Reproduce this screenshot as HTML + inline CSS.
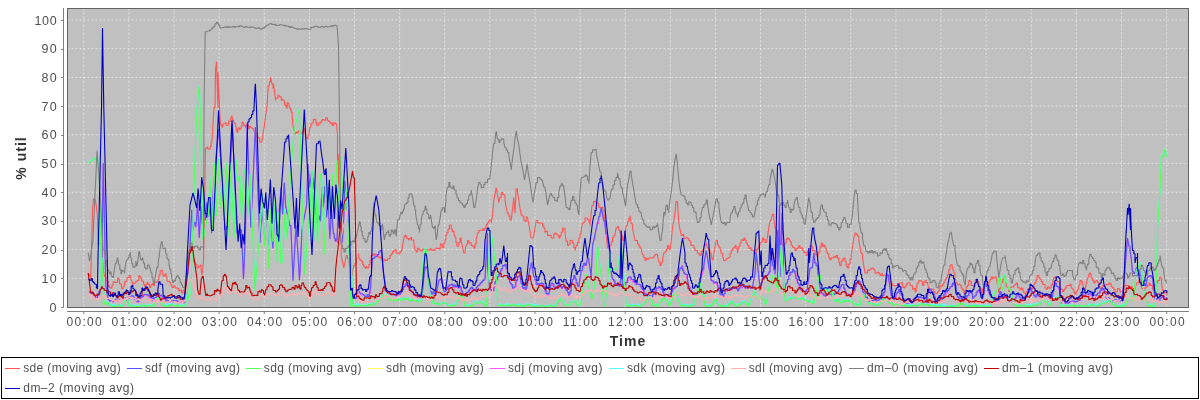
<!DOCTYPE html>
<html><head><meta charset="utf-8"><style>
html,body{margin:0;padding:0;background:#fff;width:1200px;height:400px;overflow:hidden}
svg{display:block;will-change:transform}
text{font-family:"Liberation Sans",sans-serif;fill:#505050}
.tl{font-size:12.5px}
.tx{font-size:12px}
.lab{font-size:14px;font-weight:bold;fill:#333333;letter-spacing:1px}
.lg{font-size:12px}
</style></head><body>
<svg width="1200" height="400" viewBox="0 0 1200 400">
<defs><clipPath id="pc"><rect x="67.5" y="8.5" width="1121.0" height="299.0"/></clipPath></defs>
<rect x="0" y="0" width="1200" height="400" fill="#ffffff"/>
<rect x="67.5" y="8.5" width="1121.0" height="299.0" fill="#c0c0c0"/>
<path d="M83.80 8.5V307.5M128.92 8.5V307.5M174.04 8.5V307.5M219.16 8.5V307.5M264.28 8.5V307.5M309.40 8.5V307.5M354.52 8.5V307.5M399.64 8.5V307.5M444.76 8.5V307.5M489.88 8.5V307.5M535.00 8.5V307.5M580.12 8.5V307.5M625.24 8.5V307.5M670.36 8.5V307.5M715.48 8.5V307.5M760.60 8.5V307.5M805.72 8.5V307.5M850.84 8.5V307.5M895.96 8.5V307.5M941.08 8.5V307.5M986.20 8.5V307.5M1031.32 8.5V307.5M1076.44 8.5V307.5M1121.56 8.5V307.5M1166.68 8.5V307.5M67.5 278.30H1188.5M67.5 249.60H1188.5M67.5 220.90H1188.5M67.5 192.20H1188.5M67.5 163.50H1188.5M67.5 134.80H1188.5M67.5 106.10H1188.5M67.5 77.40H1188.5M67.5 48.70H1188.5M67.5 20.00H1188.5" stroke="#ffffff" stroke-width="0.6" stroke-dasharray="2 2" fill="none" opacity="0.9"/>
<g clip-path="url(#pc)">
<path d="M88.2,274.0L89.5,274.0L89.5,276.0L90.7,276.0L90.7,280.0L91.6,245.6L92.5,210.0L93.5,199.0L94.5,199.0L94.5,199.8L95.5,199.8L95.5,201.0L96.4,206.5L97.3,215.0L98.2,244.0L99.5,244.0L99.5,243.6L100.7,243.6L100.7,245.5L101.4,245.5L101.4,243.8L102.0,252.5L103.2,270.0L104.2,275.6L105.1,275.6L105.1,277.5L106.1,277.5L106.1,280.4L107.0,280.4L107.0,281.2L108.2,281.2L108.2,285.9L109.5,285.9L109.5,287.5L110.8,287.5L110.8,288.2L112.0,288.2L112.0,285.0L113.2,285.0L113.2,281.8L114.5,281.8L114.5,282.5L116.1,282.5L116.1,282.3L117.6,282.3L117.6,278.1L118.6,278.1L118.6,279.1L119.5,279.1L119.5,283.8L120.4,283.8L120.4,284.1L121.4,284.1L121.4,288.1L122.3,288.1L122.3,288.8L123.2,288.8L123.2,286.2L124.5,286.2L124.5,281.9L125.8,281.9L125.8,281.2L127.0,281.2L127.0,277.7L128.2,277.7L128.2,277.5L129.2,277.5L129.2,275.3L130.1,275.3L130.1,275.6L131.4,281.2L132.3,281.2L132.3,284.1L133.2,284.1L133.2,283.8L134.5,283.8L134.5,283.0L135.8,283.0L135.8,281.2L137.3,281.2L137.3,280.4L138.9,280.4L138.9,275.6L139.8,275.6L139.8,276.8L140.8,276.8L140.8,278.8L141.7,278.8L141.7,281.1L142.6,281.1L142.6,281.2L143.6,281.2L143.6,284.4L144.5,284.4L144.5,286.2L145.8,286.2L145.8,284.5L147.0,284.5L147.0,282.5L148.2,282.5L148.2,284.5L149.5,284.5L149.5,287.5L150.8,287.5L150.8,285.0L152.0,285.0L152.0,283.8L153.2,283.8L153.2,285.4L154.5,285.4L154.5,282.1L155.8,282.1L155.8,282.5L157.0,282.5L157.0,281.2L157.9,281.2L157.9,279.8L158.9,279.8L158.9,275.0L160.1,275.0L160.1,270.7L161.4,270.7L161.4,270.0L162.3,270.0L162.3,274.3L163.2,274.3L163.2,276.2L164.2,276.2L164.2,275.5L165.1,275.5L165.1,273.8L166.1,273.8L166.1,276.7L167.0,276.7L167.0,281.2L168.2,281.2L168.2,281.5L169.5,281.5L169.5,282.5L170.8,282.5L170.8,284.9L172.0,284.9L172.0,287.5L173.5,287.5L173.5,285.9L175.0,285.9L175.0,288.0L176.2,288.0L176.2,288.1L177.5,288.1L177.5,288.3L178.8,288.3L178.8,291.0L180.0,291.0L180.0,290.0L181.5,290.0L181.5,292.9L183.0,292.9L183.0,290.4L184.5,290.4L184.5,293.0L185.8,282.6L187.0,270.0L188.0,261.1L189.0,255.0L190.5,247.0L192.0,247.0L192.0,250.0L193.0,255.8L194.0,262.0L195.5,262.0L195.5,264.5L197.0,264.5L197.0,268.0L198.5,268.0L198.5,266.2L200.0,266.2L200.0,265.0L201.0,265.0L201.0,268.9L202.0,275.0L203.5,262.0L204.5,204.6L205.5,148.0L207.0,148.0L207.0,147.0L207.6,147.0L207.6,148.9L208.9,148.9L208.9,149.1L210.2,149.1L210.2,146.4L211.0,146.4L211.0,142.8L211.8,142.8L211.8,140.5L212.0,140.5L212.0,141.0L213.5,115.0L213.5,115.0L213.5,115.4L214.2,107.0L215.0,107.0L215.0,108.0L215.5,70.0L216.5,62.5L216.5,62.5L216.5,61.8L218.0,108.0L218.0,72.0L219.5,107.0L219.5,107.0L219.5,107.0L220.2,120.4L221.0,125.4L221.9,125.4L221.9,127.1L222.7,127.1L222.7,124.2L223.6,124.2L223.6,123.8L224.4,123.8L224.4,123.5L225.2,123.5L225.2,122.9L226.1,122.9L226.1,125.2L226.9,125.2L226.9,125.4L227.7,125.4L227.7,125.2L228.6,125.2L228.6,121.2L229.4,121.2L229.4,121.3L230.3,121.3L230.3,118.7L231.1,118.7L231.1,117.0L231.9,117.0L231.9,115.4L232.8,120.4L233.6,120.4L233.6,122.5L234.4,122.5L234.4,123.8L235.7,123.8L235.7,126.2L237.0,132.1L237.8,132.1L237.8,128.1L238.6,128.1L238.6,127.9L239.5,127.9L239.5,129.6L240.3,129.6L240.3,128.8L241.1,128.8L241.1,126.8L242.0,126.8L242.0,122.1L242.8,122.1L242.8,122.7L243.7,122.7L243.7,125.4L244.5,125.4L244.5,125.4L245.3,125.4L245.3,127.1L246.2,127.1L246.2,124.8L247.0,124.8L247.0,123.8L247.8,123.8L247.8,125.2L248.7,125.2L248.7,128.8L249.5,128.8L249.5,126.2L250.4,126.2L250.4,127.1L251.2,127.1L251.2,127.5L252.0,127.5L252.0,128.8L252.9,128.8L252.9,128.8L253.7,128.8L253.7,131.3L255.4,131.3L255.4,133.3L257.1,133.3L257.1,137.2L258.3,137.2L258.3,137.9L259.6,137.9L259.6,142.2L260.4,142.2L260.4,142.2L261.2,142.2L261.2,141.3L262.1,141.3L262.1,138.6L262.9,138.6L262.9,133.8L264.2,127.1L265.4,117.1L266.8,107.0L267.0,107.0L267.0,108.0L267.9,90.3L268.2,90.3L268.2,85.5L269.4,85.5L269.4,81.8L270.5,81.8L270.5,77.7L270.8,77.7L270.8,78.0L271.9,84.0L273.0,84.0L273.0,88.6L273.2,83.0L274.4,90.0L275.5,100.3L275.8,100.3L275.8,98.0L276.9,98.0L276.9,98.3L278.0,98.3L278.0,95.3L279.0,95.3L279.0,96.0L279.7,96.0L279.7,97.0L280.5,97.0L280.5,96.9L281.3,96.9L281.3,100.3L281.5,100.3L281.5,99.2L283.0,99.2L283.0,100.8L284.5,100.8L284.5,104.2L284.7,104.2L284.7,105.3L285.9,105.3L285.9,107.0L287.0,107.0L287.0,102.5L287.2,108.7L287.2,102.8L288.0,102.8L288.0,103.3L288.9,103.3L288.9,106.2L289.5,106.2L289.5,108.0L290.6,108.0L290.6,110.4L291.4,110.4L291.4,112.4L292.2,112.4L292.2,117.1L293.1,127.1L293.9,127.1L293.9,130.9L294.7,130.9L294.7,133.8L296.0,133.8L296.0,132.0L297.3,132.0L297.3,133.0L298.1,133.0L298.1,131.6L298.9,131.6L298.9,130.5L299.8,130.5L299.8,131.5L300.6,131.5L300.6,133.8L301.4,133.8L301.4,133.7L302.3,133.7L302.3,132.1L303.1,132.1L303.1,129.2L304.0,129.2L304.0,128.8L304.8,128.8L304.8,131.0L305.6,137.2L306.5,137.2L306.5,138.1L307.3,138.1L307.3,138.8L308.1,138.8L308.1,134.8L309.0,134.8L309.0,133.8L309.8,127.5L310.7,127.5L310.7,123.8L311.9,123.8L311.9,123.3L313.2,123.3L313.2,119.6L314.4,119.6L314.4,119.4L315.7,119.4L315.7,122.1L316.5,122.1L316.5,124.9L317.4,124.9L317.4,125.4L318.6,125.4L318.6,122.8L319.9,122.8L319.9,122.9L321.1,122.9L321.1,121.0L322.4,121.0L322.4,119.6L324.1,119.6L324.1,120.2L325.7,120.2L325.7,117.9L326.6,117.9L326.6,117.9L327.4,117.9L327.4,120.4L328.2,120.4L328.2,121.1L329.1,121.1L329.1,121.2L329.9,121.2L329.9,123.0L330.8,123.0L330.8,123.8L331.6,123.8L331.6,122.7L332.4,122.7L332.4,125.4L333.3,125.4L333.3,124.8L334.1,124.8L334.1,122.9L335.4,122.9L335.4,123.8L336.6,123.8L336.6,123.8L337.5,135.5L337.5,243.0L338.8,153.9L340.0,203.4L341.2,255.5L342.5,262.1L343.8,268.0L345.0,262.3L346.2,255.5L347.5,255.5L347.5,258.8L348.8,258.8L348.8,261.8L350.0,268.8L351.2,275.5L352.5,275.5L352.5,271.1L353.8,265.5L355.0,265.5L355.0,262.9L356.2,262.9L356.2,257.9L357.5,257.9L357.5,254.0L358.8,254.0L358.8,258.4L360.0,258.4L360.0,260.5L361.2,260.5L361.2,261.0L362.5,261.0L362.5,264.6L363.8,264.6L363.8,266.8L365.0,266.8L365.0,268.1L366.2,268.1L366.2,266.9L367.5,266.9L367.5,268.0L368.8,268.0L368.8,264.6L370.0,264.6L370.0,260.3L371.2,260.3L371.2,255.5L372.5,255.5L372.5,253.9L373.8,253.9L373.8,255.2L375.0,255.2L375.0,254.0L376.2,254.0L376.2,255.4L377.5,255.4L377.5,256.1L378.8,256.1L378.8,258.0L380.0,258.0L380.0,257.3L381.2,257.3L381.2,259.2L382.5,259.2L382.5,261.8L383.8,261.8L383.8,259.4L385.0,259.4L385.0,260.4L386.2,260.4L386.2,260.5L387.5,260.5L387.5,258.7L388.8,258.7L388.8,258.8L390.0,258.8L390.0,255.5L391.2,255.5L391.2,253.8L392.5,253.8L392.5,251.6L393.8,251.6L393.8,250.5L395.0,250.5L395.0,249.8L396.2,249.8L396.2,253.2L397.5,253.2L397.5,253.0L398.8,253.0L398.8,253.8L400.0,253.8L400.0,251.9L401.2,251.9L401.2,250.0L402.2,250.0L402.2,247.9L403.1,242.5L404.1,236.9L405.0,236.9L405.0,235.0L405.9,235.0L405.9,236.3L406.9,236.3L406.9,238.8L407.8,238.8L407.8,238.6L408.8,238.6L408.8,240.0L409.7,240.0L409.7,238.6L410.6,238.6L410.6,237.5L411.6,237.5L411.6,240.0L412.5,240.0L412.5,240.0L413.8,240.0L413.8,242.5L415.0,250.0L416.2,250.0L416.2,251.9L417.5,251.9L417.5,248.2L418.8,248.2L418.8,249.5L420.0,249.5L420.0,250.9L421.2,250.9L421.2,251.0L422.5,251.0L422.5,249.3L423.8,249.3L423.8,249.4L425.0,249.4L425.0,252.0L426.2,252.0L426.2,249.5L427.5,249.5L427.5,249.9L428.8,249.9L428.8,250.0L430.0,250.0L430.0,248.9L431.2,248.9L431.2,250.2L432.5,250.2L432.5,249.9L433.8,249.9L433.8,250.4L435.0,250.4L435.0,249.0L436.2,249.0L436.2,248.1L437.5,248.1L437.5,248.5L438.8,248.5L438.8,248.3L440.0,248.3L440.0,250.0L440.6,243.8L441.6,243.8L441.6,244.7L442.5,244.7L442.5,247.5L443.8,247.5L443.8,243.1L445.0,243.1L445.0,240.0L445.9,240.0L445.9,235.0L446.9,235.0L446.9,232.5L448.1,232.5L448.1,229.3L449.4,229.3L449.4,225.0L450.3,225.0L450.3,225.0L451.2,225.0L451.2,228.8L452.2,228.8L452.2,231.8L453.1,231.8L453.1,231.2L454.1,231.2L454.1,235.2L455.0,235.2L455.0,237.5L455.9,237.5L455.9,242.5L456.9,242.5L456.9,246.2L457.8,246.2L457.8,246.2L458.8,246.2L458.8,242.5L460.0,242.5L460.0,238.0L461.2,238.0L461.2,241.5L462.5,246.7L463.8,253.0L465.0,253.0L465.0,250.4L466.2,244.5L467.5,244.5L467.5,240.5L468.8,240.5L468.8,243.3L470.0,243.3L470.0,242.7L471.2,242.7L471.2,245.5L472.5,245.5L472.5,245.9L473.8,245.9L473.8,248.0L475.0,248.0L475.0,244.0L476.2,244.0L476.2,239.8L477.5,233.0L478.8,233.0L478.8,230.6L480.0,230.6L480.0,230.2L481.2,230.2L481.2,230.5L482.5,230.5L482.5,228.7L483.8,228.7L483.8,230.2L485.0,230.2L485.0,228.0L486.2,228.0L486.2,224.4L487.5,224.4L487.5,222.8L488.8,222.8L488.8,220.5L490.0,220.5L490.0,220.0L491.2,220.0L491.2,223.0L492.2,217.2L493.2,208.0L493.8,200.0L495.0,194.3L496.2,187.5L497.5,195.4L498.8,202.5L500.0,197.4L501.2,197.4L501.2,192.5L502.5,192.5L502.5,194.4L503.8,194.4L503.8,195.0L505.0,195.0L505.0,199.9L506.2,207.5L507.5,213.2L508.8,213.2L508.8,216.1L510.0,216.1L510.0,220.0L511.2,220.0L511.2,220.5L512.5,208.7L513.8,197.5L515.0,213.0L516.2,188.8L517.5,188.8L517.5,192.4L518.8,200.0L520.0,208.0L521.2,215.0L522.5,215.0L522.5,216.2L523.8,216.2L523.8,220.5L525.0,220.5L525.0,221.5L526.2,221.5L526.2,217.0L527.5,217.0L527.5,218.0L528.8,224.0L530.0,231.3L531.2,238.0L532.5,238.0L532.5,237.7L533.8,237.7L533.8,235.5L535.0,228.2L536.2,220.5L537.5,220.5L537.5,222.6L538.8,222.6L538.8,223.1L540.0,223.1L540.0,223.0L541.2,223.0L541.2,223.2L542.5,223.2L542.5,225.9L543.8,225.9L543.8,228.0L545.0,228.0L545.0,232.2L546.2,232.2L546.2,231.2L547.5,231.2L547.5,235.5L548.8,235.5L548.8,235.4L550.0,235.4L550.0,235.2L551.2,235.2L551.2,238.0L552.5,238.0L552.5,238.1L553.8,238.1L553.8,233.9L555.0,233.9L555.0,233.0L556.2,233.0L556.2,234.8L557.5,234.8L557.5,235.3L558.8,235.3L558.8,238.0L560.0,238.0L560.0,236.0L561.2,236.0L561.2,232.3L562.5,232.3L562.5,228.0L563.8,228.0L563.8,228.6L565.0,228.6L565.0,233.0L566.2,241.1L567.5,241.1L567.5,245.5L568.8,245.5L568.8,244.3L570.0,244.3L570.0,240.4L571.2,240.4L571.2,240.5L572.5,240.5L572.5,243.3L573.8,243.3L573.8,247.5L575.0,247.5L575.0,250.5L576.2,245.4L577.5,245.4L577.5,242.4L578.8,242.4L578.8,238.0L580.0,238.0L580.0,233.6L581.2,233.6L581.2,229.6L582.5,223.0L583.8,223.0L583.8,222.2L585.0,222.2L585.0,218.1L586.2,218.1L586.2,218.0L587.5,218.0L587.5,219.6L588.8,219.6L588.8,222.3L590.0,222.3L590.0,225.5L591.0,215.3L592.0,205.5L593.5,205.5L593.5,201.6L595.0,201.6L595.0,201.0L596.0,201.0L596.0,203.2L597.0,203.2L597.0,203.0L598.5,203.0L598.5,207.0L600.0,207.0L600.0,208.0L601.5,208.0L601.5,207.3L603.0,207.3L603.0,210.5L604.0,210.5L604.0,214.2L605.0,220.5L606.2,234.8L607.5,248.0L608.8,248.0L608.8,246.7L610.0,246.7L610.0,245.5L611.2,245.5L611.2,242.1L612.5,242.1L612.5,237.6L613.8,237.6L613.8,235.5L615.0,235.5L615.0,233.9L616.2,227.7L617.5,227.7L617.5,226.8L618.8,226.8L618.8,230.4L620.0,230.4L620.0,233.0L621.2,233.0L621.2,235.5L622.5,235.5L622.5,240.5L623.8,240.5L623.8,237.0L625.0,237.0L625.0,232.3L626.2,225.5L627.5,225.5L627.5,221.4L628.8,221.4L628.8,218.1L630.0,218.1L630.0,215.5L631.2,223.7L632.5,223.7L632.5,228.0L633.8,234.5L635.0,240.5L636.2,240.5L636.2,240.5L637.5,240.5L637.5,243.9L638.8,243.9L638.8,246.1L640.0,246.1L640.0,248.0L641.2,248.0L641.2,249.6L642.5,254.7L643.8,254.7L643.8,257.4L645.0,257.4L645.0,260.5L646.2,260.5L646.2,258.4L647.5,258.4L647.5,259.1L648.8,259.1L648.8,258.0L650.0,258.0L650.0,258.0L651.2,258.0L651.2,257.7L652.5,257.7L652.5,257.9L653.8,257.9L653.8,256.0L655.0,256.0L655.0,254.6L656.2,254.6L656.2,254.2L657.5,254.2L657.5,255.5L658.8,262.0L660.0,262.0L660.0,265.5L661.2,265.5L661.2,262.7L662.5,262.7L662.5,259.1L663.8,253.0L665.0,253.0L665.0,251.7L666.2,251.7L666.2,249.2L667.5,249.2L667.5,245.5L668.8,245.5L668.8,248.9L670.0,248.9L670.0,250.5L671.2,240.6L672.5,228.0L673.8,220.6L675.0,213.0L676.0,201.5L677.5,201.5L677.5,203.0L678.8,223.0L680.0,229.1L681.2,235.5L682.5,235.5L682.5,234.6L683.8,234.6L683.8,238.7L685.0,238.7L685.0,238.0L686.2,238.0L686.2,237.8L687.5,237.8L687.5,238.4L688.8,238.4L688.8,240.5L690.0,240.5L690.0,240.3L691.2,245.4L692.5,245.4L692.5,245.5L693.8,245.5L693.8,248.0L695.0,248.0L695.0,250.8L696.2,250.8L696.2,250.5L697.5,250.5L697.5,253.3L698.8,253.3L698.8,253.9L700.0,253.9L700.0,255.5L701.2,255.5L701.2,251.4L702.5,251.4L702.5,250.3L703.8,250.3L703.8,245.5L705.0,245.5L705.0,244.3L706.2,244.3L706.2,243.0L707.5,248.1L708.8,248.1L708.8,250.7L710.0,250.7L710.0,253.0L711.2,253.0L711.2,255.3L712.5,260.5L713.8,254.5L715.0,247.0L716.2,240.5L717.5,240.5L717.5,245.0L718.8,245.0L718.8,247.3L720.0,247.3L720.0,248.0L721.2,253.3L722.5,253.3L722.5,255.4L723.8,260.5L725.0,260.5L725.0,260.3L726.2,260.3L726.2,258.7L727.5,258.7L727.5,258.0L728.8,258.0L728.8,257.3L730.0,257.3L730.0,253.5L731.2,253.5L731.2,250.5L732.5,250.5L732.5,248.5L733.8,248.5L733.8,247.6L735.0,247.6L735.0,245.5L736.2,245.5L736.2,249.0L737.5,249.0L737.5,253.0L738.8,246.2L740.0,246.2L740.0,243.0L741.2,243.0L741.2,239.7L742.5,239.7L742.5,240.4L743.8,240.4L743.8,238.0L745.0,238.0L745.0,240.2L746.2,240.2L746.2,243.5L747.5,243.5L747.5,245.5L748.8,245.5L748.8,248.4L750.0,248.4L750.0,247.8L751.2,247.8L751.2,250.5L752.5,250.5L752.5,250.0L753.8,250.0L753.8,253.9L755.0,253.9L755.0,253.0L756.2,253.0L756.2,249.6L757.5,249.6L757.5,248.1L758.8,248.1L758.8,245.5L760.0,245.5L760.0,242.7L761.2,242.7L761.2,241.7L762.5,241.7L762.5,238.0L763.8,238.0L763.8,239.5L765.0,239.5L765.0,242.5L766.2,242.5L766.2,243.0L767.5,237.2L768.8,227.9L770.0,220.5L771.2,220.5L771.2,219.3L772.5,214.2L773.8,214.2L773.8,219.2L775.0,228.0L776.2,228.0L776.2,231.0L777.5,238.0L778.8,238.0L778.8,239.8L780.0,239.8L780.0,244.3L781.2,244.3L781.2,245.5L782.5,245.5L782.5,244.4L783.8,244.4L783.8,244.6L785.0,244.6L785.0,243.0L786.2,243.0L786.2,239.1L787.5,239.1L787.5,238.0L788.8,238.0L788.8,239.8L790.0,239.8L790.0,241.8L791.2,241.8L791.2,245.5L792.5,245.5L792.5,247.1L793.8,247.1L793.8,247.7L795.0,247.7L795.0,250.5L796.2,250.5L796.2,248.7L797.5,248.7L797.5,248.0L798.8,248.0L798.8,245.5L800.0,245.5L800.0,248.1L801.2,248.1L801.2,247.7L802.5,247.7L802.5,250.5L803.8,250.5L803.8,252.8L805.0,252.8L805.0,252.0L806.2,252.0L806.2,255.5L807.5,255.5L807.5,250.9L808.8,250.9L808.8,248.7L810.0,248.7L810.0,245.5L811.2,245.5L811.2,246.3L812.5,246.3L812.5,250.7L813.8,250.7L813.8,250.5L815.0,250.5L815.0,254.7L816.2,254.7L816.2,254.5L817.5,254.5L817.5,258.0L818.8,251.9L820.0,251.9L820.0,247.1L821.2,247.1L821.2,243.0L822.5,243.0L822.5,246.5L823.8,246.5L823.8,245.3L825.0,245.3L825.0,248.0L826.2,248.0L826.2,252.2L827.5,252.2L827.5,253.7L828.8,253.7L828.8,258.0L830.0,258.0L830.0,259.7L831.2,259.7L831.2,257.7L832.5,257.7L832.5,258.0L833.8,258.0L833.8,256.4L835.0,256.4L835.0,257.5L836.2,257.5L836.2,255.5L837.5,255.5L837.5,258.1L838.8,258.1L838.8,260.4L840.0,265.5L841.2,265.5L841.2,261.1L842.5,261.1L842.5,259.1L843.8,259.1L843.8,258.0L845.0,258.0L845.0,261.7L846.2,261.7L846.2,266.1L847.5,266.1L847.5,268.0L848.8,268.0L848.8,264.1L850.0,264.1L850.0,259.4L851.2,259.4L851.2,255.5L852.5,246.5L853.8,238.6L855.0,233.0L856.2,233.0L856.2,234.3L857.5,234.3L857.5,236.1L858.8,236.1L858.8,240.5L860.0,246.4L861.2,253.4L862.5,253.4L862.5,258.0L863.8,265.8L865.0,273.0L866.2,273.0L866.2,273.0L867.5,273.0L867.5,270.1L868.8,270.1L868.8,270.5L870.0,270.5L870.0,269.3L871.2,269.3L871.2,268.4L872.5,268.4L872.5,268.0L873.8,268.0L873.8,269.8L875.0,269.8L875.0,273.1L876.2,273.1L876.2,273.0L877.5,273.0L877.5,272.2L878.8,272.2L878.8,274.0L880.0,274.0L880.0,275.5L881.2,275.5L881.2,273.6L882.5,273.6L882.5,275.4L883.8,275.4L883.8,275.2L885.0,275.2L885.0,275.5L886.2,275.5L886.2,277.0L887.5,277.0L887.5,275.2L888.8,275.2L888.8,278.0L890.0,278.0L890.0,281.8L891.2,281.8L891.2,283.8L892.5,283.8L892.5,285.5L893.8,285.5L893.8,285.8L895.0,285.8L895.0,285.6L896.2,285.6L896.2,285.5L897.5,285.5L897.5,283.2L898.8,283.2L898.8,283.5L900.0,283.5L900.0,283.0L901.2,283.0L901.2,282.8L902.5,282.8L902.5,287.4L903.8,287.4L903.8,288.0L905.0,288.0L905.0,286.4L906.2,286.4L906.2,284.1L907.5,284.1L907.5,283.0L908.8,283.0L908.8,282.8L910.0,282.8L910.0,285.5L911.2,285.5L911.2,285.8L912.5,285.8L912.5,289.2L913.8,289.2L913.8,288.6L915.0,288.6L915.0,291.8L916.2,291.8L916.2,288.5L917.5,283.0L918.8,283.0L918.8,280.6L920.0,280.6L920.0,280.5L921.2,280.5L921.2,281.5L922.5,281.5L922.5,285.5L923.8,285.5L923.8,282.8L925.0,282.8L925.0,280.5L926.2,280.5L926.2,282.2L927.5,282.2L927.5,283.0L928.8,288.7L930.0,288.7L930.0,290.5L931.2,290.5L931.2,289.4L932.5,289.4L932.5,289.2L933.8,289.2L933.8,291.9L935.0,291.9L935.0,293.0L936.2,293.0L936.2,293.5L937.5,293.5L937.5,291.8L938.8,291.8L938.8,290.2L940.0,290.2L940.0,285.5L941.2,285.5L941.2,286.3L942.5,286.3L942.5,284.2L943.8,284.2L943.8,282.3L945.0,282.3L945.0,279.2L946.2,279.2L946.2,277.5L947.5,277.5L947.5,274.2L948.8,274.2L948.8,269.9L950.0,269.9L950.0,265.5L950.9,265.5L950.9,264.7L951.9,264.7L951.9,264.2L952.8,270.0L953.8,270.0L953.8,273.0L955.0,273.0L955.0,276.9L956.2,283.0L957.5,283.0L957.5,284.7L958.8,284.7L958.8,284.2L960.0,284.2L960.0,285.2L961.2,285.2L961.2,288.0L962.5,288.0L962.5,289.7L963.8,289.7L963.8,293.0L965.0,293.0L965.0,290.9L966.2,290.9L966.2,286.8L967.5,286.8L967.5,285.4L968.8,285.4L968.8,280.5L970.0,280.5L970.0,281.3L971.2,281.3L971.2,285.5L972.5,285.5L972.5,285.4L973.8,285.4L973.8,286.8L975.0,286.8L975.0,283.0L976.2,283.0L976.2,279.2L977.5,279.2L977.5,281.7L978.8,281.7L978.8,283.0L980.0,288.9L981.2,288.9L981.2,293.0L982.5,293.0L982.5,288.9L983.8,288.9L983.8,284.2L985.0,284.2L985.0,283.6L986.2,283.6L986.2,285.5L987.5,285.5L987.5,285.1L988.8,285.1L988.8,281.8L990.0,281.8L990.0,279.6L991.2,279.6L991.2,276.8L992.5,276.8L992.5,278.7L993.8,278.7L993.8,278.0L995.0,278.0L995.0,276.9L996.2,276.9L996.2,276.8L997.5,285.2L998.8,293.0L1000.0,287.9L1001.2,287.9L1001.2,283.0L1002.5,283.0L1002.5,279.6L1003.8,279.6L1003.8,278.0L1005.0,278.0L1005.0,282.7L1006.2,282.7L1006.2,286.8L1007.5,286.8L1007.5,287.3L1008.8,287.3L1008.8,291.8L1010.0,291.8L1010.0,288.0L1011.2,288.0L1011.2,286.8L1012.5,286.8L1012.5,287.0L1013.8,287.0L1013.8,285.5L1015.0,285.5L1015.0,284.4L1016.2,284.4L1016.2,283.0L1017.5,283.0L1017.5,287.4L1018.8,287.4L1018.8,288.0L1020.0,288.0L1020.0,289.8L1021.2,289.8L1021.2,288.0L1022.5,288.0L1022.5,290.3L1023.8,290.3L1023.8,293.0L1025.0,293.0L1025.0,294.1L1026.2,294.1L1026.2,291.8L1027.5,291.8L1027.5,289.4L1028.8,289.4L1028.8,288.0L1030.0,288.0L1030.0,288.0L1031.2,288.0L1031.2,289.2L1032.5,289.2L1032.5,287.3L1033.8,287.3L1033.8,284.2L1035.0,284.2L1035.0,282.3L1036.2,282.3L1036.2,280.5L1037.5,275.5L1038.8,275.5L1038.8,277.5L1040.0,277.5L1040.0,279.2L1041.2,279.2L1041.2,281.5L1042.5,281.5L1042.5,284.2L1043.8,284.2L1043.8,284.5L1045.0,284.5L1045.0,288.0L1046.2,288.0L1046.2,289.1L1047.5,289.1L1047.5,286.8L1048.8,286.8L1048.8,288.3L1050.0,288.3L1050.0,288.0L1051.2,288.0L1051.2,285.1L1052.5,285.1L1052.5,283.0L1053.8,277.9L1055.0,277.9L1055.0,276.8L1056.2,276.8L1056.2,280.8L1057.5,280.8L1057.5,281.8L1058.8,281.8L1058.8,282.0L1060.0,282.0L1060.0,283.0L1060.0,288.0L1061.2,288.0L1061.2,289.5L1062.5,289.5L1062.5,291.8L1063.8,291.8L1063.8,289.6L1065.0,289.6L1065.0,288.0L1066.2,288.0L1066.2,285.7L1067.5,285.7L1067.5,285.5L1068.8,285.5L1068.8,285.6L1070.0,285.6L1070.0,284.2L1071.2,284.2L1071.2,288.2L1072.5,288.2L1072.5,289.2L1073.8,289.2L1073.8,292.4L1075.0,292.4L1075.0,294.2L1076.2,294.2L1076.2,291.1L1077.5,291.1L1077.5,289.2L1078.8,289.2L1078.8,285.0L1080.0,285.0L1080.0,280.5L1081.2,280.5L1081.2,281.5L1082.5,281.5L1082.5,283.0L1083.8,288.3L1085.0,288.3L1085.0,290.5L1086.2,283.8L1087.5,278.0L1088.4,278.0L1088.4,274.8L1089.4,274.8L1089.4,273.0L1090.3,273.0L1090.3,274.1L1091.2,274.1L1091.2,278.0L1092.5,278.0L1092.5,280.2L1093.8,280.2L1093.8,283.0L1095.0,283.0L1095.0,281.2L1096.2,281.2L1096.2,280.5L1097.5,280.5L1097.5,282.4L1098.8,282.4L1098.8,286.8L1100.0,286.8L1100.0,288.8L1101.2,288.8L1101.2,288.0L1102.5,288.0L1102.5,285.7L1103.8,285.7L1103.8,285.5L1105.0,285.5L1105.0,285.1L1106.2,285.1L1106.2,284.2L1107.5,284.2L1107.5,284.8L1108.8,284.8L1108.8,283.0L1110.0,283.0L1110.0,283.9L1111.2,283.9L1111.2,286.8L1112.5,286.8L1112.5,288.0L1113.8,288.0L1113.8,289.2L1115.0,289.2L1115.0,292.2L1116.2,292.2L1116.2,291.8L1117.5,291.8L1117.5,288.6L1118.8,288.6L1118.8,289.2L1120.0,289.2L1120.0,291.9L1121.2,291.9L1121.2,291.8L1122.5,291.8L1122.5,289.4L1123.8,289.4L1123.8,286.8L1125.0,286.8L1125.0,285.1L1126.2,285.1L1126.2,285.5L1127.5,285.5L1127.5,285.6L1128.8,285.6L1128.8,288.0L1130.0,288.0L1130.0,287.9L1131.2,287.9L1131.2,286.8L1132.5,286.8L1132.5,288.5L1133.8,288.5L1133.8,289.2L1135.0,289.2L1135.0,285.5L1136.2,285.5L1136.2,283.0L1137.5,283.0L1137.5,282.8L1138.8,282.8L1138.8,280.5L1140.0,280.5L1140.0,283.1L1141.2,283.1L1141.2,288.0L1142.5,288.0L1142.5,288.8L1143.8,288.8L1143.8,290.5L1145.0,290.5L1145.0,287.9L1146.2,287.9L1146.2,286.8L1147.5,286.8L1147.5,285.1L1148.8,285.1L1148.8,283.0L1150.0,283.0L1150.0,285.4L1151.2,285.4L1151.2,285.5L1152.5,285.5L1152.5,289.5L1153.8,289.5L1153.8,290.5L1155.0,284.8L1156.2,284.8L1156.2,283.0L1157.5,283.0L1157.5,280.6L1158.8,280.6L1158.8,280.5L1159.7,280.5L1159.7,277.3L1160.6,277.3L1160.6,278.0L1161.6,278.0L1161.6,282.8L1162.5,290.5L1163.8,290.5L1163.8,292.9L1165.0,292.9L1165.0,291.8L1165.9,291.8L1165.9,292.3L1166.9,292.3L1166.9,295.5" stroke="#ff5555" stroke-width="1.1" fill="none" stroke-linejoin="bevel"/>
<path d="M88.9,292.2L89.8,292.2L89.8,293.1L90.8,293.1L90.8,293.5L91.7,293.5L91.7,293.2L92.6,293.2L92.6,293.5L93.6,293.5L93.6,293.8L94.5,293.8L94.5,296.0L95.4,296.0L95.4,296.9L96.4,296.9L96.4,298.5L97.4,298.5L97.4,296.0L98.8,296.0L98.8,293.1L100.1,293.1L100.1,288.8L101.5,288.8L101.5,285.5L102.4,224.7L103.2,163.5L104.5,223.8L105.8,285.5L107.0,292.5L108.2,299.8L109.2,299.8L109.2,300.1L110.1,300.1L110.1,301.0L111.4,301.0L111.4,300.9L112.6,300.9L112.6,302.2L113.9,302.2L113.9,300.5L115.1,300.5L115.1,299.8L116.1,299.8L116.1,299.6L117.0,299.6L117.0,301.0L118.2,301.0L118.2,301.1L119.5,301.1L119.5,299.8L120.8,299.8L120.8,299.8L122.0,299.8L122.0,299.8L123.2,299.8L123.2,299.2L124.5,299.2L124.5,298.5L125.8,298.5L125.8,299.7L127.0,299.7L127.0,299.8L128.2,299.8L128.2,298.9L129.5,298.9L129.5,297.2L130.8,297.2L130.8,296.2L132.0,296.2L132.0,296.0L133.2,296.0L133.2,298.6L134.5,298.6L134.5,299.8L135.8,299.8L135.8,301.1L137.0,301.1L137.0,302.2L138.2,302.2L138.2,301.9L139.5,301.9L139.5,299.8L140.8,299.8L140.8,298.0L142.0,298.0L142.0,297.2L143.2,297.2L143.2,295.7L144.5,295.7L144.5,294.8L145.8,294.8L145.8,294.5L147.0,294.5L147.0,296.0L148.2,296.0L148.2,297.2L149.5,297.2L149.5,297.2L150.8,297.2L150.8,299.4L152.0,299.4L152.0,301.0L153.2,301.0L153.2,300.4L154.5,300.4L154.5,298.5L155.8,298.5L155.8,296.4L157.0,296.4L157.0,294.8L158.2,294.8L158.2,296.2L159.5,296.2L159.5,296.0L160.8,296.0L160.8,297.1L162.0,297.1L162.0,297.2L163.2,297.2L163.2,299.1L164.5,299.1L164.5,299.8L165.8,299.8L165.8,299.4L167.0,299.4L167.0,301.0L168.2,301.0L168.2,301.6L169.5,301.6L169.5,301.9L170.8,301.9L170.8,301.0L172.0,301.0L172.0,301.5L173.2,301.5L173.2,300.9L174.5,300.9L174.5,301.0L175.8,301.0L175.8,301.7L177.0,301.7L177.0,301.4L178.2,301.4L178.2,302.2L179.5,302.2L179.5,301.2L180.8,301.2L180.8,302.2L182.0,302.2L182.0,301.0L183.2,301.0L183.2,301.9L184.5,301.9L184.5,302.2L185.8,296.0L187.2,280.4L188.6,262.7L190.0,246.8L190.8,228.3L191.7,210.2L193.0,230.4L194.3,223.1L195.9,223.1L195.9,227.6L196.8,216.1L197.6,203.5L198.5,220.3L199.3,238.5L200.1,222.5L201.0,206.3L202.3,224.5L203.2,215.2L204.0,206.0L205.5,220.5L206.8,202.7L207.7,209.5L208.6,217.2L209.5,209.8L210.4,201.4L211.7,233.5L212.5,211.2L213.4,188.3L214.6,173.3L215.9,159.3L217.2,145.0L218.5,129.3L219.8,146.7L221.0,166.7L222.3,183.4L223.6,202.1L224.9,230.0L226.4,230.0L226.4,227.2L227.9,227.2L227.9,226.5L229.4,192.3L230.8,157.7L232.3,124.2L233.8,159.7L235.3,197.2L236.9,233.4L238.4,233.4L238.4,231.7L240.0,231.7L240.0,231.7L241.5,231.7L241.5,230.5L242.5,255.9L243.5,279.5L244.5,255.6L245.5,230.5L247.0,124.2L248.3,158.2L249.6,192.7L250.9,227.9L252.4,195.2L253.9,161.0L255.4,127.5L256.9,167.0L258.4,204.3L259.9,243.1L260.9,225.2L261.8,207.0L262.7,216.4L263.6,226.2L265.0,241.0L265.8,222.3L266.7,205.2L268.1,245.2L269.5,239.3L271.1,217.5L271.9,233.0L272.8,248.6L274.2,221.0L275.6,207.1L276.5,220.5L277.4,233.9L278.3,223.2L279.1,213.0L280.1,201.5L281.0,188.1L282.6,214.7L283.4,199.4L284.3,183.1L285.7,207.7L287.0,212.8L288.4,218.1L289.7,224.0L291.0,230.5L292.0,255.1L293.0,281.0L294.5,252.5L296.0,225.5L297.8,252.1L299.5,280.5L300.8,256.1L302.0,230.5L303.5,221.9L305.0,213.9L306.5,206.0L308.0,164.2L308.9,175.9L309.9,188.0L310.7,180.7L311.5,173.6L312.4,173.6L312.4,177.8L313.2,177.8L313.2,182.7L314.2,188.3L315.1,193.8L316.0,208.5L316.9,222.9L317.7,222.9L317.7,219.2L318.6,219.2L318.6,216.4L319.4,216.4L319.4,219.0L320.3,219.0L320.3,221.7L321.2,203.7L322.0,187.1L323.5,207.7L324.8,186.8L325.6,201.6L326.5,217.7L327.3,209.7L328.2,202.5L329.0,220.5L329.8,239.1L330.7,224.2L331.6,210.2L332.5,222.2L333.4,234.2L334.3,234.2L334.3,238.2L335.2,238.2L335.2,241.5L336.0,241.5L336.0,241.2L336.9,241.2L336.9,240.7L337.8,223.5L338.7,207.9L339.6,207.9L339.6,204.3L340.5,204.3L340.5,202.6L341.3,222.2L342.1,243.1L343.5,226.9L344.9,181.3L346.3,208.7L347.9,208.7L347.9,212.0L349.7,254.1L351.5,297.5L351.6,297.5L351.6,295.3L353.2,295.3L353.2,297.5L354.9,297.5L354.9,298.6L356.5,298.6L356.5,296.0L358.2,296.0L358.2,292.0L359.4,292.0L359.4,292.2L360.6,292.2L360.6,294.3L361.9,294.3L361.9,295.2L363.1,295.2L363.1,295.3L364.3,295.3L364.3,296.0L365.6,296.0L365.6,296.3L366.8,296.3L366.8,296.2L368.1,296.2L368.1,297.0L369.3,297.0L369.3,293.1L370.5,293.1L370.5,288.7L371.4,273.4L372.2,259.0L373.5,259.0L373.5,257.5L374.8,257.5L374.8,257.0L376.1,257.0L376.1,255.0L377.4,255.0L377.4,255.1L378.7,255.1L378.7,252.7L380.0,252.7L380.0,251.1L381.3,251.1L381.3,250.8L382.5,263.3L383.7,275.5L385.0,283.3L386.2,292.0L387.9,292.0L387.9,292.7L389.5,292.7L389.5,293.7L390.7,293.7L390.7,294.2L392.0,294.2L392.0,293.9L393.2,293.9L393.2,294.3L394.5,294.3L394.5,295.3L395.7,295.3L395.7,295.7L396.9,295.7L396.9,296.1L398.2,296.1L398.2,294.5L399.4,294.5L399.4,295.3L400.8,295.3L400.8,291.8L402.2,291.8L402.2,289.0L403.5,289.0L403.5,287.1L404.8,287.1L404.8,284.6L406.0,284.6L406.0,283.8L407.2,283.8L407.2,284.9L408.5,284.9L408.5,288.1L409.7,288.1L409.7,290.0L411.0,290.0L411.0,292.0L412.3,292.0L412.3,292.9L413.6,292.9L413.6,294.4L414.9,294.4L414.9,295.8L416.2,295.8L416.2,297.0L417.6,297.0L417.6,298.6L418.8,298.6L418.8,297.5L420.0,297.5L420.0,294.5L421.3,294.5L421.3,293.4L422.5,293.4L422.5,292.0L423.7,279.5L425.0,267.3L426.2,267.3L426.2,269.0L427.5,269.0L427.5,272.2L428.7,282.0L429.9,292.0L431.4,292.0L431.4,292.2L432.8,292.2L432.8,294.0L434.3,294.0L434.3,293.7L435.7,293.7L435.7,295.3L437.4,287.3L439.0,280.5L440.2,280.5L440.2,278.9L441.5,278.9L441.5,278.8L442.7,284.6L444.0,292.0L445.2,292.0L445.2,290.5L446.4,290.5L446.4,288.1L447.7,288.1L447.7,287.7L448.9,287.7L448.9,285.4L450.2,285.4L450.2,285.7L451.6,285.7L451.6,285.1L452.9,285.1L452.9,286.1L454.2,286.1L454.2,287.7L455.5,287.7L455.5,287.1L457.0,287.1L457.0,287.7L458.5,287.7L458.5,288.0L460.0,288.0L460.0,287.2L461.2,287.2L461.2,290.3L462.5,290.3L462.5,294.8L463.8,294.8L463.8,294.6L465.0,294.6L465.0,296.0L466.2,296.0L466.2,293.4L467.5,293.4L467.5,292.2L468.8,292.2L468.8,290.8L470.0,290.8L470.0,288.5L471.2,288.5L471.2,289.9L472.5,289.9L472.5,289.8L473.8,289.8L473.8,289.6L475.0,289.6L475.0,291.0L476.2,291.0L476.2,287.7L477.5,287.7L477.5,286.0L478.8,286.0L478.8,284.8L480.0,284.8L480.0,283.5L481.2,283.5L481.2,281.8L482.5,281.8L482.5,281.0L483.8,281.0L483.8,280.2L485.0,280.2L485.0,279.8L486.2,256.5L487.5,233.5L487.5,273.5L488.8,282.6L490.0,289.8L491.2,289.8L491.2,289.9L492.5,289.9L492.5,291.0L493.8,291.0L493.8,287.1L495.0,287.1L495.0,282.2L496.2,282.2L496.2,279.1L497.5,279.1L497.5,277.2L498.8,277.2L498.8,276.1L500.0,276.1L500.0,274.8L501.2,274.8L501.2,270.3L502.5,270.3L502.5,266.0L503.8,266.0L503.8,264.5L505.0,264.5L505.0,264.8L506.2,270.0L507.5,270.0L507.5,273.5L508.8,278.9L510.0,278.9L510.0,283.5L511.2,283.5L511.2,286.2L512.5,286.2L512.5,288.5L513.8,288.5L513.8,288.8L515.0,288.8L515.0,287.2L516.2,287.2L516.2,282.5L517.5,277.2L518.8,277.2L518.8,275.8L520.0,275.8L520.0,276.0L521.2,281.9L522.5,288.5L523.8,288.5L523.8,288.6L525.0,288.6L525.0,289.8L526.2,289.8L526.2,287.6L527.5,287.6L527.5,283.5L528.8,276.8L530.0,268.5L530.9,268.5L530.9,265.8L531.9,265.8L531.9,262.2L532.8,270.4L533.8,277.2L535.0,277.2L535.0,281.0L536.2,281.0L536.2,284.8L537.5,284.8L537.5,283.9L538.8,283.9L538.8,284.8L540.0,284.8L540.0,285.1L541.2,285.1L541.2,283.5L542.5,283.5L542.5,286.0L543.8,286.0L543.8,287.2L545.0,287.2L545.0,291.8L546.2,291.8L546.2,294.8L547.5,294.8L547.5,295.3L548.8,295.3L548.8,294.8L550.0,288.9L551.2,283.5L552.5,283.5L552.5,285.6L553.8,285.6L553.8,287.2L555.0,287.2L555.0,287.1L556.2,287.1L556.2,288.5L557.5,288.5L557.5,286.9L558.8,286.9L558.8,283.5L560.0,283.5L560.0,286.7L561.2,286.7L561.2,288.5L562.5,288.5L562.5,287.3L563.8,287.3L563.8,287.2L565.0,287.2L565.0,289.3L566.2,289.3L566.2,291.0L567.5,291.0L567.5,293.0L568.8,293.0L568.8,296.0L570.0,296.0L570.0,291.4L571.2,291.4L571.2,287.2L572.5,281.9L573.8,276.0L575.0,276.0L575.0,279.4L576.2,279.4L576.2,283.5L577.5,283.5L577.5,285.3L578.8,285.3L578.8,287.2L580.0,280.0L581.2,271.0L582.5,271.0L582.5,268.0L583.8,268.0L583.8,263.5L585.0,263.5L585.0,265.3L586.2,265.3L586.2,266.0L587.5,258.5L588.8,258.5L588.8,261.0L590.0,269.8L591.2,277.2L592.5,246.0L593.8,239.9L595.0,239.9L595.0,234.9L596.2,229.3L597.5,223.5L598.8,223.5L598.8,219.4L600.0,212.6L601.2,212.6L601.2,208.5L602.5,214.8L603.8,220.5L605.0,226.0L606.2,233.0L607.5,239.7L608.8,246.8L610.0,253.5L610.0,262.2L611.2,271.6L612.5,279.8L613.8,279.8L613.8,282.1L615.0,282.1L615.0,284.8L616.2,284.8L616.2,285.1L617.5,285.1L617.5,284.8L618.8,284.8L618.8,285.1L620.0,285.1L620.0,286.0L621.2,273.1L622.5,258.5L622.5,288.5L623.8,288.5L623.8,286.5L625.0,286.5L625.0,284.7L626.2,284.7L626.2,281.4L627.5,281.4L627.5,280.3L628.8,280.3L628.8,277.2L630.0,277.2L630.0,278.4L631.2,278.4L631.2,279.8L632.5,279.8L632.5,281.9L633.8,281.9L633.8,282.2L635.0,282.2L635.0,284.1L636.2,284.1L636.2,284.8L637.5,284.8L637.5,284.0L638.8,284.0L638.8,284.8L640.0,284.8L640.0,286.6L641.2,286.6L641.2,288.5L642.5,288.5L642.5,290.8L643.8,290.8L643.8,293.5L645.0,293.5L645.0,293.6L646.2,293.6L646.2,294.8L647.5,294.8L647.5,295.0L648.8,295.0L648.8,296.0L650.0,296.0L650.0,295.7L651.2,295.7L651.2,297.2L652.5,297.2L652.5,296.3L653.8,296.3L653.8,293.5L655.0,293.5L655.0,290.3L656.2,290.3L656.2,288.5L657.5,288.5L657.5,288.6L658.8,288.6L658.8,287.2L660.0,287.2L660.0,289.0L661.2,289.0L661.2,289.8L662.5,289.8L662.5,293.1L663.8,293.1L663.8,297.2L665.0,297.2L665.0,296.8L666.2,296.8L666.2,297.2L667.5,297.2L667.5,296.7L668.8,296.7L668.8,294.8L670.0,294.8L670.0,293.3L671.2,293.3L671.2,292.2L672.5,292.2L672.5,289.7L673.8,289.7L673.8,288.5L675.0,288.5L675.0,287.2L676.2,287.2L676.2,286.2L677.5,286.2L677.5,284.8L678.8,275.6L680.0,268.5L680.9,268.5L680.9,267.5L681.9,267.5L681.9,266.0L682.8,266.0L682.8,269.1L683.8,269.1L683.8,273.5L685.0,273.5L685.0,274.2L686.2,274.2L686.2,274.8L687.5,281.6L688.8,287.2L690.0,287.2L690.0,290.3L691.2,290.3L691.2,292.2L692.5,292.2L692.5,293.0L693.8,293.0L693.8,294.8L695.0,294.8L695.0,294.7L696.2,294.7L696.2,293.5L697.5,293.5L697.5,292.7L698.8,292.7L698.8,292.2L700.0,283.3L701.2,274.8L702.5,274.8L702.5,270.5L703.8,270.5L703.8,266.0L705.0,258.2L706.2,251.0L707.5,258.5L708.8,266.9L710.0,274.1L711.2,281.0L712.5,281.0L712.5,281.9L713.8,281.9L713.8,283.5L714.7,283.5L714.7,282.0L715.6,282.0L715.6,282.2L716.6,282.2L716.6,284.6L717.5,284.6L717.5,286.0L718.8,286.0L718.8,289.4L720.0,294.8L721.2,294.8L721.2,296.1L722.5,296.1L722.5,297.2L723.8,297.2L723.8,294.3L725.0,294.3L725.0,291.0L726.2,291.0L726.2,291.3L727.5,291.3L727.5,289.8L728.8,289.8L728.8,290.2L730.0,290.2L730.0,289.8L731.2,289.8L731.2,289.7L732.5,289.7L732.5,288.5L733.8,288.5L733.8,288.0L735.0,288.0L735.0,287.2L736.2,287.2L736.2,289.0L737.5,289.0L737.5,291.0L738.8,291.0L738.8,289.0L740.0,289.0L740.0,287.2L741.2,287.2L741.2,287.6L742.5,287.6L742.5,286.0L743.8,286.0L743.8,286.3L745.0,286.3L745.0,288.5L746.2,288.5L746.2,288.3L747.5,288.3L747.5,287.2L748.8,287.2L748.8,287.3L750.0,287.3L750.0,288.5L751.2,288.5L751.2,287.7L752.5,287.7L752.5,287.2L753.8,281.0L755.0,274.8L756.2,253.5L757.5,264.4L758.8,276.1L760.0,288.5L761.2,288.5L761.2,283.8L762.5,278.5L763.8,278.5L763.8,278.8L765.0,278.8L765.0,277.2L766.2,277.2L766.2,275.2L767.5,275.2L767.5,274.8L768.8,274.8L768.8,272.4L770.0,272.4L770.0,271.0L771.2,248.5L772.5,266.0L773.8,266.0L773.8,270.5L775.0,270.5L775.0,274.8L776.2,252.5L777.5,230.5L777.5,283.5L778.5,243.9L779.5,205.5L780.0,277.2L781.0,245.5L782.0,213.0L783.0,230.5L783.8,293.5L785.0,293.5L785.0,288.7L786.2,283.5L787.5,283.5L787.5,279.5L788.8,279.5L788.8,276.0L790.0,276.0L790.0,274.0L791.2,274.0L791.2,271.6L792.5,271.6L792.5,269.8L793.8,269.8L793.8,271.3L795.0,271.3L795.0,273.5L796.2,273.5L796.2,278.1L797.5,283.5L798.8,283.5L798.8,285.9L800.0,285.9L800.0,289.8L801.2,289.8L801.2,291.0L802.5,291.0L802.5,291.0L803.8,291.0L803.8,290.7L805.0,290.7L805.0,292.2L806.2,292.2L806.2,289.2L807.5,289.2L807.5,286.0L808.8,277.7L810.0,268.5L811.2,268.5L811.2,267.4L812.5,267.4L812.5,266.0L813.8,253.5L815.0,263.5L816.2,263.5L816.2,265.4L817.5,265.4L817.5,268.5L818.4,276.1L819.4,283.5L820.3,289.0L821.2,289.0L821.2,293.5L822.5,293.5L822.5,294.7L823.8,294.7L823.8,296.0L825.0,296.0L825.0,295.6L826.2,295.6L826.2,294.8L827.5,294.8L827.5,294.3L828.8,294.3L828.8,294.4L830.0,294.4L830.0,294.8L831.2,294.8L831.2,295.7L832.5,295.7L832.5,294.8L833.8,294.8L833.8,293.9L835.0,293.9L835.0,293.5L836.2,293.5L836.2,293.3L837.5,293.3L837.5,292.2L838.8,292.2L838.8,290.3L840.0,290.3L840.0,287.2L841.2,287.2L841.2,285.0L842.5,285.0L842.5,284.8L843.8,284.8L843.8,289.5L845.0,289.5L845.0,292.2L846.2,292.2L846.2,293.8L847.5,293.8L847.5,294.8L848.8,294.8L848.8,294.1L850.0,294.1L850.0,294.8L851.2,294.8L851.2,294.2L852.5,294.2L852.5,293.5L853.8,293.5L853.8,290.9L855.0,290.9L855.0,287.2L856.2,287.2L856.2,283.5L857.5,283.5L857.5,281.0L858.8,281.0L858.8,281.9L860.0,281.9L860.0,284.8L861.2,284.8L861.2,287.8L862.5,287.8L862.5,292.2L863.8,292.2L863.8,294.4L865.0,294.4L865.0,298.5L866.2,298.5L866.2,299.2L867.5,299.2L867.5,299.8L868.8,299.8L868.8,301.4L870.0,301.4L870.0,301.0L871.2,301.0L871.2,300.3L872.5,300.3L872.5,301.0L873.8,301.0L873.8,301.6L875.0,301.6L875.0,301.0L876.2,301.0L876.2,301.5L877.5,301.5L877.5,301.0L878.8,301.0L878.8,300.0L880.0,300.0L880.0,301.0L881.2,301.0L881.2,299.4L882.5,299.4L882.5,296.0L883.8,296.0L883.8,293.1L885.0,293.1L885.0,289.8L885.9,281.7L886.9,274.8L887.8,274.8L887.8,278.2L888.8,278.2L888.8,279.8L890.0,288.5L891.2,296.0L892.5,296.0L892.5,297.7L893.8,297.7L893.8,299.8L895.0,299.8L895.0,297.2L896.2,297.2L896.2,293.5L897.5,293.5L897.5,291.9L898.8,291.9L898.8,289.8L900.0,289.8L900.0,292.7L901.2,292.7L901.2,296.0L902.5,296.0L902.5,298.7L903.8,298.7L903.8,302.2L905.0,302.2L905.0,302.0L906.2,302.0L906.2,303.0L907.5,303.0L907.5,303.0L908.8,303.0L908.8,302.8L910.0,302.8L910.0,302.2L910.0,302.2L910.0,302.2L911.2,302.2L911.2,301.5L912.5,301.5L912.5,301.2L913.8,301.2L913.8,301.0L915.0,301.0L915.0,297.8L916.2,297.8L916.2,296.0L917.5,296.0L917.5,296.7L918.8,296.7L918.8,297.8L920.0,297.8L920.0,297.2L921.2,297.2L921.2,298.2L922.5,298.2L922.5,298.5L923.8,298.5L923.8,300.5L925.0,300.5L925.0,301.4L926.2,301.4L926.2,303.5L927.5,296.4L928.8,289.8L930.0,289.8L930.0,291.2L931.2,291.2L931.2,292.2L932.5,292.2L932.5,293.9L933.8,293.9L933.8,297.2L935.0,297.2L935.0,299.7L936.2,299.7L936.2,301.0L937.5,301.0L937.5,298.5L938.8,298.5L938.8,296.0L940.0,296.0L940.0,298.3L941.2,298.3L941.2,301.0L942.5,301.0L942.5,298.0L943.8,298.0L943.8,294.8L945.0,294.8L945.0,294.1L946.2,294.1L946.2,292.7L947.5,292.7L947.5,291.0L948.8,291.0L948.8,289.5L950.0,289.5L950.0,287.2L951.2,287.2L951.2,284.6L952.5,284.6L952.5,283.5L953.8,283.5L953.8,285.5L955.0,285.5L955.0,286.0L956.2,291.6L957.5,297.2L958.8,297.2L958.8,297.7L960.0,297.7L960.0,297.5L961.2,297.5L961.2,298.5L962.5,298.5L962.5,298.6L963.8,298.6L963.8,299.8L965.0,299.8L965.0,299.8L966.2,299.8L966.2,298.1L967.5,298.1L967.5,296.0L968.8,296.0L968.8,292.9L970.0,292.9L970.0,291.0L971.2,291.0L971.2,294.0L972.5,294.0L972.5,298.5L973.8,298.5L973.8,296.3L975.0,296.3L975.0,296.0L976.2,296.0L976.2,292.6L977.5,292.6L977.5,291.0L978.8,291.0L978.8,292.6L980.0,292.6L980.0,292.2L981.2,292.2L981.2,296.5L982.5,296.5L982.5,299.8L983.8,292.2L985.0,283.5L986.2,283.5L986.2,286.3L987.5,286.3L987.5,291.0L988.8,291.0L988.8,293.9L990.0,293.9L990.0,296.0L991.2,296.0L991.2,296.8L992.5,296.8L992.5,298.5L993.8,298.5L993.8,300.2L995.0,300.2L995.0,301.0L996.2,301.0L996.2,301.6L997.5,301.6L997.5,301.0L998.8,301.0L998.8,297.0L1000.0,297.0L1000.0,292.2L1001.2,292.2L1001.2,295.6L1002.5,295.6L1002.5,298.5L1003.8,298.5L1003.8,297.1L1005.0,297.1L1005.0,296.0L1006.2,296.0L1006.2,298.2L1007.5,298.2L1007.5,299.8L1008.8,299.8L1008.8,299.9L1010.0,299.9L1010.0,301.0L1011.2,301.0L1011.2,300.2L1012.5,300.2L1012.5,299.8L1013.8,299.8L1013.8,298.5L1015.0,298.5L1015.0,298.5L1016.2,298.5L1016.2,296.1L1017.5,296.1L1017.5,294.8L1018.8,294.8L1018.8,295.7L1020.0,295.7L1020.0,298.5L1021.2,298.5L1021.2,300.0L1022.5,300.0L1022.5,299.8L1023.8,299.8L1023.8,297.7L1025.0,297.7L1025.0,297.2L1026.2,297.2L1026.2,295.2L1027.5,295.2L1027.5,292.2L1028.8,292.2L1028.8,290.4L1030.0,290.4L1030.0,288.5L1031.2,288.5L1031.2,291.5L1032.5,291.5L1032.5,293.5L1033.8,293.5L1033.8,295.3L1035.0,295.3L1035.0,297.2L1036.2,297.2L1036.2,297.2L1037.5,297.2L1037.5,296.0L1038.8,296.0L1038.8,295.7L1040.0,295.7L1040.0,297.2L1041.2,297.2L1041.2,298.2L1042.5,298.2L1042.5,298.5L1043.8,298.5L1043.8,297.7L1045.0,297.7L1045.0,297.2L1046.2,297.2L1046.2,298.0L1047.5,298.0L1047.5,298.5L1048.8,298.5L1048.8,298.8L1050.0,298.8L1050.0,299.8L1051.2,299.8L1051.2,298.4L1052.5,298.4L1052.5,296.0L1053.8,289.6L1055.0,283.5L1056.2,283.5L1056.2,286.0L1057.5,286.0L1057.5,287.2L1058.8,287.2L1058.8,290.3L1060.0,290.3L1060.0,292.2L1060.0,303.5L1061.2,303.5L1061.2,302.8L1062.5,302.8L1062.5,301.9L1063.8,301.9L1063.8,302.2L1065.0,302.2L1065.0,303.0L1066.2,303.0L1066.2,302.7L1067.5,302.7L1067.5,303.5L1068.8,303.5L1068.8,302.2L1070.0,302.2L1070.0,300.4L1071.2,300.4L1071.2,299.8L1072.5,299.8L1072.5,301.3L1073.8,301.3L1073.8,302.2L1075.0,302.2L1075.0,302.2L1076.2,302.2L1076.2,301.8L1077.5,301.8L1077.5,300.6L1078.8,300.6L1078.8,301.0L1080.0,301.0L1080.0,297.9L1081.2,297.9L1081.2,295.9L1082.5,295.9L1082.5,292.2L1083.8,292.2L1083.8,294.3L1085.0,294.3L1085.0,295.5L1086.2,295.5L1086.2,296.0L1087.5,296.0L1087.5,295.0L1088.8,295.0L1088.8,295.1L1090.0,295.1L1090.0,293.5L1091.2,293.5L1091.2,295.6L1092.5,295.6L1092.5,297.0L1093.8,297.0L1093.8,299.8L1095.0,299.8L1095.0,297.1L1096.2,297.1L1096.2,294.8L1097.5,294.8L1097.5,293.5L1098.8,293.5L1098.8,292.3L1100.0,292.3L1100.0,291.0L1101.2,291.0L1101.2,290.6L1102.5,290.6L1102.5,288.5L1103.8,288.5L1103.8,288.5L1105.0,293.6L1106.2,293.6L1106.2,298.5L1107.5,298.5L1107.5,299.8L1108.8,299.8L1108.8,300.7L1110.0,300.7L1110.0,301.0L1111.2,301.0L1111.2,300.8L1112.5,300.8L1112.5,299.8L1113.8,299.8L1113.8,299.8L1115.0,299.8L1115.0,300.8L1116.2,300.8L1116.2,300.7L1117.5,300.7L1117.5,301.0L1118.8,301.0L1118.8,301.2L1120.0,301.2L1120.0,300.0L1121.2,300.0L1121.2,299.8L1122.2,294.6L1123.1,294.6L1123.1,289.8L1124.4,277.2L1125.9,258.0L1127.5,238.5L1128.8,245.4L1130.0,251.1L1131.2,258.5L1132.5,272.2L1133.8,272.2L1133.8,273.6L1135.0,273.6L1135.0,273.5L1136.2,273.5L1136.2,269.2L1137.5,269.2L1137.5,266.0L1138.8,266.0L1138.8,270.3L1140.0,276.0L1141.2,276.0L1141.2,280.9L1142.5,286.0L1143.8,286.0L1143.8,285.7L1145.0,285.7L1145.0,286.0L1146.2,286.0L1146.2,281.1L1147.5,281.1L1147.5,277.2L1148.8,277.2L1148.8,276.7L1150.0,276.7L1150.0,276.0L1151.2,276.0L1151.2,278.2L1152.5,278.2L1152.5,278.5L1153.8,288.8L1155.0,299.8L1156.2,299.8L1156.2,300.5L1157.5,300.5L1157.5,301.0L1158.8,301.0L1158.8,299.2L1160.0,299.2L1160.0,298.5L1161.2,298.5L1161.2,297.6L1162.5,297.6L1162.5,296.0L1163.8,296.0L1163.8,298.3L1165.0,298.3L1165.0,299.8L1165.9,299.8L1165.9,299.3L1166.9,299.3L1166.9,299.8" stroke="#ff55ff" stroke-width="1.1" fill="none" stroke-linejoin="bevel"/>
<path d="M88.9,291.8L89.8,291.8L89.8,292.5L90.8,292.5L90.8,293.0L91.7,293.0L91.7,293.8L92.6,293.8L92.6,293.0L93.6,293.0L93.6,295.0L94.5,295.0L94.5,295.5L95.4,295.5L95.4,297.9L96.4,297.9L96.4,298.0L97.4,298.0L97.4,295.5L98.8,295.5L98.8,291.3L100.1,291.3L100.1,290.0L101.5,290.0L101.5,285.0L102.4,224.2L103.2,163.0L104.5,224.8L105.8,285.0L107.0,292.9L108.2,299.2L109.2,299.2L109.2,301.2L110.1,301.2L110.1,300.5L111.4,300.5L111.4,300.4L112.6,300.4L112.6,301.8L113.9,301.8L113.9,300.1L115.1,300.1L115.1,299.2L116.1,299.2L116.1,300.6L117.0,300.6L117.0,300.5L118.2,300.5L118.2,300.1L119.5,300.1L119.5,299.2L120.8,299.2L120.8,300.1L122.0,300.1L122.0,299.2L123.2,299.2L123.2,298.2L124.5,298.2L124.5,298.0L125.8,298.0L125.8,300.1L127.0,300.1L127.0,299.2L128.2,299.2L128.2,296.4L129.5,296.4L129.5,296.8L130.8,296.8L130.8,296.8L132.0,296.8L132.0,295.5L133.2,295.5L133.2,297.0L134.5,297.0L134.5,299.2L135.8,299.2L135.8,299.0L137.0,299.0L137.0,301.8L138.2,301.8L138.2,301.1L139.5,301.1L139.5,299.2L140.8,299.2L140.8,296.6L142.0,296.6L142.0,296.8L143.2,296.8L143.2,294.7L144.5,294.7L144.5,294.2L145.8,294.2L145.8,294.3L147.0,294.3L147.0,295.5L148.2,295.5L148.2,295.0L149.5,295.0L149.5,296.8L150.8,296.8L150.8,297.6L152.0,297.6L152.0,300.5L153.2,300.5L153.2,297.9L154.5,297.9L154.5,298.0L155.8,298.0L155.8,297.2L157.0,297.2L157.0,294.2L158.2,294.2L158.2,293.5L159.5,293.5L159.5,295.5L160.8,295.5L160.8,295.0L162.0,295.0L162.0,296.8L163.2,296.8L163.2,296.6L164.5,296.6L164.5,299.2L165.8,299.2L165.8,301.2L167.0,301.2L167.0,300.5L168.2,300.5L168.2,300.6L169.5,300.6L169.5,301.5L170.8,301.5L170.8,300.5L172.0,300.5L172.0,302.0L173.2,302.0L173.2,300.5L174.5,300.5L174.5,300.5L175.8,300.5L175.8,300.6L177.0,300.6L177.0,301.0L178.2,301.0L178.2,301.8L179.5,301.8L179.5,300.6L180.8,300.6L180.8,301.2L182.0,301.2L182.0,300.5L183.2,300.5L183.2,302.6L184.5,302.6L184.5,301.8L185.8,295.5L187.2,279.1L188.6,263.5L190.0,246.3L190.8,229.2L191.7,209.7L193.0,229.9L194.3,222.6L195.9,222.6L195.9,227.1L196.8,216.1L197.6,203.0L198.5,221.0L199.3,238.0L200.1,222.1L201.0,205.8L202.3,224.0L203.2,213.5L204.0,205.5L205.5,220.0L206.8,202.2L207.7,209.1L208.6,216.7L209.5,209.9L210.4,200.9L211.7,233.0L212.5,210.2L213.4,187.8L214.6,173.6L215.9,157.5L217.2,143.8L218.5,128.8L219.8,146.1L221.0,166.1L222.3,184.4L223.6,201.6L224.9,229.5L226.4,229.5L226.4,226.7L227.9,226.7L227.9,226.0L229.4,190.4L230.8,158.4L232.3,123.8L233.8,158.8L235.3,198.0L236.9,232.9L238.4,232.9L238.4,230.9L240.0,230.9L240.0,229.8L241.5,229.8L241.5,230.0L242.5,255.8L243.5,279.0L244.5,254.9L245.5,230.0L247.0,123.8L248.3,156.7L249.6,192.7L250.9,227.4L252.4,195.0L253.9,159.4L255.4,127.0L256.9,166.3L258.4,203.4L259.9,242.6L260.9,224.4L261.8,206.5L262.7,215.8L263.6,225.7L265.0,240.5L265.8,221.2L266.7,204.7L268.1,244.7L269.5,238.8L271.1,217.0L271.9,232.2L272.8,248.1L274.2,220.5L275.6,206.6L276.5,220.1L277.4,233.4L278.3,223.3L279.1,212.5L280.1,200.2L281.0,187.6L282.6,214.2L283.4,197.4L284.3,182.6L285.7,207.2L287.0,213.3L288.4,213.3L288.4,217.9L289.7,225.6L291.0,225.6L291.0,230.0L292.0,254.0L293.0,280.5L294.5,253.6L296.0,225.0L297.8,251.2L299.5,280.0L300.8,255.2L302.0,230.0L303.5,221.4L305.0,213.5L306.5,205.5L308.0,163.7L308.9,176.2L309.9,187.5L310.7,181.2L311.5,173.1L312.4,173.1L312.4,176.1L313.2,182.2L314.2,189.0L315.1,189.0L315.1,193.3L316.0,208.3L316.9,222.4L317.7,222.4L317.7,217.9L318.6,217.9L318.6,215.9L319.4,215.9L319.4,219.2L320.3,219.2L320.3,221.2L321.2,204.9L322.0,186.6L323.5,207.2L324.8,186.3L325.6,201.3L326.5,217.2L327.3,210.8L328.2,202.0L329.0,219.2L329.8,238.6L330.7,224.0L331.6,209.7L332.5,220.9L333.4,233.7L334.3,233.7L334.3,238.4L335.2,238.4L335.2,241.0L336.0,241.0L336.0,239.9L336.9,239.9L336.9,240.2L337.8,223.0L338.7,207.4L339.6,207.4L339.6,206.4L340.5,206.4L340.5,202.1L341.3,222.1L342.1,242.6L343.5,226.4L344.9,180.8L346.3,208.2L347.9,208.2L347.9,211.5L349.7,254.1L351.5,297.0L351.6,297.0L351.6,294.8L353.2,294.8L353.2,297.1L354.9,297.1L354.9,298.1L356.5,298.1L356.5,293.8L358.2,293.8L358.2,291.5L359.4,291.5L359.4,293.3L360.6,293.3L360.6,293.8L361.9,293.8L361.9,294.0L363.1,294.0L363.1,294.8L364.3,294.8L364.3,296.2L365.6,296.2L365.6,296.8L366.8,296.8L366.8,294.8L368.1,294.8L368.1,296.5L369.3,296.5L369.3,293.8L370.5,288.2L371.4,273.4L372.2,258.5L373.5,258.5L373.5,258.2L374.8,258.2L374.8,256.7L376.1,256.7L376.1,256.4L377.4,256.4L377.4,254.6L378.7,254.6L378.7,251.8L380.0,251.8L380.0,250.3L381.3,250.3L381.3,250.3L382.5,262.3L383.7,275.0L385.0,282.5L386.2,291.5L387.9,291.5L387.9,291.5L389.5,291.5L389.5,293.2L390.7,293.2L390.7,293.7L392.0,293.7L392.0,294.0L393.2,294.0L393.2,294.1L394.5,294.1L394.5,294.8L395.7,294.8L395.7,295.6L396.9,295.6L396.9,293.7L398.2,293.7L398.2,294.6L399.4,294.6L399.4,294.8L400.8,294.8L400.8,291.9L402.2,291.9L402.2,289.7L403.5,289.7L403.5,286.6L404.8,286.6L404.8,286.1L406.0,286.1L406.0,283.3L407.2,283.3L407.2,285.6L408.5,285.6L408.5,285.8L409.7,285.8L409.7,289.7L411.0,289.7L411.0,291.5L412.3,291.5L412.3,292.4L413.6,292.4L413.6,293.9L414.9,293.9L414.9,295.7L416.2,295.7L416.2,295.9L417.6,295.9L417.6,298.1L418.8,298.1L418.8,297.4L420.0,297.4L420.0,294.4L421.3,294.4L421.3,292.7L422.5,292.7L422.5,291.5L423.7,279.3L425.0,266.8L426.2,266.8L426.2,267.8L427.5,267.8L427.5,271.7L428.7,281.0L429.9,291.5L431.4,291.5L431.4,293.9L432.8,293.9L432.8,291.9L434.3,291.9L434.3,293.6L435.7,293.6L435.7,294.8L437.4,288.2L439.0,280.0L440.2,280.0L440.2,279.0L441.5,279.0L441.5,278.3L442.7,285.3L444.0,291.5L445.2,291.5L445.2,291.0L446.4,291.0L446.4,289.3L447.7,289.3L447.7,286.3L448.9,286.3L448.9,284.9L450.2,284.9L450.2,284.7L451.6,284.7L451.6,284.0L452.9,284.0L452.9,286.7L454.2,286.7L454.2,285.1L455.5,285.1L455.5,286.6L457.0,286.6L457.0,286.5L458.5,286.5L458.5,285.5L460.0,285.5L460.0,286.8L461.2,286.8L461.2,291.3L462.5,291.3L462.5,294.2L463.8,294.2L463.8,294.7L465.0,294.7L465.0,295.5L466.2,295.5L466.2,292.4L467.5,292.4L467.5,291.8L468.8,291.8L468.8,290.1L470.0,290.1L470.0,288.0L471.2,288.0L471.2,287.3L472.5,287.3L472.5,289.2L473.8,289.2L473.8,289.4L475.0,289.4L475.0,290.5L476.2,290.5L476.2,287.3L477.5,287.3L477.5,285.5L478.8,285.5L478.8,285.1L480.0,285.1L480.0,283.0L481.2,283.0L481.2,282.1L482.5,282.1L482.5,280.5L483.8,280.5L483.8,279.0L485.0,279.0L485.0,279.2L486.2,255.6L487.5,233.0L487.5,273.0L488.8,281.0L490.0,289.2L491.2,289.2L491.2,290.9L492.5,290.9L492.5,290.5L493.8,290.5L493.8,285.6L495.0,285.6L495.0,281.8L496.2,281.8L496.2,280.1L497.5,280.1L497.5,276.8L498.8,276.8L498.8,274.1L500.0,274.1L500.0,274.2L501.2,268.7L502.5,268.7L502.5,265.5L503.8,265.5L503.8,265.8L505.0,265.8L505.0,264.2L506.2,264.2L506.2,268.2L507.5,268.2L507.5,273.0L508.8,273.0L508.8,276.5L510.0,283.0L511.2,283.0L511.2,284.5L512.5,284.5L512.5,288.0L513.8,288.0L513.8,287.1L515.0,287.1L515.0,286.8L516.2,280.4L517.5,280.4L517.5,276.8L518.8,276.8L518.8,275.7L520.0,275.7L520.0,275.5L521.2,283.3L522.5,283.3L522.5,288.0L523.8,288.0L523.8,287.3L525.0,287.3L525.0,289.2L526.2,289.2L526.2,285.7L527.5,285.7L527.5,283.0L528.8,274.9L530.0,268.0L530.9,268.0L530.9,263.8L531.9,263.8L531.9,261.8L532.8,270.7L533.8,276.8L535.0,276.8L535.0,279.8L536.2,279.8L536.2,284.2L537.5,284.2L537.5,283.3L538.8,283.3L538.8,284.2L540.0,284.2L540.0,283.4L541.2,283.4L541.2,283.0L542.5,283.0L542.5,283.5L543.8,283.5L543.8,286.8L545.0,286.8L545.0,290.4L546.2,290.4L546.2,294.2L547.5,294.2L547.5,293.2L548.8,293.2L548.8,294.2L550.0,288.6L551.2,283.0L552.5,283.0L552.5,283.7L553.8,283.7L553.8,286.8L555.0,286.8L555.0,288.6L556.2,288.6L556.2,288.0L557.5,288.0L557.5,285.5L558.8,285.5L558.8,283.0L560.0,283.0L560.0,286.0L561.2,286.0L561.2,288.0L562.5,288.0L562.5,286.5L563.8,286.5L563.8,286.8L565.0,286.8L565.0,287.2L566.2,287.2L566.2,290.5L567.5,290.5L567.5,292.2L568.8,292.2L568.8,295.5L570.0,295.5L570.0,291.1L571.2,291.1L571.2,286.8L572.5,279.5L573.8,279.5L573.8,275.5L575.0,275.5L575.0,278.2L576.2,278.2L576.2,283.0L577.5,283.0L577.5,286.2L578.8,286.2L578.8,286.8L580.0,278.0L581.2,270.5L582.5,270.5L582.5,265.7L583.8,265.7L583.8,263.0L585.0,263.0L585.0,265.2L586.2,265.2L586.2,265.5L587.5,258.0L588.8,258.0L588.8,260.5L590.0,267.9L591.2,276.8L592.5,245.5L593.8,240.0L595.0,234.3L596.2,228.6L597.5,223.0L598.8,216.5L600.0,216.5L600.0,213.6L601.2,208.0L602.5,213.3L603.8,220.8L605.0,220.8L605.0,225.5L606.2,233.9L607.5,233.9L607.5,238.8L608.8,247.3L610.0,253.0L610.0,261.8L611.2,271.9L612.5,279.2L613.8,279.2L613.8,280.7L615.0,280.7L615.0,284.2L616.2,284.2L616.2,283.6L617.5,283.6L617.5,284.2L618.8,284.2L618.8,286.2L620.0,286.2L620.0,285.5L621.2,272.9L622.5,258.0L622.5,288.0L623.8,288.0L623.8,284.8L625.0,284.8L625.0,282.6L626.2,282.6L626.2,282.4L627.5,282.4L627.5,277.7L628.8,277.7L628.8,276.8L630.0,276.8L630.0,277.0L631.2,277.0L631.2,279.2L632.5,279.2L632.5,279.4L633.8,279.4L633.8,281.8L635.0,281.8L635.0,282.3L636.2,282.3L636.2,284.2L637.5,284.2L637.5,284.1L638.8,284.1L638.8,284.2L640.0,284.2L640.0,285.0L641.2,285.0L641.2,288.0L642.5,288.0L642.5,289.5L643.8,289.5L643.8,293.0L645.0,293.0L645.0,295.2L646.2,295.2L646.2,294.2L647.5,294.2L647.5,294.8L648.8,294.8L648.8,295.5L650.0,295.5L650.0,296.0L651.2,296.0L651.2,296.8L652.5,296.8L652.5,294.2L653.8,294.2L653.8,293.0L655.0,293.0L655.0,292.1L656.2,292.1L656.2,288.0L657.5,288.0L657.5,287.7L658.8,287.7L658.8,286.8L660.0,286.8L660.0,287.9L661.2,287.9L661.2,289.2L662.5,289.2L662.5,291.8L663.8,291.8L663.8,296.8L665.0,296.8L665.0,297.5L666.2,297.5L666.2,296.8L667.5,296.8L667.5,295.0L668.8,295.0L668.8,294.2L670.0,294.2L670.0,294.3L671.2,294.3L671.2,291.8L672.5,291.8L672.5,288.7L673.8,288.7L673.8,288.0L675.0,288.0L675.0,287.0L676.2,287.0L676.2,286.4L677.5,286.4L677.5,284.2L678.8,276.5L680.0,268.0L680.9,268.0L680.9,268.2L681.9,268.2L681.9,265.5L682.8,270.8L683.8,270.8L683.8,273.0L685.0,273.0L685.0,274.3L686.2,274.3L686.2,274.2L687.5,274.2L687.5,279.1L688.8,286.8L690.0,286.8L690.0,290.6L691.2,290.6L691.2,291.8L692.5,291.8L692.5,293.0L693.8,293.0L693.8,294.2L695.0,294.2L695.0,293.2L696.2,293.2L696.2,293.0L697.5,293.0L697.5,291.8L698.8,291.8L698.8,291.8L700.0,281.5L701.2,274.2L702.5,268.9L703.8,268.9L703.8,265.5L705.0,257.0L706.2,250.5L707.5,257.2L708.8,266.4L710.0,271.8L711.2,280.5L712.5,280.5L712.5,281.0L713.8,281.0L713.8,283.0L714.7,283.0L714.7,282.7L715.6,282.7L715.6,281.8L716.6,281.8L716.6,282.4L717.5,282.4L717.5,285.5L718.8,290.8L720.0,290.8L720.0,294.2L721.2,294.2L721.2,293.9L722.5,293.9L722.5,296.8L723.8,296.8L723.8,293.5L725.0,293.5L725.0,290.5L726.2,290.5L726.2,288.8L727.5,288.8L727.5,289.2L728.8,289.2L728.8,287.8L730.0,287.8L730.0,289.2L731.2,289.2L731.2,289.1L732.5,289.1L732.5,288.0L733.8,288.0L733.8,287.5L735.0,287.5L735.0,286.8L736.2,286.8L736.2,288.6L737.5,288.6L737.5,290.5L738.8,290.5L738.8,288.1L740.0,288.1L740.0,286.8L741.2,286.8L741.2,285.7L742.5,285.7L742.5,285.5L743.8,285.5L743.8,285.4L745.0,285.4L745.0,288.0L746.2,288.0L746.2,285.9L747.5,285.9L747.5,286.8L748.8,286.8L748.8,287.3L750.0,287.3L750.0,288.0L751.2,288.0L751.2,288.0L752.5,288.0L752.5,286.8L753.8,279.7L755.0,274.2L756.2,253.0L757.5,264.7L758.8,276.4L760.0,288.0L761.2,282.7L762.5,282.7L762.5,278.0L763.8,278.0L763.8,276.5L765.0,276.5L765.0,276.8L766.2,276.8L766.2,275.7L767.5,275.7L767.5,274.2L768.8,274.2L768.8,271.9L770.0,271.9L770.0,270.5L771.2,248.0L772.5,265.5L773.8,265.5L773.8,269.7L775.0,269.7L775.0,274.2L776.2,253.0L777.5,230.0L777.5,283.0L778.5,244.3L779.5,205.0L780.0,276.8L781.0,245.6L782.0,212.5L783.0,230.0L783.8,293.0L785.0,293.0L785.0,288.9L786.2,283.0L787.5,283.0L787.5,279.6L788.8,279.6L788.8,275.5L790.0,275.5L790.0,272.4L791.2,272.4L791.2,272.5L792.5,272.5L792.5,269.2L793.8,269.2L793.8,271.1L795.0,271.1L795.0,273.0L796.2,279.0L797.5,279.0L797.5,283.0L798.8,283.0L798.8,284.8L800.0,284.8L800.0,289.2L801.2,289.2L801.2,290.3L802.5,290.3L802.5,290.5L803.8,290.5L803.8,291.4L805.0,291.4L805.0,291.8L806.2,291.8L806.2,289.7L807.5,289.7L807.5,285.5L808.8,277.5L810.0,268.0L811.2,268.0L811.2,267.7L812.5,267.7L812.5,265.5L813.8,253.0L815.0,263.0L816.2,263.0L816.2,265.7L817.5,265.7L817.5,268.0L818.4,276.9L819.4,283.0L820.3,288.6L821.2,288.6L821.2,293.0L822.5,293.0L822.5,293.2L823.8,293.2L823.8,295.5L825.0,295.5L825.0,296.4L826.2,296.4L826.2,294.2L827.5,294.2L827.5,293.5L828.8,293.5L828.8,293.3L830.0,293.3L830.0,294.2L831.2,294.2L831.2,293.6L832.5,293.6L832.5,294.2L833.8,294.2L833.8,294.6L835.0,294.6L835.0,293.0L836.2,293.0L836.2,292.7L837.5,292.7L837.5,291.8L838.8,291.8L838.8,289.4L840.0,289.4L840.0,286.8L841.2,286.8L841.2,284.7L842.5,284.7L842.5,284.2L843.8,284.2L843.8,288.1L845.0,288.1L845.0,291.8L846.2,291.8L846.2,294.1L847.5,294.1L847.5,294.2L848.8,294.2L848.8,294.8L850.0,294.8L850.0,294.2L851.2,294.2L851.2,293.5L852.5,293.5L852.5,293.0L853.8,293.0L853.8,290.7L855.0,290.7L855.0,286.8L856.2,286.8L856.2,282.9L857.5,282.9L857.5,280.5L858.8,280.5L858.8,281.1L860.0,281.1L860.0,284.2L861.2,284.2L861.2,288.8L862.5,288.8L862.5,291.8L863.8,291.8L863.8,293.5L865.0,293.5L865.0,298.0L866.2,298.0L866.2,297.1L867.5,297.1L867.5,299.2L868.8,299.2L868.8,300.9L870.0,300.9L870.0,300.5L871.2,300.5L871.2,300.5L872.5,300.5L872.5,300.5L873.8,300.5L873.8,299.0L875.0,299.0L875.0,300.5L876.2,300.5L876.2,299.9L877.5,299.9L877.5,300.5L878.8,300.5L878.8,299.4L880.0,299.4L880.0,300.5L881.2,300.5L881.2,298.1L882.5,298.1L882.5,295.5L883.8,295.5L883.8,292.1L885.0,292.1L885.0,289.2L885.9,282.9L886.9,274.2L887.8,274.2L887.8,275.2L888.8,275.2L888.8,279.2L890.0,287.6L891.2,295.5L892.5,295.5L892.5,298.0L893.8,298.0L893.8,299.2L895.0,299.2L895.0,295.0L896.2,295.0L896.2,293.0L897.5,293.0L897.5,292.1L898.8,292.1L898.8,289.2L900.0,289.2L900.0,293.8L901.2,293.8L901.2,295.5L902.5,295.5L902.5,299.0L903.8,299.0L903.8,301.8L905.0,301.8L905.0,302.5L906.2,302.5L906.2,302.9L907.5,302.9L907.5,303.3L908.8,303.3L908.8,301.4L910.0,301.4L910.0,301.8L910.0,301.8L910.0,301.8L911.2,301.8L911.2,300.6L912.5,300.6L912.5,299.8L913.8,299.8L913.8,300.5L915.0,300.5L915.0,297.6L916.2,297.6L916.2,295.5L917.5,295.5L917.5,296.6L918.8,296.6L918.8,297.8L920.0,297.8L920.0,296.8L921.2,296.8L921.2,297.6L922.5,297.6L922.5,298.0L923.8,298.0L923.8,300.0L925.0,300.0L925.0,301.8L926.2,301.8L926.2,303.0L927.5,294.7L928.8,289.2L930.0,289.2L930.0,289.1L931.2,289.1L931.2,291.8L932.5,291.8L932.5,292.7L933.8,292.7L933.8,296.8L935.0,296.8L935.0,299.6L936.2,299.6L936.2,300.5L937.5,300.5L937.5,299.1L938.8,299.1L938.8,295.5L940.0,295.5L940.0,297.0L941.2,297.0L941.2,300.5L942.5,300.5L942.5,298.5L943.8,298.5L943.8,294.2L945.0,294.2L945.0,291.9L946.2,291.9L946.2,291.5L947.5,291.5L947.5,290.5L948.8,290.5L948.8,288.5L950.0,288.5L950.0,286.8L951.2,286.8L951.2,286.4L952.5,286.4L952.5,283.0L953.8,283.0L953.8,284.3L955.0,284.3L955.0,285.5L956.2,285.5L956.2,289.6L957.5,296.8L958.8,296.8L958.8,298.7L960.0,298.7L960.0,298.8L961.2,298.8L961.2,298.0L962.5,298.0L962.5,299.8L963.8,299.8L963.8,300.4L965.0,300.4L965.0,299.2L966.2,299.2L966.2,295.9L967.5,295.9L967.5,295.5L968.8,295.5L968.8,291.8L970.0,291.8L970.0,290.5L971.2,290.5L971.2,293.2L972.5,293.2L972.5,298.0L973.8,298.0L973.8,296.8L975.0,296.8L975.0,295.5L976.2,295.5L976.2,292.1L977.5,292.1L977.5,290.5L978.8,290.5L978.8,289.9L980.0,289.9L980.0,291.8L981.2,291.8L981.2,295.8L982.5,295.8L982.5,299.2L983.8,292.5L985.0,283.0L986.2,283.0L986.2,286.5L987.5,286.5L987.5,290.5L988.8,290.5L988.8,292.2L990.0,292.2L990.0,295.5L991.2,295.5L991.2,297.9L992.5,297.9L992.5,298.0L993.8,298.0L993.8,299.9L995.0,299.9L995.0,300.5L996.2,300.5L996.2,300.7L997.5,300.7L997.5,300.5L998.8,294.8L1000.0,294.8L1000.0,291.8L1001.2,291.8L1001.2,295.5L1002.5,295.5L1002.5,298.0L1003.8,298.0L1003.8,295.2L1005.0,295.2L1005.0,295.5L1006.2,295.5L1006.2,297.8L1007.5,297.8L1007.5,299.2L1008.8,299.2L1008.8,300.9L1010.0,300.9L1010.0,300.5L1011.2,300.5L1011.2,300.9L1012.5,300.9L1012.5,299.2L1013.8,299.2L1013.8,299.3L1015.0,299.3L1015.0,298.0L1016.2,298.0L1016.2,294.6L1017.5,294.6L1017.5,294.2L1018.8,294.2L1018.8,296.9L1020.0,296.9L1020.0,298.0L1021.2,298.0L1021.2,298.0L1022.5,298.0L1022.5,299.2L1023.8,299.2L1023.8,296.7L1025.0,296.7L1025.0,296.8L1026.2,296.8L1026.2,294.7L1027.5,294.7L1027.5,291.8L1028.8,291.8L1028.8,290.0L1030.0,290.0L1030.0,288.0L1031.2,288.0L1031.2,291.3L1032.5,291.3L1032.5,293.0L1033.8,293.0L1033.8,295.7L1035.0,295.7L1035.0,296.8L1036.2,296.8L1036.2,294.6L1037.5,294.6L1037.5,295.5L1038.8,295.5L1038.8,296.3L1040.0,296.3L1040.0,296.8L1041.2,296.8L1041.2,296.3L1042.5,296.3L1042.5,298.0L1043.8,298.0L1043.8,296.9L1045.0,296.9L1045.0,296.8L1046.2,296.8L1046.2,296.0L1047.5,296.0L1047.5,298.0L1048.8,298.0L1048.8,297.8L1050.0,297.8L1050.0,299.2L1051.2,299.2L1051.2,297.2L1052.5,297.2L1052.5,295.5L1053.8,289.4L1055.0,283.0L1056.2,283.0L1056.2,286.4L1057.5,286.4L1057.5,286.8L1058.8,286.8L1058.8,288.1L1060.0,288.1L1060.0,291.8L1060.0,303.0L1061.2,303.0L1061.2,302.5L1062.5,302.5L1062.5,301.1L1063.8,301.1L1063.8,301.8L1065.0,301.8L1065.0,302.9L1066.2,302.9L1066.2,302.9L1067.5,302.9L1067.5,303.0L1068.8,303.0L1068.8,302.3L1070.0,302.3L1070.0,301.1L1071.2,301.1L1071.2,299.2L1072.5,299.2L1072.5,300.3L1073.8,300.3L1073.8,301.4L1075.0,301.4L1075.0,301.8L1076.2,301.8L1076.2,301.4L1077.5,301.4L1077.5,300.3L1078.8,300.3L1078.8,300.5L1080.0,300.5L1080.0,297.3L1081.2,297.3L1081.2,294.7L1082.5,294.7L1082.5,291.8L1083.8,291.8L1083.8,292.8L1085.0,292.8L1085.0,293.3L1086.2,293.3L1086.2,295.5L1087.5,295.5L1087.5,294.5L1088.8,294.5L1088.8,292.8L1090.0,292.8L1090.0,293.0L1091.2,293.0L1091.2,294.7L1092.5,294.7L1092.5,298.0L1093.8,298.0L1093.8,299.2L1095.0,299.2L1095.0,295.9L1096.2,295.9L1096.2,294.9L1097.5,294.9L1097.5,293.0L1098.8,293.0L1098.8,293.1L1100.0,293.1L1100.0,290.5L1101.2,290.5L1101.2,288.1L1102.5,288.1L1102.5,289.5L1103.8,289.5L1103.8,288.0L1105.0,293.8L1106.2,293.8L1106.2,298.0L1107.5,298.0L1107.5,297.5L1108.8,297.5L1108.8,298.5L1110.0,298.5L1110.0,300.5L1111.2,300.5L1111.2,301.7L1112.5,301.7L1112.5,300.5L1113.8,300.5L1113.8,299.2L1115.0,299.2L1115.0,299.6L1116.2,299.6L1116.2,300.4L1117.5,300.4L1117.5,300.5L1118.8,300.5L1118.8,298.8L1120.0,298.8L1120.0,300.9L1121.2,300.9L1121.2,299.2L1122.2,299.2L1122.2,294.4L1123.1,289.2L1124.4,276.8L1125.9,257.5L1127.5,238.0L1128.8,246.0L1130.0,246.0L1130.0,250.9L1131.2,258.0L1132.5,271.8L1133.8,271.8L1133.8,273.5L1135.0,273.5L1135.0,273.0L1136.2,267.8L1137.5,267.8L1137.5,265.5L1138.8,271.8L1140.0,271.8L1140.0,275.5L1141.2,275.5L1141.2,280.1L1142.5,285.5L1143.8,285.5L1143.8,283.9L1145.0,283.9L1145.0,285.5L1146.2,285.5L1146.2,282.1L1147.5,276.8L1148.8,276.8L1148.8,275.9L1150.0,275.9L1150.0,275.5L1151.2,275.5L1151.2,276.9L1152.5,276.9L1152.5,278.0L1153.8,288.6L1155.0,299.2L1156.2,299.2L1156.2,298.7L1157.5,298.7L1157.5,300.5L1158.8,300.5L1158.8,300.7L1160.0,300.7L1160.0,298.0L1161.2,298.0L1161.2,297.0L1162.5,297.0L1162.5,295.5L1163.8,295.5L1163.8,298.8L1165.0,298.8L1165.0,299.2L1165.9,299.2L1165.9,297.7L1166.9,297.7L1166.9,299.2" stroke="#5555ff" stroke-width="1.1" fill="none" stroke-linejoin="bevel"/>
<path d="M88.0,162.3L89.5,162.3L89.5,160.8L91.0,160.8L91.0,159.8L92.3,159.8L92.3,159.8L93.7,159.8L93.7,158.4L95.0,158.4L95.0,157.3L96.3,157.3L96.3,159.1L97.7,159.1L97.7,159.9L99.0,159.9L99.0,162.3L99.9,210.5L100.8,257.3L101.0,199.3L101.4,304.8L102.0,257.3L103.2,280.3L104.5,303.6L105.8,303.6L105.8,301.9L107.0,301.9L107.0,301.7L108.2,301.7L108.2,303.6L109.5,303.6L109.5,304.8L110.8,304.8L110.8,304.3L112.0,304.3L112.0,305.2L113.2,305.2L113.2,304.4L114.5,304.4L114.5,305.4L115.8,305.4L115.8,306.0L117.0,306.0L117.0,305.5L118.2,305.5L118.2,305.3L119.5,305.3L119.5,305.4L120.8,305.4L120.8,304.8L122.0,304.8L122.0,304.8L123.2,304.8L123.2,304.8L124.5,299.8L125.8,299.8L125.8,299.4L127.0,299.4L127.0,298.6L127.9,298.6L127.9,301.6L128.9,301.6L128.9,305.4L130.1,305.4L130.1,305.3L131.3,305.3L131.3,305.8L132.5,305.8L132.5,304.6L133.8,304.6L133.8,305.9L135.0,305.9L135.0,306.1L136.2,306.1L136.2,306.0L137.4,306.0L137.4,305.0L138.6,305.0L138.6,305.7L139.9,305.7L139.9,305.4L141.1,305.4L141.1,305.2L142.3,305.2L142.3,305.9L143.5,305.9L143.5,305.0L144.7,305.0L144.7,306.0L146.0,306.0L146.0,305.9L147.2,305.9L147.2,304.7L148.4,304.7L148.4,304.5L149.6,304.5L149.6,304.6L150.8,304.6L150.8,305.0L152.1,305.0L152.1,305.9L153.3,305.9L153.3,305.4L154.5,305.4L154.5,305.4L155.8,298.6L157.0,298.6L157.0,298.7L158.2,298.7L158.2,298.2L159.5,298.2L159.5,297.3L160.4,297.3L160.4,298.3L161.4,298.3L161.4,301.1L162.3,301.1L162.3,303.7L163.2,303.7L163.2,304.8L164.5,304.8L164.5,305.7L165.8,305.7L165.8,304.0L167.0,304.0L167.0,305.5L168.2,305.5L168.2,303.9L169.5,303.9L169.5,304.1L170.8,304.1L170.8,304.8L172.0,304.8L172.0,303.9L173.2,303.9L173.2,305.4L174.5,305.4L174.5,305.6L175.8,305.6L175.8,305.8L177.0,305.8L177.0,305.3L178.2,305.3L178.2,305.6L179.5,305.6L179.5,304.3L180.8,304.3L180.8,306.1L182.0,306.1L182.0,305.5L183.2,305.5L183.2,304.9L184.5,304.9L184.5,306.0L185.8,306.0L185.8,305.4L186.4,257.3L187.2,279.2L188.0,299.3L189.5,299.3L189.5,294.8L191.0,289.3L192.4,242.9L193.8,196.7L195.2,149.5L196.1,127.8L197.0,107.3L198.0,97.1L199.0,86.0L199.3,86.0L199.3,85.3L200.2,107.3L201.6,173.0L203.0,239.3L204.3,233.5L205.7,226.0L207.0,220.2L208.4,213.8L209.3,196.5L210.1,177.6L211.2,204.8L212.3,230.5L213.5,197.4L214.6,162.6L215.5,189.9L216.4,215.3L217.4,186.0L218.4,158.2L219.4,181.7L220.5,205.8L221.7,187.1L222.9,168.2L223.9,193.1L224.9,217.7L225.9,190.6L226.9,162.0L227.9,199.3L229.0,236.0L229.9,199.3L230.8,162.8L231.7,185.8L232.6,207.5L233.4,222.6L234.3,236.5L235.2,197.5L236.1,159.3L237.0,169.2L237.8,179.7L238.7,179.7L238.7,176.6L239.6,176.6L239.6,173.5L240.6,194.6L241.6,217.5L242.7,194.3L243.8,169.4L245.0,169.4L245.0,172.6L246.1,172.6L246.1,176.3L247.0,195.9L247.8,214.4L249.0,193.5L250.2,173.7L251.4,202.2L252.6,231.3L253.8,260.0L255.0,289.8L256.4,272.4L257.7,255.3L259.1,238.7L260.4,221.4L261.4,208.1L262.4,194.6L263.5,219.5L264.6,245.9L265.7,222.6L266.8,197.5L267.7,232.0L268.6,267.9L269.8,237.2L270.9,208.0L271.9,224.8L272.8,241.2L274.0,219.4L275.2,198.5L276.1,230.3L277.0,261.3L278.0,236.8L279.1,211.9L280.0,236.6L280.8,262.7L281.8,262.7L281.8,260.0L282.9,260.0L282.9,256.1L283.9,232.1L284.9,208.6L286.1,223.6L287.2,238.7L288.4,213.6L289.5,190.3L290.9,171.0L292.4,151.0L293.9,131.3L295.2,131.3L295.2,126.4L296.6,118.7L297.9,113.1L299.3,108.0L300.6,149.0L301.9,190.5L303.2,231.2L304.5,273.3L305.8,256.8L307.2,241.5L308.5,225.1L309.8,208.7L311.0,189.8L312.1,170.0L312.9,205.4L313.8,240.2L314.7,210.6L315.5,180.4L316.6,212.0L317.7,242.3L318.8,207.6L320.0,173.4L321.0,179.1L321.9,179.1L321.9,183.4L323.1,218.0L324.2,253.5L325.3,212.3L326.3,172.4L327.4,186.2L328.5,199.2L329.3,207.9L330.1,217.8L331.2,194.8L332.3,173.1L333.5,195.0L334.7,218.8L335.7,190.0L336.8,160.4L337.6,187.7L338.5,213.0L339.4,184.9L340.4,156.8L341.2,169.1L342.1,179.8L343.2,195.6L344.3,210.5L345.4,199.6L346.5,188.3L348.0,227.9L349.5,266.5L351.0,306.3L351.4,257.3L352.4,304.8L352.6,304.8L352.6,304.8L354.1,304.8L354.1,305.4L355.5,305.4L355.5,304.1L356.9,304.1L356.9,303.9L358.4,303.9L358.4,305.5L359.8,305.5L359.8,304.8L361.2,304.8L361.2,305.4L362.7,305.4L362.7,305.1L364.1,305.1L364.1,305.5L365.6,305.5L365.6,304.8L367.0,304.8L367.0,305.4L368.4,305.4L368.4,303.8L369.7,303.8L369.7,304.0L370.9,304.0L370.9,303.0L372.2,303.0L372.2,304.2L373.4,304.2L373.4,303.5L374.7,303.5L374.7,303.2L376.0,303.2L376.0,300.8L377.4,300.8L377.4,299.6L378.8,299.6L378.8,298.7L380.2,298.7L380.2,297.1L381.5,297.1L381.5,295.8L382.9,295.8L382.9,294.1L384.1,294.1L384.1,293.5L385.4,293.5L385.4,294.1L386.6,294.1L386.6,295.4L387.9,295.4L387.9,298.2L389.1,298.2L389.1,298.3L390.3,298.3L390.3,298.7L391.6,298.7L391.6,299.2L392.8,299.2L392.8,299.9L394.1,299.9L394.1,299.6L395.4,299.6L395.4,300.5L396.8,300.5L396.8,298.7L398.1,298.7L398.1,298.7L399.4,298.7L399.4,299.1L400.7,299.1L400.7,298.8L402.0,298.8L402.0,299.3L403.4,299.3L403.4,298.4L404.7,298.4L404.7,297.8L406.0,297.8L406.0,298.2L407.3,298.2L407.3,297.9L408.6,297.9L408.6,298.7L410.0,298.7L410.0,299.9L411.3,299.9L411.3,299.0L412.6,299.0L412.6,299.9L413.9,299.9L413.9,299.2L415.2,299.2L415.2,299.8L416.6,299.8L416.6,301.1L417.9,301.1L417.9,299.8L419.2,299.8L419.2,300.7L420.4,300.7L420.4,299.4L421.7,299.4L421.7,297.4L422.5,277.7L423.3,257.8L424.2,257.8L424.2,253.7L425.0,247.9L425.8,247.9L425.8,250.2L426.6,250.2L426.6,251.2L427.5,262.7L428.3,274.3L429.1,285.2L429.9,295.8L431.2,295.8L431.2,299.5L432.4,299.5L432.4,302.4L433.7,302.4L433.7,302.5L435.0,302.5L435.0,303.9L436.4,303.9L436.4,303.1L437.7,303.1L437.7,304.0L439.0,304.0L439.0,304.0L440.2,304.0L440.2,303.7L441.5,303.7L441.5,302.6L442.7,302.6L442.7,302.7L444.0,302.7L444.0,302.4L445.6,302.4L445.6,304.4L447.3,304.4L447.3,304.8L448.6,304.8L448.6,304.7L450.0,304.7L450.0,305.3L451.4,305.3L451.4,305.2L452.8,305.2L452.8,304.2L454.1,304.2L454.1,303.2L455.5,303.2L455.5,304.0L457.2,304.0L457.2,300.0L458.8,300.0L458.8,295.8L460.0,295.8L460.0,294.8L461.2,294.8L461.2,295.1L462.5,295.1L462.5,294.8L463.4,294.8L463.4,299.0L464.4,304.8L465.9,304.8L465.9,305.4L467.5,305.4L467.5,304.8L468.8,304.8L468.8,305.3L470.0,305.3L470.0,305.2L471.2,305.2L471.2,305.4L472.5,305.4L472.5,304.8L473.8,304.8L473.8,302.3L475.0,302.3L475.0,301.7L476.2,301.7L476.2,301.4L477.5,301.4L477.5,302.3L478.8,302.3L478.8,302.4L480.0,302.4L480.0,301.1L481.2,301.1L481.2,301.2L482.5,301.2L482.5,302.3L483.8,302.3L483.8,304.1L485.0,304.1L485.0,305.4L486.2,305.4L486.2,305.4L487.2,290.3L488.1,276.1L489.1,254.2L490.0,232.3L490.0,263.6L491.2,250.6L492.5,237.3L494.0,252.9L495.4,267.8L496.9,282.3L497.5,304.8L498.8,304.8L498.8,304.6L500.0,304.6L500.0,303.8L501.2,303.8L501.2,305.1L502.5,305.1L502.5,305.8L503.8,305.8L503.8,304.8L505.0,304.8L505.0,305.5L506.2,305.5L506.2,303.6L507.5,303.6L507.5,304.8L508.8,304.8L508.8,304.3L510.0,304.3L510.0,304.2L511.2,304.2L511.2,305.0L512.5,305.0L512.5,304.3L513.8,304.3L513.8,304.6L515.0,304.6L515.0,304.5L516.2,304.5L516.2,304.8L517.5,304.8L517.5,304.1L518.8,304.1L518.8,305.2L520.0,305.2L520.0,304.4L521.2,304.4L521.2,305.9L522.5,305.9L522.5,305.4L523.8,305.4L523.8,305.1L525.0,305.1L525.0,305.5L526.2,305.5L526.2,303.9L527.5,303.9L527.5,304.3L528.8,304.3L528.8,304.2L530.0,304.2L530.0,304.6L531.2,304.6L531.2,303.8L532.5,303.8L532.5,305.2L533.8,305.2L533.8,304.9L535.0,304.9L535.0,305.4L536.2,305.4L536.2,304.8L537.5,304.8L537.5,305.1L538.8,305.1L538.8,305.1L540.0,305.1L540.0,306.3L541.2,306.3L541.2,306.1L542.5,306.1L542.5,305.7L543.8,305.7L543.8,306.4L545.0,306.4L545.0,305.6L546.2,305.6L546.2,306.0L547.5,306.0L547.5,305.4L548.8,305.4L548.8,306.4L550.0,306.4L550.0,305.0L551.2,305.0L551.2,305.8L552.5,305.8L552.5,306.1L553.8,306.1L553.8,305.4L555.0,305.4L555.0,304.1L556.2,304.1L556.2,302.8L557.5,302.8L557.5,301.1L558.8,301.1L558.8,299.4L560.0,299.4L560.0,297.9L561.2,297.9L561.2,300.5L562.5,300.5L562.5,301.1L563.8,301.1L563.8,302.2L565.0,302.2L565.0,304.8L566.2,304.8L566.2,304.8L567.5,304.8L567.5,305.2L568.8,305.2L568.8,304.8L570.0,304.8L570.0,303.7L571.2,303.7L571.2,301.1L572.5,301.1L572.5,301.6L573.8,301.6L573.8,301.6L575.0,301.6L575.0,301.1L576.2,301.1L576.2,302.3L577.5,302.3L577.5,304.8L578.8,304.8L578.8,305.1L580.0,305.1L580.0,304.8L581.2,298.2L582.5,292.3L583.8,285.1L585.0,279.8L586.2,273.6L587.5,279.3L588.8,286.1L590.0,292.6L591.2,292.6L591.2,297.3L592.5,297.3L592.5,293.5L593.8,293.5L593.8,288.6L595.0,280.5L596.2,273.6L597.5,244.8L598.8,254.6L600.0,265.1L601.2,276.1L602.5,290.8L603.8,304.8L605.0,304.8L605.0,305.4L606.2,294.7L607.5,282.3L608.8,266.7L610.0,252.3L610.0,269.8L611.2,269.8L611.2,270.0L612.5,270.0L612.5,269.7L613.8,269.7L613.8,269.0L615.0,269.0L615.0,268.4L616.2,268.4L616.2,268.6L617.5,268.6L617.5,267.3L618.8,260.0L620.0,252.5L621.2,244.8L622.5,260.7L623.8,274.9L625.0,289.6L626.2,304.8L627.5,304.8L627.5,304.2L628.8,304.2L628.8,304.6L630.0,304.6L630.0,305.4L631.2,305.4L631.2,306.2L632.5,306.2L632.5,304.2L633.8,304.2L633.8,305.6L635.0,305.6L635.0,304.8L636.2,304.8L636.2,305.0L637.5,305.0L637.5,304.1L638.8,304.1L638.8,305.1L640.0,305.1L640.0,305.4L641.2,305.4L641.2,304.5L642.5,304.5L642.5,304.1L643.8,304.1L643.8,302.3L645.0,302.3L645.0,300.4L646.2,300.4L646.2,297.3L647.5,297.3L647.5,296.1L648.8,296.1L648.8,296.5L650.0,296.5L650.0,297.3L651.2,297.3L651.2,301.7L652.5,301.7L652.5,304.8L653.8,304.8L653.8,304.7L655.0,304.7L655.0,304.7L656.2,304.7L656.2,305.3L657.5,305.3L657.5,305.4L658.8,305.4L658.8,304.0L660.0,304.0L660.0,301.0L661.2,301.0L661.2,300.0L662.5,300.0L662.5,297.3L663.8,297.3L663.8,298.7L665.0,298.7L665.0,298.6L666.2,298.6L666.2,300.7L667.5,300.7L667.5,302.3L668.8,302.3L668.8,303.6L670.0,303.6L670.0,305.4L671.2,299.6L672.5,299.6L672.5,294.8L673.8,294.8L673.8,293.6L675.0,293.6L675.0,292.3L676.2,292.3L676.2,295.9L677.5,295.9L677.5,298.6L678.8,298.6L678.8,301.8L680.0,301.8L680.0,304.8L681.2,304.8L681.2,305.4L682.5,305.4L682.5,305.7L683.8,305.7L683.8,304.5L685.0,304.5L685.0,306.2L686.2,306.2L686.2,304.6L687.5,304.6L687.5,305.4L688.8,305.4L688.8,306.0L690.0,306.0L690.0,304.3L691.2,304.3L691.2,304.4L692.5,304.4L692.5,304.8L693.8,304.8L693.8,302.6L695.0,302.6L695.0,297.8L696.2,297.8L696.2,296.0L697.5,296.0L697.5,292.3L698.4,292.3L698.4,287.8L699.4,282.3L700.3,282.3L700.3,285.4L701.2,285.4L701.2,288.6L702.2,288.6L702.2,291.9L703.1,291.9L703.1,294.8L704.1,294.8L704.1,299.7L705.0,304.8L706.2,304.8L706.2,305.1L707.5,305.1L707.5,305.0L708.8,305.0L708.8,306.1L710.0,306.1L710.0,305.4L711.2,305.4L711.2,303.7L712.5,303.7L712.5,303.6L713.8,303.6L713.8,302.3L714.7,302.3L714.7,300.2L715.6,300.2L715.6,298.6L716.6,298.6L716.6,301.5L717.5,301.5L717.5,303.6L718.8,303.6L718.8,304.7L720.0,304.7L720.0,305.4L721.2,305.4L721.2,305.7L722.5,305.7L722.5,306.0L723.8,306.0L723.8,305.8L725.0,305.8L725.0,306.0L726.2,306.0L726.2,305.1L727.5,305.1L727.5,305.4L728.8,305.4L728.8,303.1L730.0,303.1L730.0,301.7L731.2,301.7L731.2,301.1L732.5,301.1L732.5,303.2L733.8,303.2L733.8,304.1L735.0,304.1L735.0,305.4L736.2,305.4L736.2,305.4L737.5,305.4L737.5,303.6L738.8,303.6L738.8,303.7L740.0,303.7L740.0,303.6L741.2,303.6L741.2,303.2L742.5,303.2L742.5,301.4L743.8,301.4L743.8,301.1L745.0,301.1L745.0,302.9L746.2,302.9L746.2,303.2L747.5,303.2L747.5,305.4L748.8,305.4L748.8,303.4L750.0,303.4L750.0,299.5L751.2,299.5L751.2,298.1L752.5,298.1L752.5,294.8L753.4,294.8L753.4,293.9L754.4,293.9L754.4,291.1L755.3,291.1L755.3,293.9L756.2,293.9L756.2,297.3L757.5,297.3L757.5,298.1L758.8,298.1L758.8,297.1L760.0,297.1L760.0,297.3L760.0,297.3L760.0,296.1L760.9,296.1L760.9,296.7L761.9,296.7L761.9,297.3L763.4,297.3L763.4,300.5L765.0,300.5L765.0,303.6L766.2,303.6L766.2,299.0L767.5,299.0L767.5,294.8L768.8,287.7L770.0,282.3L770.9,282.3L770.9,277.8L771.9,277.8L771.9,274.8L772.8,274.8L772.8,276.2L773.8,276.2L773.8,277.3L774.7,277.3L774.7,277.3L775.6,277.3L775.6,277.3L776.6,285.9L777.5,293.6L778.8,278.0L780.0,260.5L781.2,244.8L782.5,263.6L783.8,281.9L785.0,299.8L786.2,299.8L786.2,299.8L787.5,299.8L787.5,298.6L788.8,298.6L788.8,296.9L790.0,296.9L790.0,297.3L791.2,297.3L791.2,298.2L792.5,298.2L792.5,297.3L793.8,297.3L793.8,297.0L795.0,297.0L795.0,296.1L796.2,296.1L796.2,297.6L797.5,297.6L797.5,298.6L798.8,298.6L798.8,298.6L800.0,298.6L800.0,297.2L801.2,297.2L801.2,297.3L802.5,297.3L802.5,299.1L803.8,299.1L803.8,298.4L805.0,298.4L805.0,299.8L806.2,299.8L806.2,300.3L807.5,300.3L807.5,300.9L808.8,300.9L808.8,300.9L810.0,300.9L810.0,301.1L811.2,301.1L811.2,301.3L812.5,301.3L812.5,302.6L813.8,302.6L813.8,302.3L815.0,302.3L815.0,297.9L816.2,292.3L817.5,283.9L818.8,274.8L819.7,274.8L819.7,275.7L820.6,275.7L820.6,276.1L821.9,288.6L822.8,288.6L822.8,287.9L823.8,287.9L823.8,288.6L825.0,288.6L825.0,288.9L826.2,288.9L826.2,289.8L827.5,289.8L827.5,289.5L828.8,289.5L828.8,291.1L830.0,291.1L830.0,291.0L831.2,291.0L831.2,292.3L832.5,292.3L832.5,294.8L833.8,294.8L833.8,298.6L835.0,298.6L835.0,301.1L836.2,301.1L836.2,299.6L837.5,299.6L837.5,298.6L838.8,298.6L838.8,300.6L840.0,300.6L840.0,302.3L841.2,302.3L841.2,301.9L842.5,301.9L842.5,299.8L843.8,299.8L843.8,299.5L845.0,299.5L845.0,301.1L846.2,301.1L846.2,300.1L847.5,300.1L847.5,299.8L848.8,299.8L848.8,300.0L850.0,300.0L850.0,301.1L851.2,301.1L851.2,301.8L852.5,301.8L852.5,302.3L853.8,302.3L853.8,303.2L855.0,303.2L855.0,304.9L856.2,304.9L856.2,304.8L857.5,304.8L857.5,303.9L858.8,303.9L858.8,305.5L860.0,305.5L860.0,304.8L861.2,296.1L862.5,296.1L862.5,295.7L863.8,295.7L863.8,293.6L865.0,298.6L866.2,298.6L866.2,300.3L867.5,300.3L867.5,302.3L868.8,302.3L868.8,303.5L870.0,303.5L870.0,302.9L871.2,302.9L871.2,302.6L872.5,302.6L872.5,303.6L873.8,303.6L873.8,303.9L875.0,303.9L875.0,303.5L876.2,303.5L876.2,303.9L877.5,303.9L877.5,304.8L878.8,304.8L878.8,303.6L880.0,303.6L880.0,302.3L881.2,302.3L881.2,300.4L882.5,300.4L882.5,298.6L883.8,298.6L883.8,298.3L885.0,298.3L885.0,299.8L886.2,299.8L886.2,301.4L887.5,301.4L887.5,301.1L888.8,301.1L888.8,301.0L890.0,301.0L890.0,302.3L891.2,302.3L891.2,302.3L892.5,302.3L892.5,303.6L893.8,303.6L893.8,304.3L895.0,304.3L895.0,302.8L896.2,302.8L896.2,302.7L897.5,302.7L897.5,303.6L898.8,303.6L898.8,304.5L900.0,304.5L900.0,304.0L901.2,304.0L901.2,304.8L902.5,304.8L902.5,304.8L903.8,304.8L903.8,303.9L905.0,303.9L905.0,304.8L906.2,304.8L906.2,304.7L907.5,304.7L907.5,304.8L908.8,304.8L908.8,304.3L910.0,304.3L910.0,304.8L910.0,304.8L910.0,305.4L911.2,305.4L911.2,304.4L912.5,304.4L912.5,304.6L913.8,304.6L913.8,305.5L915.0,305.5L915.0,305.3L916.2,305.3L916.2,305.5L917.5,305.5L917.5,304.8L918.8,304.8L918.8,303.6L920.0,303.6L920.0,303.3L921.2,303.3L921.2,304.3L922.5,304.3L922.5,303.6L923.8,303.6L923.8,304.3L925.0,304.3L925.0,303.4L926.2,303.4L926.2,305.2L927.5,305.2L927.5,304.8L928.8,304.8L928.8,304.8L930.0,304.8L930.0,304.3L931.2,304.3L931.2,304.2L932.5,304.2L932.5,306.0L933.8,306.0L933.8,304.4L935.0,304.4L935.0,305.4L936.2,305.4L936.2,304.6L937.5,304.6L937.5,304.5L938.8,304.5L938.8,305.5L940.0,305.5L940.0,306.1L941.2,306.1L941.2,304.4L942.5,304.4L942.5,306.4L943.8,306.4L943.8,304.8L945.0,304.8L945.0,306.1L946.2,306.1L946.2,306.3L947.5,306.3L947.5,305.4L948.8,305.4L948.8,305.1L950.0,305.1L950.0,305.6L951.2,305.6L951.2,305.7L952.5,305.7L952.5,305.0L953.8,305.0L953.8,305.8L955.0,305.8L955.0,305.4L956.2,305.4L956.2,306.2L957.5,306.2L957.5,305.4L958.8,305.4L958.8,302.3L960.0,302.3L960.0,302.7L961.2,302.7L961.2,302.8L962.5,302.8L962.5,303.6L963.8,303.6L963.8,303.7L965.0,303.7L965.0,304.0L966.2,304.0L966.2,305.4L967.5,305.4L967.5,305.6L968.8,305.6L968.8,305.4L970.0,305.4L970.0,305.4L971.2,305.4L971.2,305.3L972.5,305.3L972.5,306.0L973.8,306.0L973.8,304.6L975.0,304.6L975.0,305.7L976.2,305.7L976.2,305.1L977.5,305.1L977.5,305.4L978.8,305.4L978.8,304.8L980.0,304.8L980.0,306.2L981.2,306.2L981.2,304.7L982.5,304.7L982.5,305.2L983.8,305.2L983.8,305.3L985.0,305.3L985.0,305.4L986.2,305.4L986.2,305.1L987.5,305.1L987.5,306.3L988.8,306.3L988.8,305.4L990.0,305.4L990.0,305.1L991.2,305.1L991.2,305.4L992.5,294.8L993.8,294.8L993.8,292.8L995.0,292.8L995.0,291.1L996.2,291.1L996.2,290.4L997.5,290.4L997.5,289.8L998.8,277.3L1000.0,277.3L1000.0,276.1L1001.2,282.3L1002.5,289.8L1003.8,282.3L1005.0,273.6L1006.2,282.3L1007.5,282.3L1007.5,286.4L1008.8,286.4L1008.8,288.6L1010.0,288.6L1010.0,290.3L1011.2,290.3L1011.2,292.3L1012.5,298.0L1013.8,303.6L1015.0,303.6L1015.0,304.2L1016.2,304.2L1016.2,305.4L1017.5,305.4L1017.5,304.7L1018.8,304.7L1018.8,305.8L1020.0,305.8L1020.0,305.1L1021.2,305.1L1021.2,305.9L1022.5,305.9L1022.5,305.6L1023.8,305.6L1023.8,306.0L1025.0,306.0L1025.0,304.7L1026.2,304.7L1026.2,304.9L1027.5,304.9L1027.5,304.5L1028.8,304.5L1028.8,305.4L1030.0,305.4L1030.0,304.5L1031.2,304.5L1031.2,304.0L1032.5,304.0L1032.5,304.5L1033.8,304.5L1033.8,304.9L1035.0,304.9L1035.0,303.4L1036.2,303.4L1036.2,303.4L1037.5,303.4L1037.5,304.7L1038.8,304.7L1038.8,303.1L1040.0,303.1L1040.0,303.6L1041.2,303.6L1041.2,299.8L1042.5,299.8L1042.5,299.6L1043.8,299.6L1043.8,299.8L1045.0,299.8L1045.0,301.1L1046.2,301.1L1046.2,302.4L1047.5,302.4L1047.5,303.5L1048.8,303.5L1048.8,304.8L1050.0,304.8L1050.0,302.8L1051.2,302.8L1051.2,300.5L1052.5,300.5L1052.5,298.6L1053.8,298.6L1053.8,298.1L1055.0,298.1L1055.0,297.1L1056.2,297.1L1056.2,297.3L1057.5,297.3L1057.5,297.4L1058.8,297.4L1058.8,295.9L1060.0,295.9L1060.0,296.1L1060.0,305.4L1061.2,305.4L1061.2,304.6L1062.5,304.6L1062.5,304.8L1063.8,304.8L1063.8,305.8L1065.0,305.8L1065.0,305.1L1066.2,305.1L1066.2,304.8L1067.5,304.8L1067.5,306.2L1068.8,306.2L1068.8,304.8L1070.0,304.8L1070.0,304.9L1071.2,304.9L1071.2,304.9L1072.5,304.9L1072.5,305.4L1073.8,305.4L1073.8,306.3L1075.0,306.3L1075.0,305.9L1076.2,305.9L1076.2,306.3L1077.5,306.3L1077.5,304.7L1078.8,304.7L1078.8,305.9L1080.0,305.9L1080.0,305.9L1081.2,305.9L1081.2,305.5L1082.5,305.5L1082.5,306.1L1083.8,306.1L1083.8,306.3L1085.0,306.3L1085.0,305.4L1086.2,305.4L1086.2,305.6L1087.5,305.6L1087.5,305.3L1088.8,305.3L1088.8,304.0L1090.0,304.0L1090.0,304.8L1091.2,304.8L1091.2,305.2L1092.5,305.2L1092.5,304.3L1093.8,304.3L1093.8,304.9L1095.0,304.9L1095.0,303.9L1096.2,303.9L1096.2,305.0L1097.5,305.0L1097.5,304.8L1098.8,304.8L1098.8,303.8L1100.0,303.8L1100.0,303.6L1101.2,303.6L1101.2,302.9L1102.5,302.9L1102.5,302.3L1103.8,302.3L1103.8,301.5L1105.0,301.5L1105.0,302.3L1106.2,302.3L1106.2,302.0L1107.5,302.0L1107.5,301.1L1108.8,301.1L1108.8,299.8L1110.0,299.8L1110.0,299.8L1111.2,299.8L1111.2,301.8L1112.5,301.8L1112.5,303.6L1113.8,303.6L1113.8,304.9L1115.0,304.9L1115.0,305.4L1116.2,305.4L1116.2,306.4L1117.5,306.4L1117.5,306.1L1118.8,306.1L1118.8,305.1L1120.0,305.1L1120.0,306.4L1121.2,306.4L1121.2,304.5L1122.5,304.5L1122.5,305.4L1123.8,305.4L1123.8,304.7L1125.0,304.7L1125.0,303.6L1126.2,303.6L1126.2,301.8L1127.5,301.8L1127.5,298.6L1128.8,298.6L1128.8,297.0L1130.0,297.0L1130.0,296.1L1131.2,296.1L1131.2,298.5L1132.5,298.5L1132.5,299.8L1133.8,299.8L1133.8,297.3L1135.0,284.3L1136.2,269.8L1137.5,269.8L1137.5,267.4L1138.8,267.4L1138.8,264.8L1140.0,264.8L1140.0,262.9L1141.2,262.9L1141.2,262.3L1142.5,282.3L1143.8,289.4L1145.0,298.6L1146.2,298.6L1146.2,301.0L1147.5,301.0L1147.5,304.8L1148.8,304.8L1148.8,305.6L1150.0,305.6L1150.0,304.3L1151.2,304.3L1151.2,305.9L1152.5,305.9L1152.5,305.4L1153.8,305.4L1153.8,305.2L1155.0,305.2L1155.0,304.8L1156.2,287.3L1157.5,229.3L1158.8,207.3L1160.0,191.8L1161.2,156.8L1162.5,156.8L1162.5,154.3L1163.8,154.3L1163.8,153.1L1165.0,148.1L1166.2,154.3L1167.0,154.3L1167.0,156.8" stroke="#55ffff" stroke-width="1.1" fill="none" stroke-linejoin="bevel"/>
<path d="M88.0,163.0L89.5,163.0L89.5,161.6L91.0,161.6L91.0,160.5L92.3,160.5L92.3,159.8L93.7,159.8L93.7,158.9L95.0,158.9L95.0,158.0L96.3,158.0L96.3,159.8L97.7,159.8L97.7,161.9L99.0,161.9L99.0,163.0L99.9,211.4L100.8,258.0L101.0,200.0L101.4,305.5L102.0,258.0L103.2,281.5L104.5,304.2L105.8,304.2L105.8,303.9L107.0,303.9L107.0,302.4L108.2,302.4L108.2,304.1L109.5,304.1L109.5,305.5L110.8,305.5L110.8,305.6L112.0,305.6L112.0,306.5L113.2,306.5L113.2,307.0L114.5,307.0L114.5,306.1L115.8,306.1L115.8,306.2L117.0,306.2L117.0,306.2L118.2,306.2L118.2,305.0L119.5,305.0L119.5,306.5L120.8,306.5L120.8,306.0L122.0,306.0L122.0,305.9L123.2,305.9L123.2,305.5L124.5,300.5L125.8,300.5L125.8,299.2L127.0,299.2L127.0,299.2L127.9,299.2L127.9,302.9L128.9,302.9L128.9,306.1L130.1,306.1L130.1,306.3L131.3,306.3L131.3,305.4L132.5,305.4L132.5,305.9L133.8,305.9L133.8,306.6L135.0,306.6L135.0,306.7L136.2,306.7L136.2,306.6L137.4,306.6L137.4,306.5L138.6,306.5L138.6,307.0L139.9,307.0L139.9,306.7L141.1,306.7L141.1,305.3L142.3,305.3L142.3,305.8L143.5,305.8L143.5,305.2L144.7,305.2L144.7,306.9L146.0,306.9L146.0,306.5L147.2,306.5L147.2,305.6L148.4,305.6L148.4,305.5L149.6,305.5L149.6,305.6L150.8,305.6L150.8,306.3L152.1,306.3L152.1,306.1L153.3,306.1L153.3,305.1L154.5,305.1L154.5,306.1L155.8,299.2L157.0,299.2L157.0,299.1L158.2,299.1L158.2,298.0L159.5,298.0L159.5,298.0L160.4,298.0L160.4,299.4L161.4,299.4L161.4,301.8L162.3,301.8L162.3,304.6L163.2,304.6L163.2,305.5L164.5,305.5L164.5,306.3L165.8,306.3L165.8,306.3L167.0,306.3L167.0,306.3L168.2,306.3L168.2,305.6L169.5,305.6L169.5,304.6L170.8,304.6L170.8,305.5L172.0,305.5L172.0,305.3L173.2,305.3L173.2,305.8L174.5,305.8L174.5,306.5L175.8,306.5L175.8,305.4L177.0,305.4L177.0,304.9L178.2,304.9L178.2,306.7L179.5,306.7L179.5,306.3L180.8,306.3L180.8,306.6L182.0,306.6L182.0,305.9L183.2,305.9L183.2,305.6L184.5,305.6L184.5,305.7L185.8,305.7L185.8,306.1L186.4,258.0L187.2,278.3L188.0,300.0L189.5,294.7L191.0,294.7L191.0,290.0L192.4,243.5L193.8,197.7L195.2,150.2L196.1,130.0L197.0,108.0L198.0,97.3L199.0,86.8L199.3,86.8L199.3,86.0L200.2,108.0L201.6,173.4L203.0,240.0L204.3,234.5L205.7,226.2L207.0,220.0L208.4,214.5L209.3,196.7L210.1,178.3L211.2,204.9L212.3,231.2L213.5,198.2L214.6,163.3L215.5,190.0L216.4,216.0L217.4,188.1L218.4,158.9L219.4,183.5L220.5,206.5L221.7,188.6L222.9,168.9L223.9,194.4L224.9,218.4L225.9,190.5L226.9,162.7L227.9,200.0L229.0,236.7L229.9,200.6L230.8,163.5L231.7,184.9L232.6,208.2L233.4,222.7L234.3,237.2L235.2,198.4L236.1,160.0L237.0,170.8L237.8,180.4L238.7,180.4L238.7,176.7L239.6,176.7L239.6,174.2L240.6,196.9L241.6,218.2L242.7,193.6L243.8,170.1L245.0,170.1L245.0,173.5L246.1,173.5L246.1,177.0L247.0,196.1L247.8,215.1L249.0,194.3L250.2,174.4L251.4,203.9L252.6,233.0L253.8,262.5L255.0,290.5L256.4,273.2L257.7,257.1L259.1,239.4L260.4,222.1L261.4,209.3L262.4,195.3L263.5,220.3L264.6,246.6L265.7,222.3L266.8,198.2L267.7,233.9L268.6,268.6L269.8,238.9L270.9,208.7L271.9,224.7L272.8,241.9L274.0,220.7L275.2,199.2L276.1,231.1L277.0,262.0L278.0,238.0L279.1,212.6L280.0,237.1L280.8,263.4L281.8,263.4L281.8,259.3L282.9,259.3L282.9,256.8L283.9,232.7L284.9,209.3L286.1,223.4L287.2,239.4L288.4,215.9L289.5,191.0L290.9,171.9L292.4,152.2L293.9,132.0L295.2,126.3L296.6,120.0L297.9,114.4L299.3,108.7L300.6,149.2L301.9,192.0L303.2,232.1L304.5,274.0L305.8,258.3L307.2,241.4L308.5,224.9L309.8,209.4L311.0,189.8L312.1,170.7L312.9,205.4L313.8,240.9L314.7,211.9L315.5,181.1L316.6,211.2L317.7,243.0L318.8,208.3L320.0,174.1L321.0,174.1L321.0,178.9L321.9,184.1L323.1,219.2L324.2,254.2L325.3,212.7L326.3,173.1L327.4,187.1L328.5,199.9L329.3,208.9L330.1,218.5L331.2,196.4L332.3,173.8L333.5,196.1L334.7,219.5L335.7,189.8L336.8,161.1L337.6,187.0L338.5,213.7L339.4,185.2L340.4,157.5L341.2,169.7L342.1,180.5L343.2,195.2L344.3,211.2L345.4,199.1L346.5,189.0L348.0,229.3L349.5,267.1L351.0,307.0L351.4,258.0L352.4,305.5L352.6,305.5L352.6,305.5L354.1,305.5L354.1,306.4L355.5,306.4L355.5,305.9L356.9,305.9L356.9,306.3L358.4,306.3L358.4,305.4L359.8,305.4L359.8,305.5L361.2,305.5L361.2,305.6L362.7,305.6L362.7,306.3L364.1,306.3L364.1,305.8L365.6,305.8L365.6,305.9L367.0,305.9L367.0,306.1L368.4,306.1L368.4,304.6L369.7,304.6L369.7,304.7L370.9,304.7L370.9,304.8L372.2,304.8L372.2,303.8L373.4,303.8L373.4,304.8L374.7,304.8L374.7,303.9L376.0,303.9L376.0,301.8L377.4,301.8L377.4,301.6L378.8,301.6L378.8,299.7L380.2,299.7L380.2,298.3L381.5,298.3L381.5,297.1L382.9,297.1L382.9,294.8L384.1,294.8L384.1,295.4L385.4,295.4L385.4,294.8L386.6,294.8L386.6,296.3L387.9,296.3L387.9,298.9L389.1,298.9L389.1,299.3L390.3,299.3L390.3,300.4L391.6,300.4L391.6,300.0L392.8,300.0L392.8,300.6L394.1,300.6L394.1,299.6L395.4,299.6L395.4,299.9L396.8,299.9L396.8,300.7L398.1,300.7L398.1,299.0L399.4,299.0L399.4,299.8L400.7,299.8L400.7,300.5L402.0,300.5L402.0,298.5L403.4,298.5L403.4,299.5L404.7,299.5L404.7,298.6L406.0,298.6L406.0,298.9L407.3,298.9L407.3,298.4L408.6,298.4L408.6,300.2L410.0,300.2L410.0,300.6L411.3,300.6L411.3,299.6L412.6,299.6L412.6,300.6L413.9,300.6L413.9,300.5L415.2,300.5L415.2,300.3L416.6,300.3L416.6,301.5L417.9,301.5L417.9,302.1L419.2,302.1L419.2,301.4L420.4,301.4L420.4,300.5L421.7,300.5L421.7,298.1L422.5,277.7L423.3,258.5L424.2,253.1L425.0,253.1L425.0,248.6L425.8,248.6L425.8,250.4L426.6,250.4L426.6,251.9L427.5,264.3L428.3,275.0L429.1,285.2L429.9,296.5L431.2,296.5L431.2,300.3L432.4,300.3L432.4,303.1L433.7,303.1L433.7,303.0L435.0,303.0L435.0,303.3L436.4,303.3L436.4,304.2L437.7,304.2L437.7,303.5L439.0,303.5L439.0,304.7L440.2,304.7L440.2,304.2L441.5,304.2L441.5,303.1L442.7,303.1L442.7,302.8L444.0,302.8L444.0,303.1L445.6,303.1L445.6,303.7L447.3,303.7L447.3,305.5L448.6,305.5L448.6,305.9L450.0,305.9L450.0,305.6L451.4,305.6L451.4,305.9L452.8,305.9L452.8,305.1L454.1,305.1L454.1,305.5L455.5,305.5L455.5,304.7L457.2,304.7L457.2,300.3L458.8,300.3L458.8,296.5L460.0,296.5L460.0,295.5L461.2,295.5L461.2,296.0L462.5,296.0L462.5,295.5L463.4,300.8L464.4,300.8L464.4,305.5L465.9,305.5L465.9,306.0L467.5,306.0L467.5,305.5L468.8,305.5L468.8,305.7L470.0,305.7L470.0,306.1L471.2,306.1L471.2,306.1L472.5,306.1L472.5,304.9L473.8,304.9L473.8,303.0L475.0,303.0L475.0,302.9L476.2,302.9L476.2,303.2L477.5,303.2L477.5,303.0L478.8,303.0L478.8,302.4L480.0,302.4L480.0,301.8L481.2,301.8L481.2,303.2L482.5,303.2L482.5,303.0L483.8,303.0L483.8,304.9L485.0,304.9L485.0,306.1L486.2,306.1L486.2,306.1L487.2,292.2L488.1,276.8L489.1,255.2L490.0,233.0L490.0,264.2L491.2,251.8L492.5,238.0L494.0,253.7L495.4,267.0L496.9,283.0L497.5,305.5L498.8,305.5L498.8,305.8L500.0,305.8L500.0,305.0L501.2,305.0L501.2,304.8L502.5,304.8L502.5,305.9L503.8,305.9L503.8,305.5L505.0,305.5L505.0,305.4L506.2,305.4L506.2,305.6L507.5,305.6L507.5,305.4L508.8,305.4L508.8,306.0L510.0,306.0L510.0,304.9L511.2,304.9L511.2,305.8L512.5,305.8L512.5,304.8L513.8,304.8L513.8,304.3L515.0,304.3L515.0,305.2L516.2,305.2L516.2,305.5L517.5,305.5L517.5,305.2L518.8,305.2L518.8,306.5L520.0,306.5L520.0,305.2L521.2,305.2L521.2,305.8L522.5,305.8L522.5,306.1L523.8,306.1L523.8,306.6L525.0,306.6L525.0,305.4L526.2,305.4L526.2,304.7L527.5,304.7L527.5,304.6L528.8,304.6L528.8,304.9L530.0,304.9L530.0,304.7L531.2,304.7L531.2,305.4L532.5,305.4L532.5,306.6L533.8,306.6L533.8,306.6L535.0,306.6L535.0,306.1L536.2,306.1L536.2,307.1L537.5,307.1L537.5,305.9L538.8,305.9L538.8,306.2L540.0,306.2L540.0,306.9L541.2,306.9L541.2,305.4L542.5,305.4L542.5,306.0L543.8,306.0L543.8,306.8L545.0,306.8L545.0,306.3L546.2,306.3L546.2,307.1L547.5,307.1L547.5,306.1L548.8,306.1L548.8,305.4L550.0,305.4L550.0,305.6L551.2,305.6L551.2,306.2L552.5,306.2L552.5,306.9L553.8,306.9L553.8,306.1L555.0,306.1L555.0,305.5L556.2,305.5L556.2,303.3L557.5,303.3L557.5,301.8L558.8,301.8L558.8,300.2L560.0,300.2L560.0,298.6L561.2,298.6L561.2,300.8L562.5,300.8L562.5,301.8L563.8,301.8L563.8,304.4L565.0,304.4L565.0,305.5L566.2,305.5L566.2,305.2L567.5,305.2L567.5,305.2L568.8,305.2L568.8,305.5L570.0,305.5L570.0,303.0L571.2,303.0L571.2,301.8L572.5,301.8L572.5,301.7L573.8,301.7L573.8,301.8L575.0,301.8L575.0,301.8L576.2,301.8L576.2,304.5L577.5,304.5L577.5,305.5L578.8,305.5L578.8,305.4L580.0,305.4L580.0,305.5L581.2,299.9L582.5,293.0L583.8,286.0L585.0,280.5L586.2,274.2L587.5,280.0L588.8,286.8L590.0,293.1L591.2,293.1L591.2,298.0L592.5,298.0L592.5,294.3L593.8,289.2L595.0,281.7L596.2,274.2L597.5,245.5L598.8,255.6L600.0,266.5L601.2,276.8L602.5,291.5L603.8,305.5L605.0,305.5L605.0,306.1L606.2,294.4L607.5,283.0L608.8,267.2L610.0,253.0L610.0,270.5L611.2,270.5L611.2,269.9L612.5,269.9L612.5,269.5L613.8,269.5L613.8,269.6L615.0,269.6L615.0,268.3L616.2,268.3L616.2,269.1L617.5,269.1L617.5,268.0L618.8,261.0L620.0,252.3L621.2,245.5L622.5,260.1L623.8,275.8L625.0,290.0L626.2,305.5L627.5,305.5L627.5,305.5L628.8,305.5L628.8,306.6L630.0,306.6L630.0,306.1L631.2,306.1L631.2,305.5L632.5,305.5L632.5,305.7L633.8,305.7L633.8,305.6L635.0,305.6L635.0,305.5L636.2,305.5L636.2,305.7L637.5,305.7L637.5,306.6L638.8,306.6L638.8,306.5L640.0,306.5L640.0,306.1L641.2,306.1L641.2,304.7L642.5,304.7L642.5,304.5L643.8,304.5L643.8,303.0L645.0,303.0L645.0,301.9L646.2,301.9L646.2,299.2L647.5,299.2L647.5,296.8L648.8,296.8L648.8,297.9L650.0,297.9L650.0,298.0L651.2,298.0L651.2,300.8L652.5,300.8L652.5,305.5L653.8,305.5L653.8,305.4L655.0,305.4L655.0,305.5L656.2,305.5L656.2,306.1L657.5,306.1L657.5,306.1L658.8,306.1L658.8,304.0L660.0,304.0L660.0,301.6L661.2,301.6L661.2,300.6L662.5,300.6L662.5,298.0L663.8,298.0L663.8,298.4L665.0,298.4L665.0,299.2L666.2,299.2L666.2,301.2L667.5,301.2L667.5,303.0L668.8,303.0L668.8,305.3L670.0,305.3L670.0,306.1L671.2,300.5L672.5,300.5L672.5,295.5L673.8,295.5L673.8,293.9L675.0,293.9L675.0,293.0L676.2,293.0L676.2,295.4L677.5,295.4L677.5,299.2L678.8,299.2L678.8,302.1L680.0,302.1L680.0,305.5L681.2,305.5L681.2,304.9L682.5,304.9L682.5,305.2L683.8,305.2L683.8,306.1L685.0,306.1L685.0,305.4L686.2,305.4L686.2,305.5L687.5,305.5L687.5,306.1L688.8,306.1L688.8,305.9L690.0,305.9L690.0,306.8L691.2,306.8L691.2,305.1L692.5,305.1L692.5,305.5L693.8,305.5L693.8,301.8L695.0,301.8L695.0,298.6L696.2,298.6L696.2,295.8L697.5,295.8L697.5,293.0L698.4,293.0L698.4,288.5L699.4,283.0L700.3,283.0L700.3,285.6L701.2,285.6L701.2,289.2L702.2,289.2L702.2,292.4L703.1,292.4L703.1,295.5L704.1,295.5L704.1,299.8L705.0,305.5L706.2,305.5L706.2,306.4L707.5,306.4L707.5,305.7L708.8,305.7L708.8,305.9L710.0,305.9L710.0,306.1L711.2,306.1L711.2,305.1L712.5,305.1L712.5,303.6L713.8,303.6L713.8,303.0L714.7,303.0L714.7,300.5L715.6,300.5L715.6,299.2L716.6,299.2L716.6,301.5L717.5,301.5L717.5,304.2L718.8,304.2L718.8,304.8L720.0,304.8L720.0,306.1L721.2,306.1L721.2,306.1L722.5,306.1L722.5,305.5L723.8,305.5L723.8,305.9L725.0,305.9L725.0,306.5L726.2,306.5L726.2,306.6L727.5,306.6L727.5,306.1L728.8,306.1L728.8,304.1L730.0,304.1L730.0,303.3L731.2,303.3L731.2,301.8L732.5,301.8L732.5,303.2L733.8,303.2L733.8,304.8L735.0,304.8L735.0,306.1L736.2,306.1L736.2,305.8L737.5,305.8L737.5,305.8L738.8,305.8L738.8,304.0L740.0,304.0L740.0,304.2L741.2,304.2L741.2,302.7L742.5,302.7L742.5,302.6L743.8,302.6L743.8,301.8L745.0,301.8L745.0,302.8L746.2,302.8L746.2,304.5L747.5,304.5L747.5,306.1L748.8,306.1L748.8,303.3L750.0,303.3L750.0,301.6L751.2,301.6L751.2,297.4L752.5,297.4L752.5,295.5L753.4,295.5L753.4,292.7L754.4,292.7L754.4,291.8L755.3,291.8L755.3,294.8L756.2,294.8L756.2,298.0L757.5,298.0L757.5,297.9L758.8,297.9L758.8,298.5L760.0,298.5L760.0,298.0L760.0,298.0L760.0,296.8L760.9,296.8L760.9,297.3L761.9,297.3L761.9,298.0L763.4,298.0L763.4,300.6L765.0,300.6L765.0,304.2L766.2,304.2L766.2,299.5L767.5,299.5L767.5,295.5L768.8,288.7L770.0,283.0L770.9,283.0L770.9,280.2L771.9,280.2L771.9,275.5L772.8,275.5L772.8,277.3L773.8,277.3L773.8,278.0L774.7,278.0L774.7,277.6L775.6,277.6L775.6,278.0L776.6,285.3L777.5,294.2L778.8,277.7L780.0,262.5L781.2,245.5L782.5,263.0L783.8,282.5L785.0,300.5L786.2,300.5L786.2,300.6L787.5,300.6L787.5,299.2L788.8,299.2L788.8,299.2L790.0,299.2L790.0,298.0L791.2,298.0L791.2,298.0L792.5,298.0L792.5,298.0L793.8,298.0L793.8,297.4L795.0,297.4L795.0,296.8L796.2,296.8L796.2,297.6L797.5,297.6L797.5,299.2L798.8,299.2L798.8,299.0L800.0,299.0L800.0,298.2L801.2,298.2L801.2,298.0L802.5,298.0L802.5,299.3L803.8,299.3L803.8,299.2L805.0,299.2L805.0,300.5L806.2,300.5L806.2,301.0L807.5,301.0L807.5,301.6L808.8,301.6L808.8,300.8L810.0,300.8L810.0,301.8L811.2,301.8L811.2,302.3L812.5,302.3L812.5,303.5L813.8,303.5L813.8,303.0L815.0,297.0L816.2,297.0L816.2,293.0L817.5,284.4L818.8,275.5L819.7,275.5L819.7,275.5L820.6,275.5L820.6,276.8L821.9,289.2L822.8,289.2L822.8,289.3L823.8,289.3L823.8,289.2L825.0,289.2L825.0,289.4L826.2,289.4L826.2,290.5L827.5,290.5L827.5,291.0L828.8,291.0L828.8,291.8L830.0,291.8L830.0,293.1L831.2,293.1L831.2,293.0L832.5,293.0L832.5,295.5L833.8,295.5L833.8,299.1L835.0,299.1L835.0,301.8L836.2,301.8L836.2,300.7L837.5,300.7L837.5,299.2L838.8,299.2L838.8,302.1L840.0,302.1L840.0,303.0L841.2,303.0L841.2,302.4L842.5,302.4L842.5,300.5L843.8,300.5L843.8,300.7L845.0,300.7L845.0,301.8L846.2,301.8L846.2,300.9L847.5,300.9L847.5,300.5L848.8,300.5L848.8,301.8L850.0,301.8L850.0,301.8L851.2,301.8L851.2,301.5L852.5,301.5L852.5,303.0L853.8,303.0L853.8,304.0L855.0,304.0L855.0,303.9L856.2,303.9L856.2,305.5L857.5,305.5L857.5,305.3L858.8,305.3L858.8,304.5L860.0,304.5L860.0,305.5L861.2,296.8L862.5,296.8L862.5,296.3L863.8,296.3L863.8,294.2L865.0,299.2L866.2,299.2L866.2,300.4L867.5,300.4L867.5,303.0L868.8,303.0L868.8,302.5L870.0,302.5L870.0,304.1L871.2,304.1L871.2,303.8L872.5,303.8L872.5,304.2L873.8,304.2L873.8,303.9L875.0,303.9L875.0,305.3L876.2,305.3L876.2,305.5L877.5,305.5L877.5,305.5L878.8,305.5L878.8,304.1L880.0,304.1L880.0,303.0L881.2,303.0L881.2,301.5L882.5,301.5L882.5,299.2L883.8,299.2L883.8,299.8L885.0,299.8L885.0,300.5L886.2,300.5L886.2,300.5L887.5,300.5L887.5,301.8L888.8,301.8L888.8,303.1L890.0,303.1L890.0,303.0L891.2,303.0L891.2,302.7L892.5,302.7L892.5,304.2L893.8,304.2L893.8,305.1L895.0,305.1L895.0,304.2L896.2,304.2L896.2,304.1L897.5,304.1L897.5,304.2L898.8,304.2L898.8,304.9L900.0,304.9L900.0,304.4L901.2,304.4L901.2,305.4L902.5,305.4L902.5,305.5L903.8,305.5L903.8,305.8L905.0,305.8L905.0,304.8L906.2,304.8L906.2,306.1L907.5,306.1L907.5,305.5L908.8,305.5L908.8,306.3L910.0,306.3L910.0,305.5L910.0,305.5L910.0,306.1L911.2,306.1L911.2,305.6L912.5,305.6L912.5,305.9L913.8,305.9L913.8,305.2L915.0,305.2L915.0,305.3L916.2,305.3L916.2,306.2L917.5,306.2L917.5,305.5L918.8,305.5L918.8,305.3L920.0,305.3L920.0,304.2L921.2,304.2L921.2,303.6L922.5,303.6L922.5,304.2L923.8,304.2L923.8,305.5L925.0,305.5L925.0,304.4L926.2,304.4L926.2,304.6L927.5,304.6L927.5,305.5L928.8,305.5L928.8,304.6L930.0,304.6L930.0,306.3L931.2,306.3L931.2,305.7L932.5,305.7L932.5,305.6L933.8,305.6L933.8,305.5L935.0,305.5L935.0,306.1L936.2,306.1L936.2,307.0L937.5,307.0L937.5,306.8L938.8,306.8L938.8,306.0L940.0,306.0L940.0,305.4L941.2,305.4L941.2,306.7L942.5,306.7L942.5,306.6L943.8,306.6L943.8,306.8L945.0,306.8L945.0,306.5L946.2,306.5L946.2,306.8L947.5,306.8L947.5,306.1L948.8,306.1L948.8,306.3L950.0,306.3L950.0,306.9L951.2,306.9L951.2,305.9L952.5,305.9L952.5,306.9L953.8,306.9L953.8,306.6L955.0,306.6L955.0,306.0L956.2,306.0L956.2,305.9L957.5,305.9L957.5,306.1L958.8,306.1L958.8,303.0L960.0,303.0L960.0,304.4L961.2,304.4L961.2,303.0L962.5,303.0L962.5,304.2L963.8,304.2L963.8,304.4L965.0,304.4L965.0,306.0L966.2,306.0L966.2,306.1L967.5,306.1L967.5,307.0L968.8,307.0L968.8,305.4L970.0,305.4L970.0,306.9L971.2,306.9L971.2,307.0L972.5,307.0L972.5,305.3L973.8,305.3L973.8,306.8L975.0,306.8L975.0,305.5L976.2,305.5L976.2,306.9L977.5,306.9L977.5,305.6L978.8,305.6L978.8,306.6L980.0,306.6L980.0,307.0L981.2,307.0L981.2,305.9L982.5,305.9L982.5,306.2L983.8,306.2L983.8,306.4L985.0,306.4L985.0,306.1L986.2,306.1L986.2,306.8L987.5,306.8L987.5,306.4L988.8,306.4L988.8,306.6L990.0,306.6L990.0,306.5L991.2,306.5L991.2,306.1L992.5,295.5L993.8,295.5L993.8,293.7L995.0,293.7L995.0,291.8L996.2,291.8L996.2,290.8L997.5,290.8L997.5,290.5L998.8,278.0L1000.0,278.0L1000.0,276.8L1001.2,283.0L1002.5,290.5L1003.8,283.0L1005.0,274.2L1006.2,283.0L1007.5,283.0L1007.5,286.6L1008.8,286.6L1008.8,289.2L1010.0,289.2L1010.0,290.1L1011.2,290.1L1011.2,293.0L1012.5,298.7L1013.8,304.2L1015.0,304.2L1015.0,304.6L1016.2,304.6L1016.2,306.1L1017.5,306.1L1017.5,306.4L1018.8,306.4L1018.8,305.9L1020.0,305.9L1020.0,305.2L1021.2,305.2L1021.2,305.8L1022.5,305.8L1022.5,305.8L1023.8,305.8L1023.8,305.4L1025.0,305.4L1025.0,306.8L1026.2,306.8L1026.2,306.1L1027.5,306.1L1027.5,306.9L1028.8,306.9L1028.8,306.1L1030.0,306.1L1030.0,306.5L1031.2,306.5L1031.2,306.1L1032.5,306.1L1032.5,305.1L1033.8,305.1L1033.8,304.8L1035.0,304.8L1035.0,305.2L1036.2,305.2L1036.2,305.6L1037.5,305.6L1037.5,304.1L1038.8,304.1L1038.8,303.5L1040.0,303.5L1040.0,304.2L1041.2,304.2L1041.2,300.5L1042.5,300.5L1042.5,300.3L1043.8,300.3L1043.8,301.1L1045.0,301.1L1045.0,301.8L1046.2,301.8L1046.2,302.4L1047.5,302.4L1047.5,304.9L1048.8,304.9L1048.8,305.5L1050.0,305.5L1050.0,303.3L1051.2,303.3L1051.2,300.5L1052.5,300.5L1052.5,299.2L1053.8,299.2L1053.8,298.8L1055.0,298.8L1055.0,298.8L1056.2,298.8L1056.2,298.0L1057.5,298.0L1057.5,297.9L1058.8,297.9L1058.8,296.7L1060.0,296.7L1060.0,296.8L1060.0,306.1L1061.2,306.1L1061.2,306.6L1062.5,306.6L1062.5,306.2L1063.8,306.2L1063.8,305.8L1065.0,305.8L1065.0,305.8L1066.2,305.8L1066.2,305.2L1067.5,305.2L1067.5,306.8L1068.8,306.8L1068.8,305.2L1070.0,305.2L1070.0,305.3L1071.2,305.3L1071.2,305.6L1072.5,305.6L1072.5,306.1L1073.8,306.1L1073.8,305.4L1075.0,305.4L1075.0,307.1L1076.2,307.1L1076.2,305.7L1077.5,305.7L1077.5,305.3L1078.8,305.3L1078.8,305.9L1080.0,305.9L1080.0,307.0L1081.2,307.0L1081.2,306.2L1082.5,306.2L1082.5,305.5L1083.8,305.5L1083.8,306.0L1085.0,306.0L1085.0,306.1L1086.2,306.1L1086.2,305.5L1087.5,305.5L1087.5,306.8L1088.8,306.8L1088.8,306.4L1090.0,306.4L1090.0,305.5L1091.2,305.5L1091.2,304.6L1092.5,304.6L1092.5,304.9L1093.8,304.9L1093.8,305.3L1095.0,305.3L1095.0,305.7L1096.2,305.7L1096.2,306.5L1097.5,306.5L1097.5,305.5L1098.8,305.5L1098.8,305.4L1100.0,305.4L1100.0,304.2L1101.2,304.2L1101.2,303.3L1102.5,303.3L1102.5,303.0L1103.8,303.0L1103.8,303.0L1105.0,303.0L1105.0,303.0L1106.2,303.0L1106.2,302.5L1107.5,302.5L1107.5,301.8L1108.8,301.8L1108.8,301.0L1110.0,301.0L1110.0,300.5L1111.2,300.5L1111.2,302.5L1112.5,302.5L1112.5,304.2L1113.8,304.2L1113.8,304.5L1115.0,304.5L1115.0,306.1L1116.2,306.1L1116.2,306.8L1117.5,306.8L1117.5,306.1L1118.8,306.1L1118.8,306.2L1120.0,306.2L1120.0,305.6L1121.2,305.6L1121.2,306.1L1122.5,306.1L1122.5,306.1L1123.8,306.1L1123.8,305.9L1125.0,305.9L1125.0,304.2L1126.2,304.2L1126.2,301.4L1127.5,301.4L1127.5,299.2L1128.8,299.2L1128.8,298.2L1130.0,298.2L1130.0,296.8L1131.2,296.8L1131.2,298.8L1132.5,298.8L1132.5,300.5L1133.8,300.5L1133.8,298.0L1135.0,283.5L1136.2,270.5L1137.5,270.5L1137.5,268.5L1138.8,268.5L1138.8,265.5L1140.0,265.5L1140.0,264.3L1141.2,264.3L1141.2,263.0L1142.5,283.0L1143.8,291.3L1145.0,299.2L1146.2,299.2L1146.2,302.1L1147.5,302.1L1147.5,305.5L1148.8,305.5L1148.8,306.7L1150.0,306.7L1150.0,305.3L1151.2,305.3L1151.2,306.7L1152.5,306.7L1152.5,306.1L1153.8,306.1L1153.8,306.7L1155.0,306.7L1155.0,305.5L1156.2,288.0L1157.5,230.0L1158.8,208.0L1160.0,192.5L1161.2,157.5L1162.5,157.5L1162.5,155.0L1163.8,155.0L1163.8,153.8L1165.0,148.8L1166.2,155.0L1167.0,155.0L1167.0,157.5" stroke="#55ff55" stroke-width="1.1" fill="none" stroke-linejoin="bevel"/>
<path d="M88.2,294.2L89.5,294.2L89.5,295.0L90.8,295.0L90.8,298.0L92.0,298.0L92.0,297.9L93.2,297.9L93.2,297.8L94.5,297.8L94.5,299.2L95.8,299.2L95.8,298.4L97.0,298.4L97.0,299.9L98.2,299.9L98.2,298.1L99.5,298.1L99.5,299.2L100.8,299.2L100.8,296.9L102.0,296.9L102.0,295.5L103.2,295.5L103.2,295.4L104.5,295.4L104.5,298.7L105.8,298.7L105.8,298.0L107.0,298.0L107.0,298.4L108.2,298.4L108.2,298.2L109.5,298.2L109.5,299.2L110.8,299.2L110.8,299.3L112.0,299.3L112.0,300.9L113.2,300.9L113.2,299.8L114.5,299.8L114.5,301.5L115.8,301.5L115.8,300.4L117.0,300.4L117.0,301.1L118.2,301.1L118.2,300.0L119.5,300.0L119.5,301.7L120.8,301.7L120.8,298.5L122.0,298.5L122.0,300.9L123.2,300.9L123.2,299.2L124.5,299.2L124.5,298.5L125.8,298.5L125.8,299.5L127.0,299.5L127.0,298.4L128.2,298.4L128.2,296.9L129.5,296.9L129.5,298.0L130.8,298.0L130.8,297.1L132.0,297.1L132.0,297.7L133.2,297.7L133.2,298.3L134.5,298.3L134.5,299.0L135.8,299.0L135.8,300.5L137.0,300.5L137.0,299.5L138.2,299.5L138.2,299.1L139.5,299.1L139.5,300.4L140.8,300.4L140.8,299.4L142.0,299.4L142.0,299.2L143.2,299.2L143.2,298.5L144.5,298.5L144.5,298.3L145.8,298.3L145.8,300.5L147.0,300.5L147.0,300.4L148.2,300.4L148.2,300.5L149.5,300.5L149.5,301.9L150.8,301.9L150.8,299.4L152.0,299.4L152.0,299.6L153.2,299.6L153.2,301.9L154.5,301.9L154.5,300.5L155.8,300.5L155.8,299.9L157.0,299.9L157.0,302.1L158.2,302.1L158.2,302.5L159.5,302.5L159.5,301.1L160.8,301.1L160.8,301.1L162.0,301.1L162.0,302.0L163.2,302.0L163.2,300.3L164.5,300.3L164.5,302.6L165.8,302.6L165.8,302.0L167.0,302.0L167.0,301.8L168.2,301.8L168.2,301.8L169.5,301.8L169.5,300.2L170.8,300.2L170.8,302.3L172.0,302.3L172.0,301.9L173.2,301.9L173.2,301.8L174.5,301.8L174.5,301.2L175.8,301.2L175.8,302.8L177.0,302.8L177.0,302.9L178.2,302.9L178.2,302.1L179.5,302.1L179.5,301.1L180.8,301.1L180.8,300.1L182.0,300.1L182.0,303.0L183.2,303.0L183.2,300.0L184.5,300.0L184.5,301.8L185.8,293.1L187.0,283.0L188.2,283.0L188.2,281.8L189.5,281.8L189.5,279.2L190.8,279.2L190.8,280.2L192.0,280.2L192.0,281.8L193.2,281.8L193.2,285.3L194.5,285.3L194.5,289.2L195.8,289.2L195.8,292.8L197.0,298.0L198.2,298.0L198.2,297.6L199.5,297.6L199.5,297.2L200.8,297.2L200.8,298.8L202.0,298.8L202.0,298.0L203.2,298.0L203.2,298.6L204.5,298.6L204.5,299.6L205.8,299.6L205.8,299.2L207.0,299.2L207.0,300.0L208.2,300.0L208.2,299.2L209.5,299.2L209.5,299.4L210.8,299.4L210.8,297.8L212.0,297.8L212.0,298.8L213.2,298.8L213.2,299.4L214.5,299.4L214.5,299.2L215.8,299.2L215.8,300.8L217.0,300.8L217.0,299.2L217.0,299.2L217.0,295.5L218.2,295.5L218.2,295.1L219.5,295.1L219.5,296.8L220.8,296.8L220.8,294.5L222.0,294.5L222.0,291.8L223.2,291.8L223.2,289.2L224.5,289.2L224.5,286.8L225.8,286.8L225.8,288.3L227.0,288.3L227.0,291.8L228.2,291.8L228.2,293.4L229.5,293.4L229.5,293.0L230.8,293.0L230.8,291.1L232.0,291.1L232.0,290.5L233.2,290.5L233.2,290.4L234.5,290.4L234.5,291.8L235.8,291.8L235.8,293.1L237.0,293.1L237.0,293.0L238.2,293.0L238.2,293.4L239.5,293.4L239.5,295.5L240.8,295.5L240.8,296.2L242.0,296.2L242.0,294.2L243.2,294.2L243.2,292.8L244.5,292.8L244.5,293.0L245.8,293.0L245.8,292.8L247.0,292.8L247.0,294.2L248.2,294.2L248.2,293.6L249.5,293.6L249.5,295.5L250.8,295.5L250.8,297.0L252.0,297.0L252.0,298.0L253.2,298.0L253.2,298.6L254.5,298.6L254.5,299.2L255.8,299.2L255.8,299.7L257.0,299.7L257.0,300.0L258.2,300.0L258.2,298.0L259.5,298.0L259.5,295.2L260.8,295.2L260.8,295.5L262.0,295.5L262.0,296.0L263.2,296.0L263.2,297.8L264.5,297.8L264.5,298.0L265.8,298.0L265.8,295.5L267.0,295.5L267.0,294.2L268.2,294.2L268.2,294.9L269.5,294.9L269.5,293.0L270.8,293.0L270.8,293.2L272.0,293.2L272.0,294.2L273.2,294.2L273.2,294.5L274.5,294.5L274.5,295.5L275.8,295.5L275.8,295.2L277.0,295.2L277.0,295.7L278.2,295.7L278.2,294.2L279.5,294.2L279.5,293.3L280.8,293.3L280.8,292.4L282.0,292.4L282.0,292.6L283.2,292.6L283.2,294.2L284.5,294.2L284.5,295.6L285.8,295.6L285.8,296.4L287.0,296.4L287.0,295.5L288.2,295.5L288.2,294.7L289.5,294.7L289.5,294.3L290.8,294.3L290.8,294.9L292.0,294.9L292.0,293.6L293.2,293.6L293.2,295.2L294.5,295.2L294.5,294.2L295.8,294.2L295.8,294.8L297.0,294.8L297.0,293.0L298.2,293.0L298.2,293.7L299.5,293.7L299.5,294.2L300.8,294.2L300.8,294.4L302.0,294.4L302.0,291.8L303.2,291.8L303.2,292.0L304.5,292.0L304.5,293.0L305.8,293.0L305.8,294.6L307.0,294.6L307.0,295.5L308.2,295.5L308.2,298.2L309.5,298.2L309.5,299.2L310.8,299.2L310.8,296.2L312.0,296.2L312.0,293.0L313.2,293.0L313.2,291.9L314.5,291.9L314.5,290.5L315.8,290.5L315.8,291.2L317.0,291.2L317.0,294.2L318.2,294.2L318.2,294.8L319.5,294.8L319.5,295.5L320.8,295.5L320.8,295.9L322.0,295.9L322.0,295.5L323.2,295.5L323.2,295.4L324.5,295.4L324.5,294.2L325.8,294.2L325.8,293.8L327.0,293.8L327.0,291.8L328.2,291.8L328.2,291.0L329.5,291.0L329.5,293.0L330.8,293.0L330.8,295.0L332.0,295.0L332.0,295.5L333.2,295.5L333.2,295.4L334.5,295.4L334.5,295.5L335.8,276.8L336.8,258.0L338.0,258.0L338.0,253.2L339.2,247.5L340.4,247.5L340.4,243.1L341.6,235.7L342.8,229.9L344.0,223.7L345.2,223.7L345.2,220.9L346.4,213.8L347.6,208.1L348.8,208.1L348.8,204.2L350.0,197.5L351.6,190.6L353.1,185.0L354.4,197.5L355.2,210.0L356.4,235.6L357.6,258.0L358.2,298.1L358.2,298.1L358.2,299.2L359.5,299.2L359.5,300.4L360.8,300.4L360.8,301.8L362.1,301.8L362.1,302.4L363.4,302.4L363.4,300.9L364.8,300.9L364.8,301.4L365.9,301.4L365.9,301.2L367.0,301.2L367.0,303.0L368.2,303.0L368.2,301.3L369.4,301.3L369.4,302.0L370.6,302.0L370.6,301.5L371.8,301.5L371.8,300.4L373.0,300.4L373.0,301.4L374.4,301.4L374.4,301.6L375.8,301.6L375.8,299.4L377.1,299.4L377.1,299.6L378.5,299.6L378.5,298.6L379.9,298.6L379.9,298.7L381.3,298.7L381.3,298.1L382.9,298.1L382.9,297.4L384.6,297.4L384.6,294.8L385.8,294.8L385.8,296.7L387.0,296.7L387.0,296.4L388.3,296.4L388.3,296.8L389.5,296.8L389.5,298.1L390.8,298.1L390.8,298.2L392.1,298.2L392.1,299.3L393.5,299.3L393.5,298.5L394.8,298.5L394.8,298.4L396.1,298.4L396.1,298.1L397.4,298.1L397.4,296.6L398.7,296.6L398.7,295.8L400.1,295.8L400.1,295.7L401.4,295.7L401.4,294.5L402.7,294.5L402.7,294.8L404.4,294.8L404.4,294.6L406.0,294.6L406.0,291.5L407.7,291.5L407.7,293.2L409.3,293.2L409.3,296.5L410.6,296.5L410.6,295.6L411.9,295.6L411.9,295.7L413.3,295.7L413.3,296.0L414.6,296.0L414.6,299.1L415.9,299.1L415.9,298.1L417.2,298.1L417.2,299.0L418.5,299.0L418.5,296.0L419.9,296.0L419.9,296.6L421.2,296.6L421.2,296.7L422.5,296.7L422.5,296.5L423.8,296.5L423.8,298.0L425.1,298.0L425.1,298.8L426.5,298.8L426.5,297.4L427.8,297.4L427.8,300.7L429.1,300.7L429.1,299.8L430.4,299.8L430.4,299.7L431.7,299.7L431.7,297.5L433.1,297.5L433.1,296.7L434.4,296.7L434.4,296.5L435.7,296.5L435.7,296.5L437.0,296.5L437.0,297.5L438.3,297.5L438.3,298.6L439.7,298.6L439.7,297.8L441.0,297.8L441.0,298.8L442.3,298.8L442.3,298.1L443.6,298.1L443.6,297.2L445.0,297.2L445.0,297.3L446.3,297.3L446.3,296.9L447.6,296.9L447.6,296.0L448.9,296.0L448.9,296.5L450.2,296.5L450.2,296.9L451.6,296.9L451.6,296.3L452.9,296.3L452.9,298.6L454.2,298.6L454.2,298.5L455.5,298.5L455.5,298.1L457.0,298.1L457.0,298.8L458.5,298.8L458.5,297.3L460.0,297.3L460.0,299.2L461.2,299.2L461.2,298.6L462.5,298.6L462.5,301.3L463.8,301.3L463.8,300.5L465.0,300.5L465.0,299.2L466.2,299.2L466.2,299.9L467.5,299.9L467.5,299.2L468.8,299.2L468.8,300.1L470.0,300.1L470.0,299.7L471.2,299.7L471.2,299.3L472.5,299.3L472.5,298.0L473.8,298.0L473.8,296.7L475.0,296.7L475.0,298.2L476.2,298.2L476.2,299.6L477.5,299.6L477.5,299.1L478.8,299.1L478.8,298.0L480.0,298.0L480.0,297.8L481.2,297.8L481.2,296.5L482.5,296.5L482.5,296.5L483.8,296.5L483.8,296.1L485.0,296.1L485.0,296.8L486.2,296.8L486.2,296.0L487.5,296.0L487.5,295.0L488.8,295.0L488.8,295.5L490.0,295.5L490.0,293.6L491.2,293.6L491.2,291.7L492.5,291.7L492.5,286.7L493.8,286.7L493.8,285.5L495.0,285.5L495.0,284.7L496.2,284.7L496.2,286.7L497.5,286.7L497.5,286.8L498.8,286.8L498.8,288.4L500.0,288.4L500.0,289.4L501.2,289.4L501.2,290.5L502.5,290.5L502.5,289.7L503.8,289.7L503.8,290.2L505.0,290.2L505.0,289.2L506.2,289.2L506.2,289.1L507.5,289.1L507.5,289.3L508.8,289.3L508.8,292.3L510.0,292.3L510.0,291.8L511.2,291.8L511.2,290.7L512.5,290.7L512.5,290.4L513.8,290.4L513.8,290.5L515.0,290.5L515.0,288.2L516.2,288.2L516.2,287.9L517.5,287.9L517.5,286.8L518.8,286.8L518.8,286.1L520.0,286.1L520.0,288.6L521.2,288.6L521.2,289.2L522.5,289.2L522.5,290.1L523.8,290.1L523.8,291.5L525.0,291.5L525.0,291.8L526.2,291.8L526.2,291.1L527.5,291.1L527.5,291.6L528.8,291.6L528.8,289.2L530.0,289.2L530.0,290.7L531.2,290.7L531.2,293.9L532.5,293.9L532.5,294.2L533.8,294.2L533.8,296.0L535.0,296.0L535.0,298.0L536.2,298.0L536.2,297.1L537.5,297.1L537.5,296.2L538.8,296.2L538.8,295.5L540.0,295.5L540.0,296.7L541.2,296.7L541.2,296.7L542.5,296.7L542.5,295.5L543.8,295.5L543.8,296.1L545.0,296.1L545.0,294.9L546.2,294.9L546.2,295.5L547.5,295.5L547.5,296.8L548.8,296.8L548.8,297.6L550.0,297.6L550.0,298.7L551.2,298.7L551.2,297.8L552.5,297.8L552.5,298.0L553.8,298.0L553.8,296.9L555.0,296.9L555.0,298.9L556.2,298.9L556.2,298.3L557.5,298.3L557.5,296.8L558.8,296.8L558.8,295.5L560.0,295.5L560.0,295.5L561.2,295.5L561.2,293.9L562.5,293.9L562.5,295.3L563.8,295.3L563.8,294.2L565.0,294.2L565.0,295.5L566.2,295.5L566.2,297.2L567.5,297.2L567.5,296.8L568.8,296.8L568.8,297.1L570.0,297.1L570.0,295.1L571.2,295.1L571.2,296.3L572.5,296.3L572.5,295.5L573.8,295.5L573.8,295.1L575.0,295.1L575.0,298.3L576.2,298.3L576.2,296.3L577.5,296.3L577.5,298.0L578.8,298.0L578.8,296.6L580.0,296.6L580.0,297.1L581.2,297.1L581.2,295.5L582.5,295.5L582.5,293.7L583.8,293.7L583.8,292.5L585.0,292.5L585.0,291.8L586.2,291.8L586.2,290.9L587.5,290.9L587.5,291.6L588.8,291.6L588.8,290.5L590.0,290.5L590.0,290.1L591.2,290.1L591.2,291.4L592.5,291.4L592.5,293.0L593.8,293.0L593.8,291.0L595.0,291.0L595.0,291.2L596.2,291.2L596.2,289.2L597.5,289.2L597.5,290.7L598.8,290.7L598.8,290.1L600.0,290.1L600.0,290.5L601.2,290.5L601.2,290.9L602.5,290.9L602.5,290.8L603.8,290.8L603.8,290.8L605.0,290.8L605.0,290.5L606.2,290.5L606.2,291.7L607.5,291.7L607.5,292.8L608.8,292.8L608.8,294.3L610.0,294.3L610.0,294.2L610.0,294.2L610.0,293.0L611.2,293.0L611.2,294.4L612.5,294.4L612.5,294.5L613.8,294.5L613.8,295.5L615.0,295.5L615.0,293.9L616.2,293.9L616.2,296.2L617.5,296.2L617.5,294.2L618.8,294.2L618.8,293.6L620.0,293.6L620.0,292.2L621.2,292.2L621.2,293.0L622.5,293.0L622.5,293.5L623.8,293.5L623.8,293.2L625.0,293.2L625.0,295.5L626.2,295.5L626.2,294.3L627.5,294.3L627.5,295.0L628.8,295.0L628.8,294.2L630.0,294.2L630.0,295.1L631.2,295.1L631.2,295.6L632.5,295.6L632.5,295.5L633.8,295.5L633.8,295.5L635.0,295.5L635.0,297.8L636.2,297.8L636.2,298.0L637.5,298.0L637.5,298.5L638.8,298.5L638.8,297.3L640.0,297.3L640.0,299.2L641.2,299.2L641.2,300.6L642.5,300.6L642.5,301.1L643.8,301.1L643.8,300.5L645.0,300.5L645.0,298.6L646.2,298.6L646.2,298.4L647.5,298.4L647.5,298.0L648.8,298.0L648.8,297.0L650.0,297.0L650.0,296.6L651.2,296.6L651.2,298.0L652.5,298.0L652.5,298.4L653.8,298.4L653.8,298.7L655.0,298.7L655.0,300.5L656.2,300.5L656.2,299.7L657.5,299.7L657.5,297.6L658.8,297.6L658.8,298.0L660.0,298.0L660.0,297.5L661.2,297.5L661.2,297.2L662.5,297.2L662.5,296.8L663.8,296.8L663.8,297.0L665.0,297.0L665.0,297.6L666.2,297.6L666.2,296.2L667.5,296.2L667.5,298.0L668.8,298.0L668.8,298.8L670.0,298.8L670.0,298.7L671.2,298.7L671.2,296.5L672.5,296.5L672.5,296.8L673.8,296.8L673.8,296.6L675.0,296.6L675.0,294.1L676.2,294.1L676.2,293.0L677.5,293.0L677.5,292.4L678.8,292.4L678.8,292.9L680.0,292.9L680.0,294.2L681.2,294.2L681.2,295.3L682.5,295.3L682.5,294.3L683.8,294.3L683.8,295.5L685.0,295.5L685.0,294.3L686.2,294.3L686.2,293.6L687.5,293.6L687.5,293.0L688.8,293.0L688.8,293.1L690.0,293.1L690.0,295.9L691.2,295.9L691.2,295.5L692.5,295.5L692.5,295.5L693.8,295.5L693.8,296.9L695.0,296.9L695.0,298.0L696.2,298.0L696.2,296.5L697.5,296.5L697.5,297.7L698.8,297.7L698.8,295.5L700.0,295.5L700.0,295.6L701.2,295.6L701.2,298.3L702.5,298.3L702.5,299.2L703.8,299.2L703.8,299.8L705.0,299.8L705.0,297.4L706.2,297.4L706.2,298.0L707.5,298.0L707.5,299.1L708.8,299.1L708.8,297.5L710.0,297.5L710.0,298.0L711.2,298.0L711.2,297.6L712.5,297.6L712.5,295.6L713.8,295.6L713.8,297.3L715.0,297.3L715.0,295.5L716.2,295.5L716.2,295.2L717.5,295.2L717.5,295.8L718.8,295.8L718.8,296.8L720.0,296.8L720.0,297.2L721.2,297.2L721.2,296.2L722.5,296.2L722.5,298.0L723.8,298.0L723.8,297.1L725.0,297.1L725.0,296.7L726.2,296.7L726.2,297.5L727.5,297.5L727.5,298.0L728.8,298.0L728.8,296.6L730.0,296.6L730.0,298.7L731.2,298.7L731.2,295.7L732.5,295.7L732.5,296.8L733.8,296.8L733.8,295.4L735.0,295.4L735.0,295.3L736.2,295.3L736.2,295.3L737.5,295.3L737.5,295.5L738.8,295.5L738.8,296.3L740.0,296.3L740.0,295.5L741.2,295.5L741.2,296.7L742.5,296.7L742.5,296.8L743.8,296.8L743.8,296.7L745.0,296.7L745.0,297.6L746.2,297.6L746.2,296.3L747.5,296.3L747.5,295.5L748.8,295.5L748.8,295.3L750.0,295.3L750.0,295.4L751.2,295.4L751.2,296.9L752.5,296.9L752.5,298.0L753.8,298.0L753.8,296.4L755.0,296.4L755.0,296.8L756.2,296.8L756.2,296.8L757.5,296.8L757.5,298.0L758.8,298.0L758.8,298.3L760.0,298.3L760.0,298.0L760.0,293.0L761.2,293.0L761.2,291.8L762.5,291.8L762.5,290.8L763.8,290.8L763.8,291.8L765.0,291.8L765.0,292.4L766.2,292.4L766.2,291.1L767.5,291.1L767.5,293.0L768.8,293.0L768.8,293.0L770.0,293.0L770.0,291.4L771.2,291.4L771.2,291.8L772.5,291.8L772.5,290.0L773.8,290.0L773.8,289.0L775.0,289.0L775.0,289.2L776.2,289.2L776.2,288.5L777.5,288.5L777.5,290.9L778.8,290.9L778.8,291.8L780.0,291.8L780.0,292.5L781.2,292.5L781.2,293.8L782.5,293.8L782.5,294.2L783.8,294.2L783.8,291.9L785.0,291.9L785.0,291.3L786.2,291.3L786.2,288.0L787.5,288.0L787.5,289.6L788.8,289.6L788.8,289.6L790.0,289.6L790.0,289.2L791.2,289.2L791.2,291.3L792.5,291.3L792.5,291.2L793.8,291.2L793.8,291.8L795.0,291.8L795.0,293.9L796.2,293.9L796.2,296.7L797.5,296.7L797.5,296.8L798.8,296.8L798.8,296.7L800.0,296.7L800.0,296.1L801.2,296.1L801.2,294.2L802.5,294.2L802.5,294.7L803.8,294.7L803.8,293.1L805.0,293.1L805.0,293.0L806.2,293.0L806.2,294.0L807.5,294.0L807.5,295.5L808.8,295.5L808.8,296.0L810.0,296.0L810.0,294.2L811.2,294.2L811.2,296.7L812.5,296.7L812.5,296.8L813.8,296.8L813.8,297.3L815.0,297.3L815.0,298.0L816.2,298.0L816.2,298.3L817.5,298.3L817.5,299.2L818.8,299.2L818.8,298.4L820.0,298.4L820.0,298.0L821.2,298.0L821.2,298.3L822.5,298.3L822.5,298.0L823.8,298.0L823.8,297.2L825.0,297.2L825.0,297.2L826.2,297.2L826.2,296.9L827.5,296.9L827.5,298.0L828.8,298.0L828.8,297.7L830.0,297.7L830.0,298.3L831.2,298.3L831.2,298.3L832.5,298.3L832.5,298.0L833.8,298.0L833.8,298.3L835.0,298.3L835.0,297.1L836.2,297.1L836.2,295.5L837.5,295.5L837.5,296.8L838.8,296.8L838.8,297.2L840.0,297.2L840.0,295.0L841.2,295.0L841.2,296.5L842.5,296.5L842.5,295.5L843.8,295.5L843.8,294.2L845.0,294.2L845.0,294.7L846.2,294.7L846.2,295.4L847.5,295.4L847.5,295.5L848.8,295.5L848.8,295.5L850.0,295.5L850.0,295.0L851.2,295.0L851.2,295.3L852.5,295.3L852.5,295.5L853.8,295.5L853.8,295.7L855.0,295.7L855.0,293.2L856.2,293.2L856.2,292.5L857.5,292.5L857.5,293.0L858.8,293.0L858.8,295.6L860.0,295.6L860.0,296.1L861.2,296.1L861.2,295.7L862.5,295.7L862.5,298.0L863.8,298.0L863.8,299.3L865.0,299.3L865.0,300.5L866.2,300.5L866.2,299.4L867.5,299.4L867.5,300.5L868.8,300.5L868.8,299.4L870.0,299.4L870.0,300.4L871.2,300.4L871.2,302.5L872.5,302.5L872.5,301.8L873.8,301.8L873.8,301.4L875.0,301.4L875.0,303.0L876.2,303.0L876.2,302.0L877.5,302.0L877.5,301.8L878.8,301.8L878.8,301.2L880.0,301.2L880.0,300.4L881.2,300.4L881.2,302.0L882.5,302.0L882.5,301.8L883.8,301.8L883.8,300.3L885.0,300.3L885.0,300.5L886.2,300.5L886.2,300.9L887.5,300.9L887.5,300.5L888.8,300.5L888.8,301.6L890.0,301.6L890.0,301.0L891.2,301.0L891.2,300.2L892.5,300.2L892.5,301.8L893.8,301.8L893.8,301.8L895.0,301.8L895.0,303.4L896.2,303.4L896.2,302.6L897.5,302.6L897.5,303.0L898.8,303.0L898.8,303.2L900.0,303.2L900.0,304.5L901.2,304.5L901.2,304.3L902.5,304.3L902.5,303.0L903.8,303.0L903.8,302.6L905.0,302.6L905.0,301.0L906.2,301.0L906.2,302.4L907.5,302.4L907.5,301.3L908.8,301.3L908.8,302.7L910.0,302.7L910.0,301.8L910.0,301.8L910.0,301.8L911.2,301.8L911.2,301.7L912.5,301.7L912.5,300.4L913.8,300.4L913.8,303.2L915.0,303.2L915.0,301.8L916.2,301.8L916.2,301.2L917.5,301.2L917.5,299.9L918.8,299.9L918.8,302.3L920.0,302.3L920.0,300.5L921.2,300.5L921.2,300.6L922.5,300.6L922.5,300.6L923.8,300.6L923.8,301.8L925.0,301.8L925.0,301.8L926.2,301.8L926.2,300.3L927.5,300.3L927.5,300.2L928.8,300.2L928.8,299.2L930.0,299.2L930.0,300.5L931.2,300.5L931.2,302.3L932.5,302.3L932.5,300.6L933.8,300.6L933.8,302.8L935.0,302.8L935.0,303.0L936.2,303.0L936.2,302.3L937.5,302.3L937.5,302.5L938.8,302.5L938.8,301.0L940.0,301.0L940.0,301.8L941.2,301.8L941.2,300.3L942.5,300.3L942.5,301.1L943.8,301.1L943.8,300.4L945.0,300.4L945.0,299.2L946.2,299.2L946.2,299.4L947.5,299.4L947.5,297.7L948.8,297.7L948.8,298.0L950.0,298.0L950.0,298.0L951.2,298.0L951.2,298.6L952.5,298.6L952.5,298.0L953.8,298.0L953.8,299.9L955.0,299.9L955.0,300.5L956.2,300.5L956.2,299.8L957.5,299.8L957.5,302.7L958.8,302.7L958.8,300.5L960.0,300.5L960.0,301.8L961.2,301.8L961.2,301.5L962.5,301.5L962.5,302.3L963.8,302.3L963.8,301.6L965.0,301.6L965.0,300.5L966.2,300.5L966.2,300.9L967.5,300.9L967.5,300.4L968.8,300.4L968.8,301.6L970.0,301.6L970.0,300.5L971.2,300.5L971.2,300.4L972.5,300.4L972.5,300.3L973.8,300.3L973.8,302.2L975.0,302.2L975.0,301.8L976.2,301.8L976.2,303.5L977.5,303.5L977.5,303.1L978.8,303.1L978.8,302.1L980.0,302.1L980.0,303.0L981.2,303.0L981.2,303.6L982.5,303.6L982.5,301.2L983.8,301.2L983.8,301.6L985.0,301.6L985.0,300.5L986.2,300.5L986.2,301.7L987.5,301.7L987.5,300.0L988.8,300.0L988.8,300.6L990.0,300.6L990.0,301.8L991.2,301.8L991.2,303.5L992.5,303.5L992.5,302.6L993.8,302.6L993.8,303.5L995.0,303.5L995.0,303.0L996.2,303.0L996.2,304.1L997.5,304.1L997.5,301.7L998.8,301.7L998.8,303.0L1000.0,303.0L1000.0,301.8L1001.2,301.8L1001.2,302.5L1002.5,302.5L1002.5,299.6L1003.8,299.6L1003.8,301.7L1005.0,301.7L1005.0,300.5L1006.2,300.5L1006.2,299.9L1007.5,299.9L1007.5,300.2L1008.8,300.2L1008.8,299.9L1010.0,299.9L1010.0,301.8L1011.2,301.8L1011.2,301.7L1012.5,301.7L1012.5,302.0L1013.8,302.0L1013.8,303.0L1015.0,303.0L1015.0,303.0L1016.2,303.0L1016.2,301.6L1017.5,301.6L1017.5,303.6L1018.8,303.6L1018.8,300.7L1020.0,300.7L1020.0,301.8L1021.2,301.8L1021.2,303.0L1022.5,303.0L1022.5,301.3L1023.8,301.3L1023.8,300.1L1025.0,300.1L1025.0,300.5L1026.2,300.5L1026.2,299.6L1027.5,299.6L1027.5,300.4L1028.8,300.4L1028.8,300.0L1030.0,300.0L1030.0,299.2L1031.2,299.2L1031.2,301.1L1032.5,301.1L1032.5,299.1L1033.8,299.1L1033.8,301.8L1035.0,301.8L1035.0,300.5L1036.2,300.5L1036.2,299.7L1037.5,299.7L1037.5,300.8L1038.8,300.8L1038.8,299.5L1040.0,299.5L1040.0,299.2L1041.2,299.2L1041.2,297.4L1042.5,297.4L1042.5,300.0L1043.8,300.0L1043.8,297.2L1045.0,297.2L1045.0,298.0L1046.2,298.0L1046.2,296.9L1047.5,296.9L1047.5,298.4L1048.8,298.4L1048.8,299.8L1050.0,299.8L1050.0,299.2L1051.2,299.2L1051.2,298.8L1052.5,298.8L1052.5,300.7L1053.8,300.7L1053.8,300.3L1055.0,300.3L1055.0,299.2L1056.2,299.2L1056.2,298.4L1057.5,298.4L1057.5,299.0L1058.8,299.0L1058.8,300.3L1060.0,300.3L1060.0,299.2L1060.0,299.2L1060.0,301.8L1061.2,301.8L1061.2,301.8L1062.5,301.8L1062.5,302.6L1063.8,302.6L1063.8,300.5L1065.0,300.5L1065.0,300.5L1066.2,300.5L1066.2,301.9L1067.5,301.9L1067.5,299.1L1068.8,299.1L1068.8,300.4L1070.0,300.4L1070.0,300.5L1071.2,300.5L1071.2,299.2L1072.5,299.2L1072.5,299.7L1073.8,299.7L1073.8,299.2L1075.0,299.2L1075.0,299.2L1076.2,299.2L1076.2,297.8L1077.5,297.8L1077.5,299.9L1078.8,299.9L1078.8,298.8L1080.0,298.8L1080.0,298.0L1081.2,298.0L1081.2,297.2L1082.5,297.2L1082.5,296.2L1083.8,296.2L1083.8,296.2L1085.0,296.2L1085.0,295.5L1086.2,295.5L1086.2,295.0L1087.5,295.0L1087.5,298.4L1088.8,298.4L1088.8,296.8L1090.0,296.8L1090.0,299.2L1091.2,299.2L1091.2,299.5L1092.5,299.5L1092.5,298.9L1093.8,298.9L1093.8,296.9L1095.0,296.9L1095.0,296.8L1096.2,296.8L1096.2,297.3L1097.5,297.3L1097.5,297.3L1098.8,297.3L1098.8,296.1L1100.0,296.1L1100.0,298.0L1101.2,298.0L1101.2,298.6L1102.5,298.6L1102.5,297.6L1103.8,297.6L1103.8,294.8L1105.0,294.8L1105.0,295.5L1106.2,295.5L1106.2,297.0L1107.5,297.0L1107.5,298.9L1108.8,298.9L1108.8,299.2L1110.0,299.2L1110.0,299.2L1111.2,299.2L1111.2,299.9L1112.5,299.9L1112.5,298.3L1113.8,298.3L1113.8,300.9L1115.0,300.9L1115.0,300.5L1116.2,300.5L1116.2,300.6L1117.5,300.6L1117.5,300.3L1118.8,300.3L1118.8,300.7L1120.0,300.7L1120.0,299.2L1121.2,299.2L1121.2,297.3L1122.5,297.3L1122.5,297.4L1123.8,297.4L1123.8,297.4L1125.0,297.4L1125.0,296.8L1126.2,296.8L1126.2,296.5L1127.5,296.5L1127.5,295.9L1128.8,295.9L1128.8,298.5L1130.0,298.5L1130.0,298.0L1131.2,298.0L1131.2,299.0L1132.5,299.0L1132.5,297.7L1133.8,297.7L1133.8,300.5L1135.0,300.5L1135.0,299.2L1136.2,299.2L1136.2,299.1L1137.5,299.1L1137.5,300.2L1138.8,300.2L1138.8,296.8L1140.0,296.8L1140.0,298.0L1141.2,298.0L1141.2,298.1L1142.5,298.1L1142.5,297.9L1143.8,297.9L1143.8,300.5L1145.0,300.5L1145.0,300.5L1146.2,300.5L1146.2,300.8L1147.5,300.8L1147.5,300.3L1148.8,300.3L1148.8,299.1L1150.0,299.1L1150.0,299.2L1151.2,299.2L1151.2,298.2L1152.5,298.2L1152.5,301.4L1153.8,301.4L1153.8,301.5L1155.0,301.5L1155.0,300.5L1156.2,300.5L1156.2,300.5L1157.5,300.5L1157.5,300.1L1158.8,300.1L1158.8,302.5L1160.0,302.5L1160.0,301.8L1161.4,301.8L1161.4,302.3L1162.8,302.3L1162.8,302.9L1164.1,302.9L1164.1,300.4L1165.5,300.4L1165.5,302.2L1166.9,302.2L1166.9,301.8" stroke="#ffafaf" stroke-width="1.1" fill="none" stroke-linejoin="bevel"/>
<path d="M88.2,252.5L89.5,261.2L90.8,255.0L91.9,247.4L93.0,240.0L94.3,208.4L95.7,179.9L97.0,150.5L98.8,174.0L100.5,200.0L101.8,225.2L103.0,250.0L104.5,250.0L104.5,252.5L105.8,260.5L107.0,260.5L107.0,265.0L107.9,270.1L108.9,270.1L108.9,272.5L109.8,272.5L109.8,273.9L110.8,273.9L110.8,271.2L111.7,276.5L112.6,276.5L112.6,277.5L113.6,277.5L113.6,273.9L114.5,268.8L115.4,263.4L116.4,263.4L116.4,262.5L117.6,257.5L118.9,265.0L119.8,265.0L119.8,269.5L120.8,269.5L120.8,273.8L121.7,273.8L121.7,270.3L122.6,270.3L122.6,271.2L123.6,271.2L123.6,270.7L124.5,270.7L124.5,273.1L125.4,265.1L126.4,260.0L127.3,260.0L127.3,259.2L128.2,259.2L128.2,257.5L129.2,257.5L129.2,254.5L130.1,254.5L130.1,251.9L131.1,258.6L132.0,263.8L132.9,263.8L132.9,267.1L133.9,267.1L133.9,267.5L134.8,267.5L134.8,266.0L135.8,266.0L135.8,261.2L137.0,266.2L137.9,260.9L138.9,251.9L139.8,251.9L139.8,254.5L140.8,260.0L141.7,260.0L141.7,259.1L142.6,259.1L142.6,257.5L143.6,263.1L144.5,263.1L144.5,267.5L145.4,267.5L145.4,269.0L146.4,269.0L146.4,268.8L147.3,268.8L147.3,265.0L148.2,265.0L148.2,265.0L149.2,265.0L149.2,267.7L150.1,267.7L150.1,267.5L151.1,272.9L152.0,272.9L152.0,277.5L152.9,277.5L152.9,279.3L153.9,285.0L154.8,279.3L155.8,273.8L157.0,267.3L158.2,267.3L158.2,262.5L159.2,256.3L160.1,248.8L161.4,241.9L162.3,241.9L162.3,243.4L163.2,248.8L164.2,248.8L164.2,248.6L165.1,248.6L165.1,247.5L166.1,254.3L167.0,254.3L167.0,258.8L167.9,258.8L167.9,259.6L168.9,259.6L168.9,262.5L169.8,269.1L170.8,269.1L170.8,273.8L171.7,273.8L171.7,277.1L172.6,282.5L173.6,282.5L173.6,280.6L174.5,280.6L174.5,281.2L175.4,281.2L175.4,278.2L176.4,278.2L176.4,276.2L177.3,276.2L177.3,275.6L178.2,275.6L178.2,277.5L179.2,277.5L179.2,278.7L180.1,278.7L180.1,282.5L181.4,282.5L181.4,285.0L182.6,285.0L182.6,287.5L183.6,287.5L183.6,287.5L184.5,287.5L184.5,290.0L185.5,280.5L186.5,270.0L187.4,260.0L188.2,254.0L189.5,248.6L190.8,243.0L192.0,243.0L192.0,246.2L193.2,246.2L193.2,248.0L194.6,248.0L194.6,246.5L196.0,246.5L196.0,246.0L197.5,246.0L197.5,247.7L199.0,247.7L199.0,250.0L200.5,250.0L200.5,246.7L202.0,246.7L202.0,247.0L203.6,247.0L203.6,250.0L204.0,108.0L205.2,31.8L206.8,31.8L206.8,31.2L208.2,31.2L208.2,31.0L209.5,31.0L209.5,30.2L210.8,30.2L210.8,29.2L212.0,29.2L212.0,27.9L213.2,27.9L213.2,26.8L214.9,26.8L214.9,23.9L216.5,23.9L216.5,22.2L217.4,22.2L217.4,22.6L218.2,22.6L218.2,24.2L219.1,24.2L219.1,25.9L220.0,25.9L220.0,28.0L221.6,28.0L221.6,27.8L223.2,27.8L223.2,27.2L224.5,27.2L224.5,26.8L225.8,26.8L225.8,27.5L227.0,27.5L227.0,26.6L228.2,26.6L228.2,27.4L229.5,27.4L229.5,26.8L230.8,26.8L230.8,27.3L232.0,27.3L232.0,26.9L233.2,26.9L233.2,26.3L234.5,26.3L234.5,27.1L235.8,27.1L235.8,26.7L237.0,26.7L237.0,26.2L238.2,26.2L238.2,26.7L239.5,26.7L239.5,25.9L240.8,25.9L240.8,26.1L242.0,26.1L242.0,26.8L243.2,26.8L243.2,27.1L244.5,27.1L244.5,27.1L245.8,27.1L245.8,26.5L247.0,26.5L247.0,27.2L248.2,27.2L248.2,27.3L249.5,27.3L249.5,27.6L250.8,27.6L250.8,26.9L252.0,26.9L252.0,27.2L253.2,27.2L253.2,27.3L254.5,27.3L254.5,28.0L255.8,28.0L255.8,28.4L257.0,28.4L257.0,28.0L258.2,28.0L258.2,27.9L259.5,27.9L259.5,28.7L260.8,28.7L260.8,29.2L262.0,29.2L262.0,28.1L263.2,28.1L263.2,28.1L264.5,28.1L264.5,26.8L265.8,26.8L265.8,25.7L267.0,25.7L267.0,25.0L268.5,25.0L268.5,24.2L270.0,24.2L270.0,23.5L271.6,23.5L271.6,24.4L273.2,24.4L273.2,24.8L274.5,24.8L274.5,24.3L275.8,24.3L275.8,25.5L277.0,25.5L277.0,25.3L278.2,25.3L278.2,25.5L279.5,25.5L279.5,24.7L280.8,24.7L280.8,24.7L282.0,24.7L282.0,25.0L283.2,25.0L283.2,25.8L284.5,25.8L284.5,25.2L285.8,25.2L285.8,26.1L287.0,26.1L287.0,26.0L288.2,26.0L288.2,26.6L289.5,26.6L289.5,27.4L290.8,27.4L290.8,26.6L292.0,26.6L292.0,27.5L293.2,27.5L293.2,27.8L294.5,27.8L294.5,28.5L295.8,28.5L295.8,28.8L297.0,28.8L297.0,29.4L298.2,29.4L298.2,28.8L299.5,28.8L299.5,29.2L300.8,29.2L300.8,29.2L302.0,29.2L302.0,28.6L303.2,28.6L303.2,29.0L304.5,29.0L304.5,28.5L305.8,28.5L305.8,28.6L307.0,28.6L307.0,29.0L308.2,29.0L308.2,29.2L309.5,29.2L309.5,29.2L310.8,29.2L310.8,27.4L312.0,27.4L312.0,27.2L313.2,27.2L313.2,27.1L314.5,27.1L314.5,26.2L315.8,26.2L315.8,26.2L317.0,26.2L317.0,26.9L318.2,26.9L318.2,27.2L319.5,27.2L319.5,27.2L320.8,27.2L320.8,26.6L322.0,26.6L322.0,26.6L323.2,26.6L323.2,27.3L324.5,27.3L324.5,26.8L325.8,26.8L325.8,26.3L327.0,26.3L327.0,27.0L328.2,27.0L328.2,26.8L329.5,26.8L329.5,26.8L330.8,26.8L330.8,25.7L332.0,25.7L332.0,26.4L333.2,26.4L333.2,25.5L334.5,25.5L334.5,25.2L335.8,25.2L335.8,25.8L337.0,25.8L337.0,25.5L338.5,45.5L339.5,120.0L340.3,200.0L340.8,245.0L342.4,245.0L342.4,248.6L344.0,248.6L344.0,252.0L345.3,252.0L345.3,248.6L346.7,248.6L346.7,248.0L348.0,248.0L348.0,246.0L349.5,246.0L349.5,245.3L351.0,245.3L351.0,242.0L352.3,242.0L352.3,240.7L353.6,240.7L353.6,241.9L354.9,241.9L354.9,237.6L356.2,237.6L356.2,237.5L357.8,230.2L359.4,221.9L360.3,221.9L360.3,226.7L361.2,226.7L361.2,231.2L362.2,231.2L362.2,235.8L363.1,235.8L363.1,238.8L364.1,238.8L364.1,238.7L365.0,238.7L365.0,241.9L365.9,241.9L365.9,242.3L366.9,242.3L366.9,240.0L367.8,240.0L367.8,236.5L368.8,236.5L368.8,232.5L369.7,232.5L369.7,234.1L370.6,234.1L370.6,231.2L371.6,231.2L371.6,227.5L372.5,222.5L373.8,202.5L375.0,215.0L375.9,215.0L375.9,216.6L376.9,222.5L377.8,222.5L377.8,223.2L378.8,223.2L378.8,225.0L379.7,225.0L379.7,225.7L380.6,225.7L380.6,230.0L381.6,230.0L381.6,225.7L382.5,225.7L382.5,223.8L383.4,233.0L384.4,240.0L385.3,234.6L386.2,234.6L386.2,232.5L387.2,232.5L387.2,232.1L388.1,232.1L388.1,230.0L389.4,236.2L390.3,236.2L390.3,234.6L391.2,234.6L391.2,230.0L392.2,230.0L392.2,231.4L393.1,231.4L393.1,233.8L394.1,233.8L394.1,230.2L395.0,230.2L395.0,228.8L396.2,236.2L397.5,220.0L398.4,220.0L398.4,219.7L399.4,219.7L399.4,218.8L400.6,212.5L401.6,212.5L401.6,213.8L402.5,213.8L402.5,211.2L403.4,211.2L403.4,209.1L404.4,209.1L404.4,205.0L405.0,205.0L405.0,204.0L406.5,204.0L406.5,202.6L408.0,202.6L408.0,198.0L409.0,198.0L409.0,194.3L410.0,194.3L410.0,193.8L411.0,193.8L411.0,194.2L412.0,194.2L412.0,197.0L413.0,197.0L413.0,200.0L414.0,205.9L415.0,205.9L415.0,210.0L415.6,210.0L415.6,213.8L416.6,219.3L417.5,225.0L418.4,225.0L418.4,228.5L419.4,228.5L419.4,232.5L420.3,224.2L421.2,224.2L421.2,220.0L422.2,214.5L423.1,214.5L423.1,211.2L424.1,211.2L424.1,210.4L425.0,210.4L425.0,206.2L425.9,206.2L425.9,209.1L426.9,209.1L426.9,213.8L427.8,213.8L427.8,214.2L428.8,214.2L428.8,218.8L429.7,218.8L429.7,217.5L430.6,217.5L430.6,215.0L431.6,221.7L432.5,227.5L433.4,227.5L433.4,228.5L434.4,228.5L434.4,226.2L435.3,226.2L435.3,230.9L436.2,240.0L437.2,234.6L438.1,225.0L439.1,225.0L439.1,224.1L440.0,218.8L441.2,210.0L442.2,210.0L442.2,207.9L443.1,207.9L443.1,207.5L443.8,207.5L443.8,208.0L444.4,208.0L444.4,212.5L445.2,212.5L445.2,207.8L446.0,200.0L446.0,195.0L447.4,187.2L448.8,187.2L448.8,182.5L449.9,182.5L449.9,186.9L451.0,186.9L451.0,188.0L452.0,188.0L452.0,188.5L453.0,188.5L453.0,186.0L454.0,186.0L454.0,190.0L455.0,190.0L455.0,190.0L456.0,190.0L456.0,194.3L457.0,194.3L457.0,198.0L458.5,198.0L458.5,200.8L460.0,200.8L460.0,202.5L461.2,202.5L461.2,203.6L462.5,203.6L462.5,205.3L463.8,205.3L463.8,207.5L465.0,207.5L465.0,205.1L466.2,205.1L466.2,203.5L467.5,203.5L467.5,200.0L468.8,200.0L468.8,195.5L470.0,195.5L470.0,194.0L471.2,194.0L471.2,190.0L472.5,197.3L473.8,207.5L475.0,207.5L475.0,205.5L476.2,200.0L477.5,189.0L478.8,182.5L480.0,182.5L480.0,184.2L481.2,184.2L481.2,187.7L482.5,187.7L482.5,187.5L483.8,187.5L483.8,184.5L485.0,184.5L485.0,182.2L486.2,182.2L486.2,182.5L487.5,182.5L487.5,179.2L488.8,179.2L488.8,178.6L490.0,178.6L490.0,177.5L491.2,166.3L492.5,152.5L493.8,143.4L495.0,143.4L495.0,139.8L496.2,131.2L497.5,139.2L498.8,139.2L498.8,142.5L500.0,142.5L500.0,140.3L501.2,140.3L501.2,138.8L502.5,138.8L502.5,139.1L503.8,139.1L503.8,142.5L505.0,147.6L506.2,147.6L506.2,150.0L507.5,150.0L507.5,152.3L508.8,152.3L508.8,155.0L510.0,162.0L511.2,170.0L512.5,158.5L513.8,150.0L515.0,138.9L516.2,131.2L517.5,138.8L518.8,145.0L520.0,154.2L521.2,162.5L522.9,170.2L524.5,180.0L525.8,173.2L527.0,163.8L528.5,174.5L530.0,182.5L531.5,192.9L533.0,202.5L534.0,195.1L535.0,190.0L536.2,182.4L537.5,182.4L537.5,177.5L538.8,177.5L538.8,177.6L540.0,177.6L540.0,179.3L541.2,179.3L541.2,180.0L542.5,180.0L542.5,181.5L543.8,187.0L545.0,187.0L545.0,187.5L546.2,195.1L547.5,205.0L548.8,199.7L550.0,193.8L551.5,193.8L551.5,195.7L553.0,195.7L553.0,197.5L554.6,197.5L554.6,200.4L556.2,200.4L556.2,201.2L557.5,201.2L557.5,197.5L558.8,197.5L558.8,192.5L560.0,186.2L561.2,186.2L561.2,183.8L562.5,183.8L562.5,185.8L563.8,185.8L563.8,187.5L565.0,195.8L566.2,207.5L567.5,207.5L567.5,208.2L568.8,208.2L568.8,209.7L570.0,209.7L570.0,207.5L571.2,200.4L572.5,200.4L572.5,196.2L573.8,196.2L573.8,200.2L575.0,200.2L575.0,202.9L576.2,202.9L576.2,205.0L577.5,205.0L577.5,209.4L578.8,215.0L580.0,194.1L581.2,177.5L582.5,177.5L582.5,177.2L583.8,177.2L583.8,176.7L585.0,176.7L585.0,175.0L586.2,175.0L586.2,176.0L587.5,176.0L587.5,180.1L588.8,180.1L588.8,183.8L590.0,166.6L591.2,152.5L592.5,152.5L592.5,149.8L593.8,149.8L593.8,150.0L595.0,150.0L595.0,149.4L596.2,149.4L596.2,152.5L597.5,159.0L598.8,166.2L600.0,172.0L601.2,172.0L601.2,176.2L602.5,181.5L603.8,190.0L605.0,190.0L605.0,191.7L606.2,191.7L606.2,194.8L607.5,200.0L608.8,200.0L608.8,198.7L610.0,198.7L610.0,197.5L611.5,189.2L613.0,189.2L613.0,185.0L614.5,185.0L614.5,180.5L616.0,180.5L616.0,177.4L617.5,177.4L617.5,172.5L618.8,178.9L620.0,178.9L620.0,182.5L621.2,188.0L622.5,188.0L622.5,192.5L624.0,197.7L625.5,206.2L626.5,195.7L627.5,185.0L628.8,179.3L630.0,171.2L631.2,171.2L631.2,174.6L632.5,182.5L633.8,189.9L635.0,197.5L636.2,204.3L637.5,204.3L637.5,207.5L638.8,207.5L638.8,211.3L640.0,211.3L640.0,212.5L641.2,212.5L641.2,214.2L642.5,220.0L643.8,220.0L643.8,223.9L645.0,223.9L645.0,225.3L646.2,225.3L646.2,226.7L647.5,226.7L647.5,227.5L648.8,227.5L648.8,226.7L650.0,226.7L650.0,230.0L651.2,230.0L651.2,229.7L652.5,229.7L652.5,226.7L653.8,226.7L653.8,228.0L655.0,228.0L655.0,226.8L656.2,226.8L656.2,225.6L657.5,225.6L657.5,223.0L658.8,233.2L660.0,240.5L661.2,240.5L661.2,236.8L662.5,230.5L663.8,212.5L665.0,212.5L665.0,215.5L666.2,205.0L667.5,205.0L667.5,209.7L668.8,209.7L668.8,213.0L668.8,213.0L668.8,210.0L670.0,199.9L671.2,192.5L672.5,182.1L673.8,167.5L675.0,159.7L676.2,153.8L677.5,164.6L678.8,180.0L680.0,188.9L681.2,195.0L682.5,195.0L682.5,195.5L683.8,195.5L683.8,196.4L685.0,196.4L685.0,200.0L686.2,200.0L686.2,203.3L687.5,203.3L687.5,205.0L688.8,205.0L688.8,201.8L690.0,201.8L690.0,202.5L691.2,202.5L691.2,205.2L692.5,205.2L692.5,207.5L693.8,207.5L693.8,211.8L695.0,211.8L695.0,212.5L696.2,212.5L696.2,215.9L697.5,222.5L698.8,222.5L698.8,221.2L700.0,221.2L700.0,217.5L701.2,217.5L701.2,213.5L702.5,207.4L703.8,207.4L703.8,205.0L705.0,205.0L705.0,203.7L706.2,203.7L706.2,200.0L707.5,200.0L707.5,204.2L708.8,212.5L710.0,218.6L711.2,225.0L712.5,218.8L713.8,212.5L715.0,205.5L716.2,198.8L717.5,198.8L717.5,202.1L718.8,202.1L718.8,205.0L720.0,215.7L721.2,222.5L722.5,222.5L722.5,223.4L723.8,223.4L723.8,222.3L725.0,222.3L725.0,225.0L726.2,225.0L726.2,223.0L727.5,223.0L727.5,222.2L728.8,222.2L728.8,222.5L730.0,222.5L730.0,217.7L731.2,212.7L732.5,212.7L732.5,210.0L733.8,210.0L733.8,206.6L735.0,206.6L735.0,207.5L736.2,213.7L737.5,213.7L737.5,217.5L738.8,211.8L740.0,211.8L740.0,207.9L741.2,207.9L741.2,205.0L742.5,205.0L742.5,203.1L743.8,203.1L743.8,198.8L745.0,198.8L745.0,195.0L746.2,195.0L746.2,199.2L747.5,205.0L748.8,210.7L750.0,210.7L750.0,212.5L751.2,212.5L751.2,214.5L752.5,214.5L752.5,216.9L753.8,216.9L753.8,217.5L755.0,212.3L756.2,205.0L757.5,205.0L757.5,200.1L758.8,200.1L758.8,197.5L760.0,197.5L760.0,195.0L761.2,195.0L761.2,194.1L762.5,194.1L762.5,193.8L763.8,193.8L763.8,195.0L765.0,195.0L765.0,197.5L766.2,191.8L767.5,191.8L767.5,190.0L768.8,184.7L770.0,184.7L770.0,180.0L771.2,173.8L772.5,168.8L773.8,174.2L775.0,180.0L776.2,189.5L777.5,195.0L778.8,195.0L778.8,198.3L780.0,205.0L781.2,205.0L781.2,203.1L782.5,203.1L782.5,202.5L783.8,202.5L783.8,205.5L785.0,205.5L785.0,207.5L786.2,207.5L786.2,203.1L787.5,203.1L787.5,200.0L788.8,207.7L790.0,207.7L790.0,212.5L791.2,212.5L791.2,209.3L792.5,209.3L792.5,210.0L793.8,210.0L793.8,205.7L795.0,199.7L796.2,199.7L796.2,197.5L797.5,197.5L797.5,201.4L798.8,207.5L800.0,207.5L800.0,212.1L801.2,212.1L801.2,215.0L802.5,215.0L802.5,218.3L803.8,218.3L803.8,223.2L805.0,223.2L805.0,225.0L806.2,216.7L807.5,206.9L808.8,197.5L810.0,202.8L811.2,212.5L812.5,212.5L812.5,217.4L813.8,222.5L815.0,222.5L815.0,220.4L816.2,220.4L816.2,218.6L817.5,218.6L817.5,217.5L818.8,217.5L818.8,215.3L820.0,215.3L820.0,210.8L821.2,205.0L822.5,205.0L822.5,209.1L823.8,209.1L823.8,211.7L825.0,211.7L825.0,212.5L826.2,212.5L826.2,216.5L827.5,216.5L827.5,220.3L828.8,220.3L828.8,225.0L830.0,225.0L830.0,225.2L831.2,225.2L831.2,223.1L832.5,223.1L832.5,222.5L833.8,222.5L833.8,223.5L835.0,223.5L835.0,223.6L836.2,223.6L836.2,225.0L837.5,225.0L837.5,227.5L838.8,227.5L838.8,230.0L840.0,230.0L840.0,227.4L841.2,227.4L841.2,222.7L842.5,222.7L842.5,220.0L843.8,220.0L843.8,217.6L845.0,217.6L845.0,217.5L846.2,223.5L847.5,223.5L847.5,227.5L849.2,227.5L849.2,224.4L851.0,224.4L851.0,225.0L852.3,215.3L853.7,200.2L855.0,190.0L856.2,190.0L856.2,193.5L857.5,193.5L857.5,197.5L858.8,223.0L860.0,223.0L860.0,226.3L861.2,233.0L862.5,233.0L862.5,237.7L863.8,245.5L865.0,245.5L865.0,246.3L866.2,251.5L867.5,251.5L867.5,253.0L868.8,253.0L868.8,251.2L870.0,251.2L870.0,252.7L871.2,252.7L871.2,250.5L872.5,250.5L872.5,252.9L873.8,252.9L873.8,251.5L875.0,251.5L875.0,253.0L876.2,253.0L876.2,252.9L877.5,252.9L877.5,256.0L878.8,256.0L878.8,255.5L880.0,255.5L880.0,252.9L881.2,252.9L881.2,253.2L882.5,253.2L882.5,250.5L883.8,250.5L883.8,248.7L885.0,248.7L885.0,250.1L886.2,250.1L886.2,248.0L887.5,254.4L888.8,254.4L888.8,258.0L890.0,258.0L890.0,259.3L891.2,259.3L891.2,263.8L892.5,263.8L892.5,268.0L893.8,268.0L893.8,266.1L895.0,266.1L895.0,266.1L896.2,266.1L896.2,265.5L897.5,265.5L897.5,265.7L898.8,265.7L898.8,268.6L900.0,268.6L900.0,268.0L901.2,268.0L901.2,268.7L902.5,268.7L902.5,271.3L903.8,271.3L903.8,270.5L905.0,270.5L905.0,270.7L906.2,270.7L906.2,274.1L907.5,274.1L907.5,275.5L908.8,275.5L908.8,278.1L910.0,278.1L910.0,279.9L911.2,279.9L911.2,277.2L912.5,277.2L912.5,280.5L913.8,274.2L915.0,274.2L915.0,272.2L916.2,272.2L916.2,268.0L917.5,268.0L917.5,266.0L918.8,266.0L918.8,262.4L920.0,262.4L920.0,260.5L921.2,260.5L921.2,263.2L922.5,263.2L922.5,262.0L923.8,262.0L923.8,263.0L925.0,269.2L926.2,269.2L926.2,273.0L927.5,273.0L927.5,277.0L928.8,277.0L928.8,278.9L930.0,278.9L930.0,283.0L931.2,283.0L931.2,282.2L932.5,282.2L932.5,280.6L933.8,280.6L933.8,280.5L935.0,280.5L935.0,282.7L936.2,282.7L936.2,287.3L937.5,287.3L937.5,288.0L938.8,288.0L938.8,283.4L940.0,283.4L940.0,281.1L941.2,281.1L941.2,278.0L942.5,270.6L943.8,265.0L945.0,265.0L945.0,260.5L946.2,253.8L947.5,245.0L948.8,239.7L950.0,233.0L951.2,233.0L951.2,231.8L952.5,240.3L953.8,245.5L955.0,245.5L955.0,250.1L956.2,259.0L957.5,265.5L958.8,265.5L958.8,266.4L960.0,266.4L960.0,270.8L961.2,270.8L961.2,273.0L962.5,273.0L962.5,275.1L963.8,275.1L963.8,279.9L965.0,285.5L966.2,274.7L967.5,268.0L968.8,268.0L968.8,266.3L970.0,266.3L970.0,263.0L971.2,263.0L971.2,264.8L972.5,264.8L972.5,268.0L973.8,268.0L973.8,273.0L975.0,273.0L975.0,269.3L976.2,263.2L977.5,263.2L977.5,260.5L978.8,260.5L978.8,265.3L980.0,265.3L980.0,270.1L981.2,275.5L982.5,275.5L982.5,280.0L983.8,288.0L985.0,281.2L986.2,275.5L987.5,269.9L988.8,269.9L988.8,266.7L990.0,266.7L990.0,265.5L991.2,260.2L992.5,253.0L993.8,253.0L993.8,251.1L995.0,251.1L995.0,251.2L996.2,251.2L996.2,253.0L997.5,266.1L998.8,278.0L1000.0,270.3L1001.2,263.7L1002.5,258.0L1003.8,258.0L1003.8,257.9L1005.0,257.9L1005.0,255.5L1006.2,263.3L1007.5,270.5L1008.8,270.5L1008.8,274.8L1010.0,274.8L1010.0,278.3L1011.2,278.3L1011.2,283.0L1012.5,283.0L1012.5,281.0L1013.8,274.3L1015.0,274.3L1015.0,270.5L1016.2,270.5L1016.2,269.0L1017.5,269.0L1017.5,268.0L1018.8,268.0L1018.8,272.4L1020.0,272.4L1020.0,275.1L1021.2,280.5L1022.5,280.5L1022.5,281.9L1023.8,281.9L1023.8,282.1L1025.0,282.1L1025.0,283.0L1026.2,283.0L1026.2,280.8L1027.5,280.8L1027.5,281.7L1028.8,281.7L1028.8,280.5L1030.0,275.3L1031.2,275.3L1031.2,274.0L1032.5,274.0L1032.5,270.5L1033.8,270.5L1033.8,266.4L1035.0,266.4L1035.0,262.7L1036.2,255.5L1037.5,255.5L1037.5,253.9L1038.8,253.9L1038.8,253.0L1040.0,253.0L1040.0,257.7L1041.2,257.7L1041.2,261.1L1042.5,261.1L1042.5,263.0L1043.8,263.0L1043.8,267.0L1045.0,267.0L1045.0,272.0L1046.2,272.0L1046.2,275.5L1047.5,275.5L1047.5,271.6L1048.8,271.6L1048.8,268.9L1050.0,268.9L1050.0,268.0L1051.2,268.0L1051.2,266.6L1052.5,261.5L1053.8,261.5L1053.8,258.0L1055.0,258.0L1055.0,254.9L1056.2,254.9L1056.2,255.5L1057.5,260.8L1058.8,260.8L1058.8,265.5L1060.0,265.5L1060.0,270.5L1061.2,275.5L1062.5,275.5L1062.5,273.9L1063.8,273.9L1063.8,276.4L1065.0,276.4L1065.0,275.5L1066.2,275.5L1066.2,272.2L1067.5,272.2L1067.5,270.5L1068.8,270.5L1068.8,270.5L1070.0,270.5L1070.0,270.8L1071.2,270.8L1071.2,270.5L1072.5,270.5L1072.5,273.6L1073.8,279.3L1075.0,279.3L1075.0,280.5L1076.2,274.8L1077.5,274.8L1077.5,270.7L1078.8,263.0L1080.0,263.0L1080.0,262.3L1081.2,262.3L1081.2,263.6L1082.5,263.6L1082.5,260.5L1083.8,260.5L1083.8,263.8L1085.0,263.8L1085.0,267.3L1086.2,267.3L1086.2,270.5L1087.5,264.1L1088.8,264.1L1088.8,260.0L1090.0,254.2L1091.2,254.2L1091.2,256.8L1092.5,256.8L1092.5,258.4L1093.8,258.4L1093.8,260.5L1095.0,260.5L1095.0,262.5L1096.2,262.5L1096.2,267.4L1097.5,267.4L1097.5,268.0L1098.8,268.0L1098.8,272.7L1100.0,272.7L1100.0,273.4L1101.2,273.4L1101.2,278.0L1102.5,278.0L1102.5,273.9L1103.8,273.9L1103.8,275.1L1105.0,275.1L1105.0,270.5L1106.2,270.5L1106.2,268.3L1107.5,268.3L1107.5,267.4L1108.8,267.4L1108.8,268.0L1110.0,268.0L1110.0,270.3L1111.2,270.3L1111.2,273.4L1112.5,273.4L1112.5,273.0L1113.8,273.0L1113.8,275.7L1115.0,275.7L1115.0,278.6L1116.2,278.6L1116.2,280.5L1117.5,280.5L1117.5,277.9L1118.8,277.9L1118.8,278.9L1120.0,278.9L1120.0,278.0L1121.2,278.0L1121.2,277.9L1122.5,277.9L1122.5,276.5L1123.8,276.5L1123.8,273.0L1125.0,273.0L1125.0,272.9L1126.2,272.9L1126.2,274.1L1127.5,274.1L1127.5,278.0L1128.8,278.0L1128.8,276.1L1130.0,276.1L1130.0,273.0L1131.2,273.0L1131.2,273.0L1132.5,273.0L1132.5,275.9L1133.8,275.9L1133.8,275.4L1135.0,275.4L1135.0,275.5L1136.2,275.5L1136.2,275.7L1137.5,275.7L1137.5,274.1L1138.8,274.1L1138.8,270.5L1140.0,270.5L1140.0,269.3L1141.2,269.3L1141.2,265.4L1142.5,265.4L1142.5,265.5L1143.8,270.5L1145.0,270.5L1145.0,272.7L1146.2,272.7L1146.2,275.5L1147.5,275.5L1147.5,270.7L1148.8,270.7L1148.8,270.5L1150.0,270.5L1150.0,268.0L1151.2,268.0L1151.2,266.8L1152.5,266.8L1152.5,267.9L1153.8,267.9L1153.8,270.5L1155.0,270.5L1155.0,269.0L1156.2,269.0L1156.2,266.1L1157.5,266.1L1157.5,263.0L1158.8,263.0L1158.8,259.9L1160.0,259.9L1160.0,255.5L1161.2,262.9L1162.5,268.0L1163.8,268.0L1163.8,272.8L1165.0,280.5L1166.2,280.5L1166.2,283.0" stroke="#808080" stroke-width="1.1" fill="none" stroke-linejoin="bevel"/>
<path d="M88.2,273.0L89.5,283.0L90.8,293.0L92.0,293.0L92.0,292.1L93.2,292.1L93.2,294.2L94.5,294.2L94.5,295.8L95.8,295.8L95.8,295.5L97.0,295.5L97.0,294.1L98.2,294.1L98.2,294.2L99.5,294.2L99.5,294.2L100.4,289.2L101.4,289.2L101.4,286.8L102.3,286.8L102.3,288.2L103.2,288.2L103.2,288.6L104.2,288.6L104.2,290.1L105.1,290.1L105.1,290.5L106.1,290.5L106.1,290.2L107.0,290.2L107.0,293.0L108.2,293.0L108.2,291.8L109.5,291.8L109.5,291.8L110.4,291.8L110.4,295.2L111.4,295.2L111.4,295.5L112.3,295.5L112.3,292.7L113.2,292.7L113.2,293.0L114.2,293.0L114.2,295.1L115.1,295.1L115.1,295.5L116.1,295.5L116.1,295.6L117.0,295.6L117.0,298.0L118.2,298.0L118.2,296.2L119.5,296.2L119.5,295.5L120.8,295.5L120.8,296.5L122.0,296.5L122.0,298.0L123.2,298.0L123.2,294.3L124.5,294.3L124.5,293.0L125.4,293.0L125.4,293.7L126.4,293.7L126.4,291.8L127.3,291.8L127.3,292.3L128.2,292.3L128.2,294.2L129.2,294.2L129.2,292.5L130.1,292.5L130.1,293.0L131.1,293.0L131.1,291.1L132.0,291.1L132.0,291.8L133.2,291.8L133.2,290.4L134.5,290.4L134.5,290.5L135.4,290.5L135.4,292.0L136.4,292.0L136.4,295.5L137.3,295.5L137.3,297.3L138.2,297.3L138.2,298.0L139.5,298.0L139.5,295.9L140.8,295.9L140.8,295.5L142.0,295.5L142.0,290.8L143.2,290.8L143.2,289.2L144.2,289.2L144.2,290.1L145.1,290.1L145.1,288.0L146.1,288.0L146.1,288.9L147.0,288.9L147.0,288.0L147.9,288.0L147.9,291.3L148.9,291.3L148.9,291.8L149.8,291.8L149.8,294.3L150.8,294.3L150.8,296.8L152.0,296.8L152.0,296.1L153.2,296.1L153.2,294.2L154.5,294.2L154.5,295.5L155.8,295.5L155.8,294.9L157.0,294.9L157.0,293.0L158.2,293.0L158.2,296.8L159.5,296.8L159.5,298.0L160.4,298.0L160.4,300.1L161.4,300.1L161.4,299.2L162.3,299.2L162.3,298.6L163.2,298.6L163.2,298.0L164.5,298.0L164.5,298.3L165.8,298.3L165.8,298.0L167.0,298.0L167.0,296.1L168.2,296.1L168.2,295.5L169.5,295.5L169.5,295.0L170.8,295.0L170.8,294.2L172.0,294.2L172.0,295.8L173.2,295.8L173.2,295.5L174.5,295.5L174.5,296.9L175.8,296.9L175.8,296.8L176.7,296.8L176.7,297.1L177.6,297.1L177.6,298.0L178.9,298.0L178.9,297.1L180.1,297.1L180.1,299.2L181.4,299.2L181.4,299.2L182.6,299.2L182.6,298.0L183.6,298.0L183.6,297.0L184.5,297.0L184.5,298.0L185.8,286.8L186.7,280.8L187.6,273.0L188.6,262.0L189.5,253.0L190.4,253.0L190.4,250.4L191.4,250.4L191.4,246.8L192.3,246.8L192.3,250.4L193.2,250.4L193.2,253.0L194.2,259.4L195.1,265.5L196.1,272.3L197.0,279.2L197.6,289.2L198.9,294.2L200.1,294.2L200.1,291.8L201.4,278.0L202.3,278.0L202.3,276.2L203.2,276.2L203.2,276.8L204.5,286.8L205.8,295.5L206.7,295.5L206.7,294.0L207.6,294.0L207.6,295.5L209.2,295.5L209.2,295.7L210.8,295.7L210.8,295.5L212.0,295.5L212.0,294.7L213.2,294.7L213.2,294.2L214.5,294.2L214.5,290.5L215.8,290.5L215.8,291.5L217.0,291.5L217.0,289.2L217.0,289.2L217.0,289.2L217.9,289.2L217.9,290.5L218.9,290.5L218.9,290.5L220.1,290.5L220.1,294.2L221.1,287.3L222.0,280.5L223.2,280.5L223.2,275.8L224.5,275.8L224.5,274.2L225.4,274.2L225.4,276.0L226.4,276.0L226.4,276.8L227.6,286.8L228.6,286.8L228.6,288.0L229.5,288.0L229.5,289.2L230.4,289.2L230.4,290.2L231.4,290.2L231.4,291.1L232.6,283.0L233.6,283.0L233.6,284.0L234.5,284.0L234.5,282.4L235.8,282.4L235.8,284.4L237.0,284.4L237.0,284.2L238.2,290.5L239.5,290.5L239.5,292.1L240.8,292.1L240.8,291.8L242.3,291.8L242.3,292.0L243.9,292.0L243.9,291.8L244.8,291.8L244.8,289.7L245.8,289.7L245.8,285.5L247.0,285.5L247.0,287.9L248.2,287.9L248.2,287.4L249.5,287.4L249.5,288.0L250.8,293.0L252.0,293.0L252.0,295.8L253.2,295.8L253.2,295.5L254.5,295.5L254.5,295.3L255.8,295.3L255.8,295.4L257.0,295.4L257.0,295.5L257.9,295.5L257.9,291.8L258.9,291.8L258.9,291.1L260.1,291.1L260.1,292.3L261.4,292.3L261.4,289.8L262.6,289.8L262.6,290.5L263.6,290.5L263.6,293.5L264.5,293.5L264.5,295.5L265.8,289.7L267.0,289.7L267.0,286.8L268.6,286.8L268.6,284.7L270.1,284.7L270.1,284.9L271.1,284.9L271.1,286.2L272.0,286.2L272.0,286.8L272.9,286.8L272.9,290.1L273.9,290.1L273.9,290.5L275.4,290.5L275.4,292.0L277.0,292.0L277.0,290.5L278.2,290.5L278.2,289.2L279.5,289.2L279.5,285.5L280.4,285.5L280.4,284.7L281.4,284.7L281.4,284.9L282.3,284.9L282.3,287.3L283.2,287.3L283.2,287.4L284.5,287.4L284.5,289.7L285.8,289.7L285.8,291.8L287.3,291.8L287.3,290.2L288.9,290.2L288.9,289.2L290.4,289.2L290.4,289.2L292.0,289.2L292.0,287.4L292.9,287.4L292.9,287.4L293.9,287.4L293.9,289.2L295.1,289.2L295.1,285.5L296.1,285.5L296.1,285.9L297.0,285.9L297.0,288.0L297.9,288.0L297.9,286.9L298.9,286.9L298.9,284.2L300.1,289.2L301.1,289.2L301.1,285.3L302.0,285.3L302.0,283.0L303.2,283.0L303.2,282.4L304.5,287.4L305.8,287.4L305.8,289.3L307.0,289.3L307.0,290.5L308.2,290.5L308.2,292.2L309.5,292.2L309.5,296.1L310.4,296.1L310.4,291.2L311.4,291.2L311.4,288.0L312.3,288.0L312.3,287.4L313.2,287.4L313.2,285.5L314.2,285.5L314.2,285.0L315.1,285.0L315.1,281.8L316.1,281.8L316.1,284.8L317.0,284.8L317.0,287.4L318.2,287.4L318.2,290.4L319.5,290.4L319.5,290.5L320.8,290.5L320.8,289.5L322.0,289.5L322.0,290.5L323.2,290.5L323.2,288.5L324.5,288.5L324.5,286.8L325.4,286.8L325.4,286.1L326.4,286.1L326.4,283.0L327.9,283.0L327.9,282.5L329.5,282.5L329.5,283.0L330.4,283.0L330.4,285.6L331.4,285.6L331.4,286.8L332.3,286.8L332.3,290.2L333.2,290.2L333.2,291.8L334.5,291.8L334.5,291.8L335.8,268.0L336.8,258.0L338.2,246.5L339.6,232.8L341.1,221.7L342.5,210.0L343.8,210.0L343.8,205.0L345.0,200.0L346.2,200.0L346.2,197.7L347.5,197.7L347.5,192.7L348.8,192.7L348.8,191.2L350.0,185.6L351.2,178.5L352.5,171.2L353.4,177.7L354.4,177.7L354.4,181.2L355.2,210.0L356.5,296.5L357.7,296.5L357.7,296.1L359.0,296.1L359.0,298.1L360.2,298.1L360.2,299.1L361.5,299.1L361.5,299.8L362.8,299.8L362.8,300.3L364.1,300.3L364.1,297.9L365.4,297.9L365.4,298.0L366.7,298.0L366.7,297.7L368.1,297.7L368.1,298.1L369.3,298.1L369.3,298.4L370.5,298.4L370.5,295.9L371.8,295.9L371.8,296.6L373.0,296.6L373.0,296.5L374.2,296.5L374.2,297.9L375.5,297.9L375.5,294.9L376.7,294.9L376.7,296.6L378.0,296.6L378.0,296.5L379.3,296.5L379.3,293.6L380.7,293.6L380.7,293.8L382.1,293.8L382.1,291.5L382.9,291.5L382.9,288.0L383.7,288.0L383.7,286.6L385.0,286.6L385.0,290.1L386.2,290.1L386.2,291.5L387.4,291.5L387.4,293.0L388.7,293.0L388.7,292.7L389.9,292.7L389.9,294.1L391.2,294.1L391.2,294.8L392.4,294.8L392.4,294.4L393.6,294.4L393.6,294.8L394.9,294.8L394.9,295.0L396.1,295.0L396.1,294.8L397.3,294.8L397.3,292.3L398.6,292.3L398.6,292.9L399.8,292.9L399.8,291.3L401.1,291.3L401.1,289.9L402.3,289.9L402.3,286.5L403.5,280.0L404.4,280.0L404.4,280.2L405.2,280.2L405.2,278.3L406.4,278.3L406.4,282.3L407.7,282.3L407.7,286.6L409.3,286.6L409.3,290.5L411.0,290.5L411.0,291.5L412.2,291.5L412.2,292.1L413.4,292.1L413.4,294.7L414.7,294.7L414.7,295.4L415.9,295.4L415.9,294.8L417.1,294.8L417.1,295.5L418.4,295.5L418.4,296.4L419.6,296.4L419.6,295.5L420.9,295.5L420.9,296.5L422.1,296.5L422.1,297.4L423.3,297.4L423.3,295.7L424.6,295.7L424.6,297.1L425.8,297.1L425.8,296.5L427.2,296.5L427.2,297.5L428.6,297.5L428.6,297.1L429.9,297.1L429.9,298.1L431.2,298.1L431.2,297.0L432.4,297.0L432.4,298.1L434.1,298.1L434.1,295.5L435.7,295.5L435.7,291.5L436.9,291.5L436.9,292.0L438.2,292.0L438.2,292.5L439.4,292.5L439.4,292.8L440.7,292.8L440.7,293.2L441.9,293.2L441.9,294.6L443.1,294.6L443.1,295.2L444.4,295.2L444.4,294.1L445.6,294.1L445.6,294.8L447.3,294.8L447.3,292.4L448.9,292.4L448.9,288.2L450.6,288.2L450.6,287.6L452.2,287.6L452.2,289.9L453.9,289.9L453.9,292.5L455.5,292.5L455.5,293.2L457.0,293.2L457.0,292.2L458.5,292.2L458.5,294.4L460.0,294.4L460.0,293.0L461.2,293.0L461.2,295.3L462.5,295.3L462.5,294.1L463.8,294.1L463.8,295.5L465.0,295.5L465.0,293.6L466.2,293.6L466.2,296.1L467.5,296.1L467.5,294.2L468.8,294.2L468.8,294.6L470.0,294.6L470.0,292.6L471.2,292.6L471.2,291.8L472.5,291.8L472.5,290.6L473.8,290.6L473.8,289.8L475.0,289.8L475.0,290.5L476.2,290.5L476.2,291.6L477.5,291.6L477.5,289.0L478.8,289.0L478.8,290.5L480.0,290.5L480.0,289.8L481.2,289.8L481.2,291.0L482.5,291.0L482.5,289.2L483.8,289.2L483.8,290.2L485.0,290.2L485.0,289.2L485.9,289.2L485.9,289.4L486.9,289.4L486.9,290.5L487.8,290.5L487.8,289.8L488.8,289.8L488.8,288.0L490.3,288.0L490.3,283.1L491.9,283.1L491.9,279.2L493.1,279.2L493.1,276.2L494.4,270.5L495.3,270.5L495.3,269.1L496.2,269.1L496.2,268.0L497.5,268.0L497.5,271.7L498.8,271.7L498.8,273.0L500.0,273.0L500.0,273.7L501.2,273.7L501.2,276.8L502.5,276.8L502.5,276.7L503.8,276.7L503.8,275.5L505.0,275.5L505.0,275.7L506.2,275.7L506.2,275.5L507.5,275.5L507.5,277.9L508.8,277.9L508.8,279.2L510.0,279.2L510.0,279.3L511.2,279.3L511.2,280.5L512.5,280.5L512.5,279.8L513.8,279.8L513.8,280.5L515.0,280.5L515.0,277.3L516.2,277.3L516.2,273.0L517.5,273.0L517.5,272.6L518.8,272.6L518.8,271.8L520.0,271.8L520.0,274.8L521.2,274.8L521.2,279.2L522.5,279.2L522.5,282.2L523.8,282.2L523.8,285.5L525.0,285.5L525.0,285.0L526.2,285.0L526.2,283.0L527.5,283.0L527.5,280.1L528.8,280.1L528.8,275.5L529.7,275.5L529.7,276.0L530.6,276.0L530.6,279.2L531.6,284.8L532.5,284.8L532.5,288.0L533.8,288.0L533.8,289.9L535.0,289.9L535.0,291.8L536.2,291.8L536.2,290.4L537.5,290.4L537.5,288.0L538.8,288.0L538.8,285.2L540.0,285.2L540.0,285.5L541.2,285.5L541.2,285.4L542.5,285.4L542.5,286.8L543.8,286.8L543.8,288.3L545.0,288.3L545.0,289.2L546.2,289.2L546.2,287.0L547.5,287.0L547.5,288.0L548.8,288.0L548.8,289.6L550.0,289.6L550.0,289.2L551.2,289.2L551.2,288.2L552.5,288.2L552.5,289.2L553.8,289.2L553.8,289.1L555.0,289.1L555.0,288.0L556.2,288.0L556.2,287.0L557.5,287.0L557.5,288.0L558.8,288.0L558.8,286.3L560.0,286.3L560.0,285.5L561.2,285.5L561.2,284.5L562.5,284.5L562.5,284.2L563.8,284.2L563.8,285.6L565.0,285.6L565.0,288.0L566.2,288.0L566.2,287.3L567.5,287.3L567.5,289.2L568.8,289.2L568.8,287.8L570.0,287.8L570.0,285.5L571.2,285.5L571.2,283.6L572.5,283.6L572.5,284.2L573.8,284.2L573.8,285.0L575.0,285.0L575.0,288.0L576.2,288.0L576.2,290.3L577.5,290.3L577.5,290.5L578.8,290.5L578.8,291.6L580.0,291.6L580.0,291.8L581.2,286.4L582.5,286.4L582.5,283.0L583.8,283.0L583.8,280.0L585.0,280.0L585.0,279.2L586.2,279.2L586.2,277.4L587.5,277.4L587.5,276.8L588.8,276.8L588.8,277.1L590.0,277.1L590.0,276.8L591.2,276.8L591.2,279.4L592.5,279.4L592.5,280.5L593.8,280.5L593.8,279.8L595.0,279.8L595.0,276.8L596.2,276.8L596.2,277.2L597.5,277.2L597.5,278.0L598.8,278.0L598.8,280.6L600.0,280.6L600.0,284.2L601.2,284.2L601.2,285.8L602.5,285.8L602.5,288.0L603.8,288.0L603.8,285.9L605.0,285.9L605.0,286.8L606.2,286.8L606.2,286.2L607.5,286.2L607.5,283.0L608.8,283.0L608.8,284.2L610.0,284.2L610.0,284.2L610.0,284.2L610.0,283.0L611.2,283.0L611.2,285.8L612.5,285.8L612.5,286.8L613.8,286.8L613.8,284.9L615.0,284.9L615.0,285.5L616.2,285.5L616.2,285.4L617.5,285.4L617.5,283.0L618.8,283.0L618.8,284.8L620.0,284.8L620.0,284.2L621.2,284.2L621.2,286.2L622.5,286.2L622.5,288.0L623.8,288.0L623.8,288.4L625.0,288.4L625.0,290.5L626.2,290.5L626.2,288.2L627.5,288.2L627.5,288.0L628.8,288.0L628.8,285.9L630.0,285.9L630.0,286.8L631.2,286.8L631.2,287.3L632.5,287.3L632.5,289.2L633.8,289.2L633.8,290.9L635.0,290.9L635.0,291.8L636.2,291.8L636.2,292.0L637.5,292.0L637.5,293.0L638.8,293.0L638.8,292.2L640.0,292.2L640.0,291.8L641.2,291.8L641.2,292.3L642.5,292.3L642.5,293.0L643.8,293.0L643.8,295.6L645.0,295.6L645.0,295.5L646.2,295.5L646.2,295.7L647.5,295.7L647.5,294.2L648.8,294.2L648.8,292.3L650.0,292.3L650.0,293.0L651.2,293.0L651.2,292.0L652.5,292.0L652.5,291.8L653.8,291.8L653.8,292.4L655.0,292.4L655.0,294.2L656.2,294.2L656.2,292.8L657.5,292.8L657.5,293.0L658.8,293.0L658.8,294.7L660.0,294.7L660.0,294.2L661.2,294.2L661.2,295.4L662.5,295.4L662.5,295.5L663.8,295.5L663.8,295.8L665.0,295.8L665.0,294.2L666.2,294.2L666.2,294.6L667.5,294.6L667.5,295.5L668.8,295.5L668.8,296.3L670.0,296.3L670.0,296.8L671.2,296.8L671.2,292.2L672.5,285.5L673.8,285.5L673.8,280.6L675.0,280.6L675.0,276.8L676.2,276.8L676.2,276.5L677.5,276.5L677.5,274.2L678.4,280.5L679.4,280.5L679.4,285.5L680.6,285.5L680.6,283.6L681.9,283.6L681.9,284.2L683.1,284.2L683.1,283.3L684.4,283.3L684.4,281.8L685.6,281.8L685.6,282.7L686.9,282.7L686.9,284.2L688.1,284.2L688.1,288.8L689.4,288.8L689.4,290.5L690.9,290.5L690.9,292.2L692.5,292.2L692.5,294.2L693.8,294.2L693.8,293.1L695.0,293.1L695.0,293.0L696.2,293.0L696.2,293.7L697.5,293.7L697.5,291.8L698.8,291.8L698.8,292.1L700.0,292.1L700.0,289.2L701.2,289.2L701.2,292.1L702.5,292.1L702.5,291.8L703.8,291.8L703.8,293.5L705.0,293.5L705.0,293.0L706.2,293.0L706.2,291.1L707.5,291.1L707.5,291.8L708.8,291.8L708.8,292.4L710.0,292.4L710.0,290.5L711.2,290.5L711.2,291.7L712.5,291.7L712.5,291.8L713.8,291.8L713.8,292.4L715.0,292.4L715.0,290.5L716.2,290.5L716.2,291.1L717.5,291.1L717.5,289.2L718.8,289.2L718.8,288.2L720.0,288.2L720.0,288.0L721.2,288.0L721.2,290.5L722.5,290.5L722.5,290.5L723.8,290.5L723.8,290.8L725.0,290.8L725.0,289.2L726.2,289.2L726.2,289.4L727.5,289.4L727.5,290.5L728.8,290.5L728.8,290.4L730.0,290.4L730.0,289.2L731.2,289.2L731.2,287.7L732.5,287.7L732.5,286.8L733.8,286.8L733.8,288.1L735.0,288.1L735.0,288.0L736.2,288.0L736.2,287.0L737.5,287.0L737.5,286.8L738.8,286.8L738.8,284.9L740.0,284.9L740.0,285.5L741.2,285.5L741.2,284.8L742.5,284.8L742.5,284.2L743.8,284.2L743.8,286.7L745.0,286.7L745.0,286.8L746.2,286.8L746.2,286.8L747.5,286.8L747.5,288.0L748.8,288.0L748.8,285.8L750.0,285.8L750.0,286.8L751.2,286.8L751.2,287.6L752.5,287.6L752.5,288.0L753.8,288.0L753.8,287.1L755.0,287.1L755.0,289.2L756.2,289.2L756.2,288.0L757.5,288.0L757.5,288.0L758.8,288.0L758.8,286.7L760.0,286.7L760.0,288.0L760.0,288.0L760.0,290.5L761.2,284.6L762.5,279.2L763.8,279.2L763.8,277.1L765.0,277.1L765.0,275.5L766.2,275.5L766.2,277.9L767.5,277.9L767.5,280.5L768.8,280.5L768.8,281.2L770.0,281.2L770.0,281.8L771.2,281.8L771.2,282.8L772.5,282.8L772.5,283.0L773.8,283.0L773.8,281.1L775.0,281.1L775.0,278.0L776.2,278.0L776.2,280.1L777.5,280.1L777.5,280.5L778.8,280.5L778.8,284.9L780.0,284.9L780.0,286.8L781.2,286.8L781.2,288.8L782.5,288.8L782.5,289.2L783.8,289.2L783.8,289.4L785.0,289.4L785.0,291.8L786.2,291.8L786.2,290.5L787.5,290.5L787.5,286.8L788.8,286.8L788.8,286.0L790.0,286.0L790.0,288.0L791.2,288.0L791.2,287.7L792.5,287.7L792.5,290.5L793.8,290.5L793.8,290.4L795.0,290.4L795.0,293.0L796.2,293.0L796.2,291.1L797.5,291.1L797.5,289.2L798.8,289.2L798.8,287.5L800.0,287.5L800.0,288.0L801.2,288.0L801.2,288.8L802.5,288.8L802.5,291.8L803.8,291.8L803.8,291.5L805.0,291.5L805.0,294.2L806.2,294.2L806.2,293.3L807.5,293.3L807.5,291.8L808.8,291.8L808.8,288.0L810.0,288.0L810.0,285.5L811.2,285.5L811.2,286.0L812.5,286.0L812.5,288.0L813.8,288.0L813.8,290.9L815.0,290.9L815.0,293.0L816.2,293.0L816.2,292.9L817.5,292.9L817.5,295.5L818.8,295.5L818.8,292.9L820.0,292.9L820.0,290.5L821.2,290.5L821.2,290.8L822.5,290.8L822.5,289.2L823.8,289.2L823.8,290.7L825.0,290.7L825.0,293.0L826.2,293.0L826.2,295.1L827.5,295.1L827.5,294.2L828.8,294.2L828.8,292.2L830.0,292.2L830.0,291.8L831.2,291.8L831.2,289.8L832.5,289.8L832.5,290.5L833.8,290.5L833.8,290.0L835.0,290.0L835.0,291.8L836.2,291.8L836.2,293.4L837.5,293.4L837.5,293.0L838.8,293.0L838.8,294.2L840.0,294.2L840.0,294.2L841.2,294.2L841.2,292.4L842.5,292.4L842.5,291.8L843.8,291.8L843.8,291.6L845.0,291.6L845.0,293.0L846.2,293.0L846.2,295.8L847.5,295.8L847.5,295.5L848.8,295.5L848.8,294.8L850.0,294.8L850.0,296.8L851.2,296.8L851.2,294.8L852.5,294.8L852.5,290.5L853.8,290.5L853.8,285.9L855.0,285.9L855.0,283.0L856.2,283.0L856.2,283.0L857.5,283.0L857.5,281.8L858.8,281.8L858.8,284.1L860.0,284.1L860.0,284.2L861.2,284.2L861.2,286.3L862.5,286.3L862.5,289.2L863.8,289.2L863.8,290.0L865.0,290.0L865.0,291.8L866.2,291.8L866.2,293.0L867.5,293.0L867.5,294.2L868.8,294.2L868.8,295.4L870.0,295.4L870.0,296.8L871.2,296.8L871.2,298.4L872.5,298.4L872.5,298.0L873.8,298.0L873.8,297.1L875.0,297.1L875.0,299.2L876.2,299.2L876.2,297.7L877.5,297.7L877.5,298.0L878.8,298.0L878.8,297.6L880.0,297.6L880.0,296.8L881.2,296.8L881.2,297.5L882.5,297.5L882.5,298.0L883.8,298.0L883.8,297.6L885.0,297.6L885.0,298.0L886.2,298.0L886.2,296.4L887.5,296.4L887.5,298.0L888.8,298.0L888.8,299.2L890.0,299.2L890.0,298.0L891.2,298.0L891.2,297.8L892.5,297.8L892.5,298.0L893.8,298.0L893.8,298.5L895.0,298.5L895.0,298.0L896.2,298.0L896.2,299.5L897.5,299.5L897.5,299.2L898.8,299.2L898.8,297.9L900.0,297.9L900.0,299.2L901.2,299.2L901.2,300.0L902.5,300.0L902.5,300.5L903.8,300.5L903.8,301.9L905.0,301.9L905.0,300.5L906.2,300.5L906.2,299.6L907.5,299.6L907.5,298.9L908.8,298.9L908.8,300.3L910.0,300.3L910.0,299.2L910.0,299.2L910.0,300.5L911.2,300.5L911.2,302.0L912.5,302.0L912.5,301.3L913.8,301.3L913.8,300.5L915.0,300.5L915.0,300.2L916.2,300.2L916.2,299.8L917.5,299.8L917.5,299.2L918.8,299.2L918.8,301.0L920.0,301.0L920.0,300.6L921.2,300.6L921.2,300.5L922.5,300.5L922.5,302.1L923.8,302.1L923.8,302.0L925.0,302.0L925.0,301.8L926.2,301.8L926.2,300.0L927.5,300.0L927.5,302.2L928.8,302.2L928.8,299.3L930.0,299.3L930.0,300.5L931.2,300.5L931.2,302.5L932.5,302.5L932.5,301.5L933.8,301.5L933.8,301.9L935.0,301.9L935.0,303.0L936.2,303.0L936.2,303.0L937.5,303.0L937.5,300.7L938.8,300.7L938.8,300.5L940.0,300.5L940.0,298.2L941.2,298.2L941.2,297.7L942.5,297.7L942.5,298.0L943.8,298.0L943.8,297.5L945.0,297.5L945.0,296.2L946.2,296.2L946.2,296.2L947.5,296.2L947.5,296.8L948.8,296.8L948.8,295.0L950.0,295.0L950.0,294.2L951.2,294.2L951.2,296.6L952.5,296.6L952.5,296.8L953.8,296.8L953.8,299.0L955.0,299.0L955.0,299.8L956.2,299.8L956.2,299.2L957.5,299.2L957.5,299.9L958.8,299.9L958.8,300.4L960.0,300.4L960.0,301.8L961.2,301.8L961.2,299.9L962.5,299.9L962.5,301.0L963.8,301.0L963.8,299.2L965.0,299.2L965.0,298.5L966.2,298.5L966.2,299.7L967.5,299.7L967.5,300.5L968.8,300.5L968.8,302.1L970.0,302.1L970.0,301.5L971.2,301.5L971.2,301.8L972.5,301.8L972.5,301.4L973.8,301.4L973.8,301.9L975.0,301.9L975.0,300.5L976.2,300.5L976.2,301.2L977.5,301.2L977.5,301.6L978.8,301.6L978.8,301.8L980.0,301.8L980.0,301.8L981.2,301.8L981.2,302.3L982.5,302.3L982.5,302.6L983.8,302.6L983.8,301.7L985.0,301.7L985.0,300.5L986.2,300.5L986.2,300.1L987.5,300.1L987.5,301.1L988.8,301.1L988.8,302.1L990.0,302.1L990.0,301.8L991.2,301.8L991.2,302.5L992.5,302.5L992.5,301.8L993.8,301.8L993.8,301.3L995.0,301.3L995.0,299.2L996.2,299.2L996.2,298.4L997.5,298.4L997.5,299.9L998.8,299.9L998.8,298.1L1000.0,298.1L1000.0,298.0L1001.2,298.0L1001.2,297.8L1002.5,297.8L1002.5,298.2L1003.8,298.2L1003.8,296.8L1005.0,296.8L1005.0,296.8L1006.2,296.8L1006.2,297.6L1007.5,297.6L1007.5,300.5L1008.8,300.5L1008.8,301.0L1010.0,301.0L1010.0,300.4L1011.2,300.4L1011.2,298.8L1012.5,298.8L1012.5,299.2L1013.8,299.2L1013.8,299.5L1015.0,299.5L1015.0,300.7L1016.2,300.7L1016.2,300.6L1017.5,300.6L1017.5,301.8L1018.8,301.8L1018.8,302.4L1020.0,302.4L1020.0,299.6L1021.2,299.6L1021.2,300.8L1022.5,300.8L1022.5,300.5L1023.8,300.5L1023.8,300.4L1025.0,300.4L1025.0,297.6L1026.2,297.6L1026.2,296.5L1027.5,296.5L1027.5,296.8L1028.8,296.8L1028.8,297.1L1030.0,297.1L1030.0,295.4L1031.2,295.4L1031.2,293.0L1032.5,293.0L1032.5,293.1L1033.8,293.1L1033.8,291.9L1035.0,291.9L1035.0,290.5L1036.2,290.5L1036.2,290.8L1037.5,290.8L1037.5,294.2L1038.8,294.2L1038.8,294.2L1040.0,294.2L1040.0,296.8L1041.2,296.8L1041.2,297.1L1042.5,297.1L1042.5,295.5L1043.8,295.5L1043.8,295.4L1045.0,295.4L1045.0,294.2L1046.2,294.2L1046.2,295.4L1047.5,295.4L1047.5,295.5L1048.8,295.5L1048.8,297.3L1050.0,297.3L1050.0,298.0L1051.2,298.0L1051.2,298.0L1052.5,298.0L1052.5,300.5L1053.8,300.5L1053.8,300.1L1055.0,300.1L1055.0,298.4L1056.2,298.4L1056.2,300.0L1057.5,300.0L1057.5,298.0L1058.8,298.0L1058.8,297.7L1060.0,297.7L1060.0,296.8L1060.0,296.8L1060.0,295.5L1061.2,295.5L1061.2,296.0L1062.5,296.0L1062.5,300.3L1063.8,300.3L1063.8,300.5L1065.0,300.5L1065.0,298.8L1066.2,298.8L1066.2,297.3L1067.5,297.3L1067.5,296.8L1068.8,296.8L1068.8,296.5L1070.0,296.5L1070.0,295.3L1071.2,295.3L1071.2,295.5L1072.5,295.5L1072.5,297.0L1073.8,297.0L1073.8,298.0L1075.0,298.0L1075.0,299.2L1076.2,299.2L1076.2,298.1L1077.5,298.1L1077.5,299.6L1078.8,299.6L1078.8,298.0L1080.0,298.0L1080.0,298.6L1081.2,298.6L1081.2,297.9L1082.5,297.9L1082.5,295.5L1083.8,295.5L1083.8,296.8L1085.0,296.8L1085.0,295.9L1086.2,295.9L1086.2,296.8L1087.5,296.8L1087.5,296.5L1088.8,296.5L1088.8,299.4L1090.0,299.4L1090.0,299.2L1091.2,299.2L1091.2,298.3L1092.5,298.3L1092.5,298.5L1093.8,298.5L1093.8,300.5L1095.0,300.5L1095.0,298.7L1096.2,298.7L1096.2,299.1L1097.5,299.1L1097.5,298.0L1098.8,298.0L1098.8,295.8L1100.0,295.8L1100.0,297.8L1101.2,297.8L1101.2,295.5L1102.5,295.5L1102.5,292.9L1103.8,292.9L1103.8,291.9L1105.0,291.9L1105.0,291.8L1106.2,291.8L1106.2,292.3L1107.5,292.3L1107.5,294.0L1108.8,294.0L1108.8,293.0L1110.0,293.0L1110.0,293.3L1111.2,293.3L1111.2,295.2L1112.5,295.2L1112.5,295.5L1113.8,295.5L1113.8,297.0L1115.0,297.0L1115.0,296.2L1116.2,296.2L1116.2,296.8L1117.5,296.8L1117.5,295.6L1118.8,295.6L1118.8,296.6L1120.0,296.6L1120.0,298.0L1121.2,298.0L1121.2,298.8L1122.5,298.8L1122.5,296.6L1123.8,296.6L1123.8,298.0L1125.0,292.4L1126.2,292.4L1126.2,288.0L1127.5,288.0L1127.5,288.6L1128.8,288.6L1128.8,286.8L1130.0,286.8L1130.0,288.5L1131.2,288.5L1131.2,289.2L1132.5,289.2L1132.5,290.4L1133.8,290.4L1133.8,294.2L1135.0,294.2L1135.0,294.8L1136.2,294.8L1136.2,294.2L1137.5,294.2L1137.5,295.3L1138.8,295.3L1138.8,295.5L1140.0,295.5L1140.0,296.8L1141.2,296.8L1141.2,299.2L1142.5,299.2L1142.5,297.9L1143.8,297.9L1143.8,296.8L1145.0,296.8L1145.0,294.9L1146.2,294.9L1146.2,293.0L1147.5,293.0L1147.5,293.1L1148.8,293.1L1148.8,291.8L1150.0,291.8L1150.0,292.4L1151.2,292.4L1151.2,295.5L1152.5,295.5L1152.5,297.0L1153.8,297.0L1153.8,296.8L1155.0,296.8L1155.0,295.0L1156.2,295.0L1156.2,295.5L1157.5,295.5L1157.5,294.0L1158.8,294.0L1158.8,294.2L1160.0,294.2L1160.0,295.7L1161.2,295.7L1161.2,295.5L1162.5,295.5L1162.5,295.9L1163.8,295.9L1163.8,299.2L1165.3,299.2L1165.3,299.8L1166.9,299.8L1166.9,298.0" stroke="#c00000" stroke-width="1.1" fill="none" stroke-linejoin="bevel"/>
<path d="M88.2,279.2L89.5,279.2L89.5,280.5L90.4,280.5L90.4,280.1L91.4,280.1L91.4,278.6L92.3,278.6L92.3,281.6L93.2,281.6L93.2,282.4L94.2,282.4L94.2,283.8L95.1,283.8L95.1,284.2L96.4,284.2L96.4,288.0L97.5,288.0L97.5,289.2L98.0,258.0L99.8,183.4L101.5,108.0L102.5,28.0L103.8,108.0L105.5,182.2L107.2,258.0L107.8,289.2L108.9,295.5L109.8,295.5L109.8,296.2L110.8,296.2L110.8,294.2L111.7,294.2L111.7,294.2L112.6,294.2L112.6,296.8L113.6,296.8L113.6,294.6L114.5,294.6L114.5,293.0L115.4,293.0L115.4,295.7L116.4,295.7L116.4,296.8L117.3,296.8L117.3,295.2L118.2,295.2L118.2,291.8L119.5,291.8L119.5,295.5L120.4,295.5L120.4,294.2L121.4,294.2L121.4,295.5L122.3,295.5L122.3,294.7L123.2,294.7L123.2,293.0L124.2,293.0L124.2,292.9L125.1,292.9L125.1,291.8L126.1,291.8L126.1,290.1L127.0,290.1L127.0,290.5L127.9,290.5L127.9,292.2L128.9,292.2L128.9,294.2L130.1,294.2L130.1,290.5L131.1,290.5L131.1,286.4L132.0,286.4L132.0,285.5L132.9,285.5L132.9,288.8L133.9,288.8L133.9,289.2L134.8,289.2L134.8,290.8L135.8,290.8L135.8,295.5L137.0,295.5L137.0,294.2L137.9,294.2L137.9,296.1L138.9,296.1L138.9,296.8L140.1,296.8L140.1,293.0L141.1,293.0L141.1,291.5L142.0,291.5L142.0,288.0L142.9,288.0L142.9,290.3L143.9,290.3L143.9,290.5L144.8,290.5L144.8,288.2L145.8,288.2L145.8,286.8L146.7,286.8L146.7,287.4L147.6,287.4L147.6,289.2L148.6,289.2L148.6,290.8L149.5,290.8L149.5,293.0L150.4,293.0L150.4,294.8L151.4,294.8L151.4,296.8L152.3,296.8L152.3,296.5L153.2,296.5L153.2,295.5L154.2,295.5L154.2,294.8L155.1,294.8L155.1,293.0L156.1,293.0L156.1,293.5L157.0,293.5L157.0,294.2L157.9,294.2L157.9,289.3L158.9,281.8L160.1,281.8L160.1,284.2L161.4,284.2L161.4,284.2L162.6,284.2L162.6,284.2L163.2,295.5L164.2,295.5L164.2,296.4L165.1,296.4L165.1,298.0L166.1,298.0L166.1,297.8L167.0,297.8L167.0,298.0L168.2,298.0L168.2,297.3L169.5,297.3L169.5,298.0L170.8,298.0L170.8,297.3L172.0,297.3L172.0,296.8L173.2,296.8L173.2,296.1L174.5,296.1L174.5,298.0L175.8,298.0L175.8,298.2L177.0,298.2L177.0,296.8L177.9,296.8L177.9,295.5L178.9,295.5L178.9,295.5L179.8,295.5L179.8,296.5L180.8,296.5L180.8,298.0L181.7,298.0L181.7,297.8L182.6,297.8L182.6,299.2L183.6,299.2L183.6,298.6L184.5,298.6L184.5,295.5L185.5,289.2L187.0,260.3L188.5,231.9L190.0,205.0L191.5,199.0L193.0,193.0L194.8,199.9L196.6,208.0L198.1,188.6L199.0,199.4L199.8,211.0L200.8,194.6L201.7,177.2L202.6,182.9L203.5,188.6L204.3,199.9L205.2,213.5L206.8,213.5L206.8,217.8L207.7,206.4L208.6,197.6L210.2,197.6L210.2,199.3L211.5,230.2L212.4,230.2L212.4,230.4L213.3,230.4L213.3,228.3L214.6,198.8L215.9,169.1L217.2,140.9L218.5,110.4L219.8,133.8L221.0,157.3L222.2,179.1L223.5,203.4L224.8,227.4L226.0,250.0L227.2,225.1L228.4,197.0L229.6,171.4L230.8,144.8L232.0,120.4L233.5,152.9L235.1,183.2L236.6,215.5L238.1,241.8L238.9,234.1L239.7,223.6L241.2,248.1L242.8,234.0L244.3,244.3L246.0,183.3L247.8,122.0L249.0,122.0L249.0,119.0L250.3,119.0L250.3,117.5L251.5,117.5L251.5,114.5L252.8,114.5L252.8,110.9L254.0,110.9L254.0,108.0L255.2,84.2L255.4,84.2L255.4,83.9L256.5,108.0L258.0,160.5L259.5,213.6L260.3,200.7L261.1,188.5L262.0,196.3L262.9,203.2L263.7,203.2L263.7,207.0L264.5,207.0L264.5,208.4L265.8,192.4L267.3,219.9L268.7,202.4L269.6,191.8L270.4,179.4L272.0,223.6L272.8,206.4L273.7,187.2L274.6,193.4L275.5,200.8L277.0,234.9L277.9,234.9L277.9,236.6L278.7,236.6L278.7,241.5L280.1,206.9L281.7,183.9L283.2,163.1L284.7,142.0L286.0,142.0L286.0,138.8L287.2,138.8L287.2,136.3L288.5,136.3L288.5,134.6L289.8,152.8L291.1,170.6L292.4,188.4L293.7,208.3L295.0,228.6L296.4,198.0L297.2,218.0L298.0,237.0L298.9,219.2L299.8,199.7L301.3,168.5L302.8,138.2L304.3,109.5L305.6,134.5L306.9,157.6L308.1,181.9L309.4,207.9L310.7,232.0L312.0,255.0L313.5,216.8L315.0,179.9L316.5,143.8L318.2,143.8L318.2,141.9L319.9,141.9L319.9,140.5L321.3,152.0L322.8,162.0L324.2,174.5L325.2,174.5L325.2,169.8L326.1,169.8L326.1,168.3L326.9,187.7L327.7,209.8L328.5,194.1L329.3,179.8L330.9,219.0L332.5,186.4L333.4,203.9L334.4,219.0L335.9,184.6L337.5,198.3L338.4,212.0L339.2,228.7L340.6,200.7L342.1,209.3L343.3,189.5L344.6,167.3L345.8,148.0L347.4,177.8L349.0,208.0L349.9,242.0L350.5,290.0L351.6,290.0L351.6,288.2L352.4,288.2L352.4,292.7L353.2,298.1L354.4,298.1L354.4,294.4L355.7,294.4L355.7,293.2L356.9,293.2L356.9,289.9L358.2,289.9L358.2,289.9L359.0,289.9L359.0,285.8L359.8,285.8L359.8,284.9L361.0,284.9L361.0,288.4L362.3,288.4L362.3,289.9L363.9,289.9L363.9,289.5L365.6,289.5L365.6,291.5L366.8,291.5L366.8,289.3L368.1,289.3L368.1,289.9L368.9,284.8L369.7,276.7L370.5,276.7L370.5,275.6L371.4,275.6L371.4,275.0L372.2,242.0L373.8,210.0L375.0,201.5L376.2,195.6L377.5,202.3L378.8,210.0L380.0,225.1L381.3,242.0L382.1,254.3L382.9,266.8L384.1,277.8L385.4,288.2L386.6,288.2L386.6,290.7L387.9,290.7L387.9,291.5L389.1,291.5L389.1,291.7L390.3,291.7L390.3,291.5L391.6,291.5L391.6,290.5L392.8,290.5L392.8,291.5L394.5,291.5L394.5,291.6L396.1,291.6L396.1,293.2L397.3,293.2L397.3,293.5L398.6,293.5L398.6,291.5L400.2,291.5L400.2,291.6L401.9,291.6L401.9,289.9L403.1,283.7L404.4,276.7L405.6,276.7L405.6,278.6L406.8,278.6L406.8,280.0L408.1,280.0L408.1,280.8L409.3,280.8L409.3,284.9L410.5,284.9L410.5,287.1L411.8,287.1L411.8,286.6L413.0,286.6L413.0,287.2L414.3,287.2L414.3,289.9L415.9,289.9L415.9,292.6L417.6,292.6L417.6,294.8L419.2,294.8L419.2,295.8L420.9,295.8L420.9,296.5L421.7,296.5L421.7,292.0L422.5,284.9L423.7,269.5L425.0,253.6L425.8,253.6L425.8,255.0L426.6,255.0L426.6,255.2L427.5,265.4L428.3,275.0L429.5,280.7L430.8,288.2L432.0,288.2L432.0,289.0L433.2,289.0L433.2,289.9L434.5,289.9L434.5,290.7L435.7,290.7L435.7,289.9L436.5,282.1L437.4,271.7L438.2,271.7L438.2,269.7L439.0,269.7L439.0,268.4L439.8,268.4L439.8,268.7L440.7,268.7L440.7,270.1L441.9,280.6L443.1,288.2L444.4,288.2L444.4,287.9L445.6,287.9L445.6,289.9L446.8,281.0L448.1,271.7L449.3,271.7L449.3,271.9L450.6,271.9L450.6,271.7L451.4,271.7L451.4,276.6L452.2,276.6L452.2,280.0L453.9,280.0L453.9,280.3L455.5,280.3L455.5,281.6L457.2,281.6L457.2,285.5L458.8,285.5L458.8,288.2L460.0,278.0L460.9,278.0L460.9,278.6L461.9,278.6L461.9,279.2L462.8,284.8L463.8,284.8L463.8,288.0L464.7,288.0L464.7,288.3L465.6,288.3L465.6,288.0L466.6,288.0L466.6,286.9L467.5,286.9L467.5,283.0L468.4,283.0L468.4,280.0L469.4,280.0L469.4,279.2L470.3,279.2L470.3,280.9L471.2,280.9L471.2,280.5L472.2,280.5L472.2,281.6L473.1,281.6L473.1,285.5L474.1,285.5L474.1,285.4L475.0,285.4L475.0,283.0L475.9,283.0L475.9,280.9L476.9,280.9L476.9,276.8L477.8,276.8L477.8,275.0L478.8,275.0L478.8,274.2L479.7,274.2L479.7,271.6L480.6,271.6L480.6,270.5L481.9,270.5L481.9,269.2L482.8,269.2L482.8,266.8L483.8,266.8L483.8,265.5L485.0,240.5L486.2,233.1L487.5,228.0L488.8,228.0L488.8,230.4L490.0,230.4L490.0,233.0L491.2,275.5L492.2,275.5L492.2,272.2L493.1,272.2L493.1,270.5L494.7,270.5L494.7,266.9L496.2,266.9L496.2,264.2L497.5,264.2L497.5,263.9L498.8,263.9L498.8,265.5L500.0,258.0L501.2,264.2L502.5,256.3L503.8,245.5L504.7,254.7L505.6,261.8L506.6,261.8L506.6,257.8L507.5,257.8L507.5,253.0L507.5,273.0L508.4,273.0L508.4,273.6L509.4,273.6L509.4,276.8L510.3,276.8L510.3,277.4L511.2,277.4L511.2,279.2L512.5,279.2L512.5,279.1L513.8,279.1L513.8,278.0L514.7,278.0L514.7,274.3L515.6,274.3L515.6,273.0L516.6,273.0L516.6,271.7L517.5,271.7L517.5,269.2L518.8,269.2L518.8,267.2L520.0,267.2L520.0,268.0L520.9,268.0L520.9,271.2L521.9,276.8L523.1,284.2L524.1,284.2L524.1,284.8L525.0,284.8L525.0,283.0L525.9,283.0L525.9,279.3L526.9,279.3L526.9,276.8L528.4,262.2L530.0,245.5L531.2,245.5L531.2,246.8L532.5,246.8L532.5,248.0L533.8,268.0L535.0,268.0L535.0,270.5L535.9,276.2L536.9,276.2L536.9,280.5L537.8,280.5L537.8,280.2L538.8,280.2L538.8,276.8L539.7,276.8L539.7,274.0L540.6,274.0L540.6,270.5L541.6,270.5L541.6,272.4L542.5,272.4L542.5,273.0L543.4,273.0L543.4,275.1L544.4,275.1L544.4,279.2L545.3,279.2L545.3,283.4L546.2,283.4L546.2,288.0L547.2,288.0L547.2,287.8L548.1,287.8L548.1,288.0L549.1,288.0L549.1,285.6L550.0,280.5L550.9,280.5L550.9,279.7L551.9,279.7L551.9,278.0L552.8,278.0L552.8,278.3L553.8,278.3L553.8,276.8L554.7,276.8L554.7,278.9L555.6,278.9L555.6,283.0L556.6,283.0L556.6,283.8L557.5,283.8L557.5,283.0L558.8,283.0L558.8,279.6L560.0,279.6L560.0,279.2L560.9,279.2L560.9,280.3L561.9,280.3L561.9,281.8L562.8,281.8L562.8,281.9L563.8,281.9L563.8,279.2L565.0,279.2L565.0,279.7L566.2,279.7L566.2,283.0L567.5,283.0L567.5,284.5L568.8,284.5L568.8,286.8L569.7,286.8L569.7,284.0L570.6,284.0L570.6,280.5L571.6,273.1L572.5,268.0L573.4,268.0L573.4,264.3L574.4,264.3L574.4,263.0L575.3,270.1L576.2,270.1L576.2,274.2L577.5,274.2L577.5,271.7L578.8,271.7L578.8,270.5L580.0,270.5L580.0,267.8L581.2,261.2L582.5,261.2L582.5,258.0L583.8,246.6L585.0,238.0L586.2,247.7L587.5,258.0L588.8,248.9L590.0,242.3L591.2,233.0L592.5,222.7L593.8,215.5L595.0,215.5L595.0,210.6L596.2,210.6L596.2,208.0L597.5,194.2L598.8,183.0L600.0,183.0L600.0,178.4L601.2,178.4L601.2,175.5L602.5,184.3L603.8,195.5L605.0,207.1L606.2,221.5L607.5,233.0L608.8,242.4L610.0,250.5L610.0,268.0L610.0,263.0L611.2,263.0L611.2,267.7L612.5,267.7L612.5,271.8L613.8,271.8L613.8,273.4L615.0,273.4L615.0,273.0L616.2,273.0L616.2,274.4L617.5,274.4L617.5,275.5L618.8,275.5L618.8,277.1L620.0,277.1L620.0,278.0L621.2,230.5L621.9,279.2L623.4,254.1L625.0,230.5L626.2,244.9L627.5,258.0L628.1,270.5L629.4,263.0L630.3,263.0L630.3,264.5L631.2,264.5L631.2,265.5L632.2,265.5L632.2,269.5L633.1,269.5L633.1,273.0L634.1,273.0L634.1,276.9L635.0,276.9L635.0,281.8L635.9,281.8L635.9,280.8L636.9,280.8L636.9,283.0L637.8,277.2L638.8,277.2L638.8,274.2L639.7,274.2L639.7,274.8L640.6,274.8L640.6,276.8L641.6,282.7L642.5,282.7L642.5,286.8L643.4,286.8L643.4,288.5L644.4,288.5L644.4,289.2L645.3,289.2L645.3,287.5L646.2,287.5L646.2,285.5L647.2,285.5L647.2,286.0L648.1,286.0L648.1,286.8L649.1,286.8L649.1,286.6L650.0,286.6L650.0,289.2L650.9,289.2L650.9,291.2L651.9,291.2L651.9,291.8L652.8,291.8L652.8,289.1L653.8,289.1L653.8,289.2L654.7,289.2L654.7,287.4L655.6,287.4L655.6,283.0L656.9,283.0L656.9,278.7L658.1,278.7L658.1,275.5L659.1,275.5L659.1,279.1L660.0,279.1L660.0,281.8L660.9,281.8L660.9,283.2L661.9,283.2L661.9,286.8L662.8,286.8L662.8,289.0L663.8,289.0L663.8,290.5L664.7,290.5L664.7,288.7L665.6,288.7L665.6,289.2L666.6,289.2L666.6,289.2L667.5,289.2L667.5,288.0L668.4,288.0L668.4,287.3L669.4,287.3L669.4,289.2L670.3,289.2L670.3,289.2L671.2,289.2L671.2,286.8L672.5,286.8L672.5,285.9L673.8,285.9L673.8,283.0L675.0,283.0L675.0,279.0L676.2,279.0L676.2,275.5L677.2,275.5L677.2,274.6L678.1,274.6L678.1,270.5L679.6,258.2L681.0,247.5L682.5,238.0L683.8,245.6L685.0,253.0L685.0,263.0L686.2,263.0L686.2,266.2L687.5,266.2L687.5,268.0L688.8,274.2L689.7,274.2L689.7,277.3L690.6,277.3L690.6,280.5L691.6,280.5L691.6,283.2L692.5,283.2L692.5,288.0L693.4,288.0L693.4,288.2L694.4,288.2L694.4,286.8L695.3,286.8L695.3,284.7L696.2,284.7L696.2,285.5L697.2,285.5L697.2,287.4L698.1,287.4L698.1,286.8L699.1,286.8L699.1,282.5L700.0,282.5L700.0,278.0L700.9,278.0L700.9,274.5L701.9,269.2L702.5,258.0L703.8,248.5L705.0,241.5L706.2,233.0L707.5,239.2L708.8,239.2L708.8,243.0L710.0,260.7L711.2,276.8L712.5,276.8L712.5,276.3L713.8,276.3L713.8,274.2L714.7,274.2L714.7,273.3L715.6,273.3L715.6,270.5L716.6,270.5L716.6,272.1L717.5,272.1L717.5,273.0L718.4,278.6L719.4,278.6L719.4,283.0L720.3,283.0L720.3,287.7L721.2,293.0L722.2,293.0L722.2,291.1L723.1,291.1L723.1,288.0L724.1,288.0L724.1,284.0L725.0,284.0L725.0,281.8L725.9,281.8L725.9,281.1L726.9,281.1L726.9,280.5L727.8,280.5L727.8,281.9L728.8,281.9L728.8,285.5L729.7,285.5L729.7,284.1L730.6,284.1L730.6,283.0L731.6,283.0L731.6,281.1L732.5,281.1L732.5,279.2L733.8,279.2L733.8,279.0L735.0,279.0L735.0,278.0L736.2,278.0L736.2,279.9L737.5,279.9L737.5,283.0L738.8,283.0L738.8,282.4L740.0,282.4L740.0,284.2L740.9,284.2L740.9,282.9L741.9,282.9L741.9,280.5L742.8,280.5L742.8,278.4L743.8,278.4L743.8,278.0L745.0,278.0L745.0,278.9L746.2,278.9L746.2,281.8L747.5,281.8L747.5,280.2L748.8,280.2L748.8,280.5L749.7,280.5L749.7,279.8L750.6,279.8L750.6,276.8L751.6,276.8L751.6,277.3L752.5,277.3L752.5,275.5L753.8,260.6L755.0,247.8L756.2,233.0L757.5,233.0L757.5,231.9L758.8,231.9L758.8,230.5L760.0,265.5L761.2,250.5L761.9,276.8L762.8,276.8L762.8,272.0L763.8,272.0L763.8,268.0L765.0,268.0L765.0,265.4L766.2,265.4L766.2,265.5L767.5,265.5L767.5,263.8L768.8,263.8L768.8,263.0L770.0,235.5L771.2,260.5L772.5,248.0L773.8,259.1L775.0,269.2L776.2,230.0L777.5,165.0L778.8,165.0L778.8,163.4L780.0,163.4L780.0,165.0L780.9,174.7L781.8,185.0L783.0,230.0L784.6,250.8L786.2,274.2L787.2,274.2L787.2,272.2L788.1,272.2L788.1,270.5L789.1,270.5L789.1,265.8L790.0,265.8L790.0,263.0L791.2,253.0L792.5,253.0L792.5,256.8L793.8,256.8L793.8,260.5L795.0,260.5L795.0,258.0L796.2,268.0L797.2,268.0L797.2,271.2L798.1,276.8L799.1,276.8L799.1,280.2L800.0,280.2L800.0,280.5L800.9,280.5L800.9,284.5L801.9,284.5L801.9,285.5L802.8,285.5L802.8,284.7L803.8,284.7L803.8,281.8L804.7,281.8L804.7,284.5L805.6,284.5L805.6,284.2L806.6,284.2L806.6,281.3L807.5,281.3L807.5,280.5L808.8,248.0L809.4,263.0L810.9,244.7L812.5,228.0L813.8,228.0L813.8,232.8L815.0,240.5L816.2,245.5L817.5,256.6L818.8,270.5L820.0,283.0L820.9,283.0L820.9,284.5L821.9,284.5L821.9,289.2L822.8,289.2L822.8,289.0L823.8,289.0L823.8,288.0L825.0,288.0L825.0,287.7L826.2,287.7L826.2,288.0L827.5,288.0L827.5,288.1L828.8,288.1L828.8,286.8L830.0,286.8L830.0,287.9L831.2,287.9L831.2,288.0L832.5,288.0L832.5,286.5L833.8,286.5L833.8,285.5L835.0,285.5L835.0,285.2L836.2,285.2L836.2,286.8L837.5,286.8L837.5,287.8L838.8,287.8L838.8,286.8L839.7,281.1L840.6,281.1L840.6,276.8L841.9,276.8L841.9,276.3L843.1,276.3L843.1,274.2L844.1,274.2L844.1,276.7L845.0,276.7L845.0,280.5L846.2,280.5L846.2,285.2L847.5,285.2L847.5,286.8L848.8,286.8L848.8,287.9L850.0,287.9L850.0,288.0L851.2,288.0L851.2,287.7L852.5,287.7L852.5,289.2L853.8,289.2L853.8,285.6L855.0,280.5L856.2,280.5L856.2,275.6L857.5,275.6L857.5,271.8L858.8,266.8L859.7,266.8L859.7,269.3L860.6,269.3L860.6,274.2L861.6,274.2L861.6,278.5L862.5,278.5L862.5,280.5L863.8,285.7L865.0,285.7L865.0,288.0L866.2,288.0L866.2,289.6L867.5,289.6L867.5,293.0L868.8,293.0L868.8,293.6L870.0,293.6L870.0,294.2L871.2,294.2L871.2,294.5L872.5,294.5L872.5,295.5L873.8,295.5L873.8,296.8L875.0,296.8L875.0,296.8L876.2,296.8L876.2,297.3L877.5,297.3L877.5,298.0L878.8,298.0L878.8,297.4L880.0,297.4L880.0,298.0L880.9,298.0L880.9,295.3L881.9,295.3L881.9,290.5L882.8,290.5L882.8,289.0L883.8,289.0L883.8,289.2L884.7,289.2L884.7,285.0L885.6,285.0L885.6,283.0L886.6,273.3L887.5,266.8L888.4,266.8L888.4,266.1L889.4,266.1L889.4,268.0L890.3,275.2L891.2,283.0L892.5,298.0L893.4,298.0L893.4,296.9L894.4,296.9L894.4,293.0L895.3,293.0L895.3,290.2L896.2,290.2L896.2,288.0L897.2,288.0L897.2,287.7L898.1,287.7L898.1,284.2L899.1,284.2L899.1,286.8L900.0,286.8L900.0,286.8L900.9,286.8L900.9,291.5L901.9,291.5L901.9,294.2L902.8,294.2L902.8,298.9L903.8,298.9L903.8,300.5L905.0,300.5L905.0,300.5L906.2,300.5L906.2,299.2L907.5,299.2L907.5,298.9L908.8,298.9L908.8,298.8L910.0,298.8L910.0,299.2L910.0,299.2L910.0,301.8L911.2,301.8L911.2,302.7L912.5,302.7L912.5,301.8L913.8,301.8L913.8,298.7L915.0,298.7L915.0,298.0L916.2,298.0L916.2,296.9L917.5,296.9L917.5,294.2L918.8,294.2L918.8,294.3L920.0,294.3L920.0,294.2L921.2,294.2L921.2,295.5L922.5,295.5L922.5,295.5L923.8,295.5L923.8,298.1L925.0,298.1L925.0,298.0L926.2,298.0L926.2,293.7L927.5,293.7L927.5,289.2L928.8,289.2L928.8,292.5L930.0,292.5L930.0,293.0L931.2,293.0L931.2,292.3L932.5,292.3L932.5,294.2L933.8,294.2L933.8,298.3L935.0,298.3L935.0,301.8L936.2,301.8L936.2,301.2L937.5,301.2L937.5,298.0L938.8,298.0L938.8,297.4L940.0,297.4L940.0,295.5L941.2,295.5L941.2,293.6L942.5,293.6L942.5,290.5L943.8,290.5L943.8,291.8L945.0,291.8L945.0,290.5L946.2,290.5L946.2,288.9L947.5,288.9L947.5,286.8L948.8,279.6L950.0,274.2L951.2,274.2L951.2,275.8L952.5,275.8L952.5,275.5L953.4,275.5L953.4,278.6L954.4,278.6L954.4,283.0L955.3,283.0L955.3,287.8L956.2,294.2L957.5,294.2L957.5,292.8L958.8,292.8L958.8,294.2L960.0,294.2L960.0,296.3L961.2,296.3L961.2,296.8L962.5,296.8L962.5,296.9L963.8,296.9L963.8,298.0L965.0,298.0L965.0,293.2L966.2,293.2L966.2,290.5L967.5,290.5L967.5,291.5L968.8,291.5L968.8,290.5L970.0,290.5L970.0,291.9L971.2,291.9L971.2,291.8L972.5,291.8L972.5,289.8L973.8,289.8L973.8,289.2L975.0,282.8L976.2,282.8L976.2,279.2L977.5,279.2L977.5,281.6L978.8,286.8L980.0,286.8L980.0,291.0L981.2,298.0L982.5,298.0L982.5,294.2L983.8,294.2L983.8,289.2L984.7,281.5L985.6,281.5L985.6,276.8L986.6,276.8L986.6,281.5L987.5,281.5L987.5,285.5L988.8,285.5L988.8,290.0L990.0,290.0L990.0,294.2L991.2,294.2L991.2,297.1L992.5,297.1L992.5,298.0L993.8,298.0L993.8,297.6L995.0,297.6L995.0,299.2L996.2,299.2L996.2,299.5L997.5,299.5L997.5,299.2L998.8,299.2L998.8,296.6L1000.0,296.6L1000.0,296.8L1001.2,296.8L1001.2,295.9L1002.5,295.9L1002.5,294.2L1003.8,294.2L1003.8,293.9L1005.0,293.9L1005.0,295.5L1006.2,295.5L1006.2,295.1L1007.5,295.1L1007.5,296.8L1008.8,296.8L1008.8,297.1L1010.0,297.1L1010.0,294.2L1011.2,294.2L1011.2,294.0L1012.5,294.0L1012.5,291.8L1013.8,291.8L1013.8,294.0L1015.0,294.0L1015.0,294.2L1016.2,294.2L1016.2,293.6L1017.5,293.6L1017.5,293.0L1018.8,293.0L1018.8,294.5L1020.0,294.5L1020.0,294.2L1021.2,294.2L1021.2,295.8L1022.5,295.8L1022.5,298.0L1023.8,298.0L1023.8,298.0L1025.0,298.0L1025.0,300.5L1026.2,295.2L1027.5,295.2L1027.5,293.0L1028.8,293.0L1028.8,289.1L1030.0,289.1L1030.0,284.2L1031.2,284.2L1031.2,285.6L1032.5,285.6L1032.5,286.8L1033.8,286.8L1033.8,288.3L1035.0,288.3L1035.0,290.5L1036.2,290.5L1036.2,291.4L1037.5,291.4L1037.5,293.0L1038.8,293.0L1038.8,291.7L1040.0,291.7L1040.0,293.0L1041.2,293.0L1041.2,293.1L1042.5,293.1L1042.5,294.2L1043.8,294.2L1043.8,294.1L1045.0,294.1L1045.0,295.5L1046.2,295.5L1046.2,293.9L1047.5,293.9L1047.5,294.2L1048.8,294.2L1048.8,294.6L1050.0,294.6L1050.0,296.8L1051.2,296.8L1051.2,292.2L1052.5,292.2L1052.5,290.5L1053.8,290.5L1053.8,287.1L1055.0,280.5L1056.2,280.5L1056.2,277.1L1057.5,277.1L1057.5,276.8L1058.8,276.8L1058.8,278.1L1060.0,278.1L1060.0,278.0L1060.0,295.5L1061.2,295.5L1061.2,297.5L1062.5,297.5L1062.5,298.0L1063.8,298.0L1063.8,299.6L1065.0,299.6L1065.0,301.8L1066.2,301.8L1066.2,301.9L1067.5,301.9L1067.5,300.5L1068.8,300.5L1068.8,298.0L1070.0,298.0L1070.0,298.0L1071.2,298.0L1071.2,296.4L1072.5,296.4L1072.5,296.8L1073.8,296.8L1073.8,298.7L1075.0,298.7L1075.0,299.2L1076.2,299.2L1076.2,297.7L1077.5,297.7L1077.5,298.0L1078.8,298.0L1078.8,296.3L1080.0,296.3L1080.0,295.5L1081.2,295.5L1081.2,292.1L1082.5,292.1L1082.5,288.0L1083.8,288.0L1083.8,289.8L1085.0,289.8L1085.0,293.0L1086.2,293.0L1086.2,292.4L1087.5,292.4L1087.5,290.5L1088.8,290.5L1088.8,291.1L1090.0,291.1L1090.0,291.8L1091.2,291.8L1091.2,292.1L1092.5,292.1L1092.5,295.5L1093.8,295.5L1093.8,292.2L1095.0,292.2L1095.0,289.2L1096.2,289.2L1096.2,288.1L1097.5,288.1L1097.5,288.0L1098.8,288.0L1098.8,284.2L1100.0,284.2L1100.0,283.0L1101.2,283.0L1101.2,279.8L1102.5,279.8L1102.5,278.0L1103.4,278.0L1103.4,281.0L1104.4,286.8L1105.3,286.8L1105.3,288.6L1106.2,288.6L1106.2,289.2L1107.5,289.2L1107.5,291.2L1108.8,291.2L1108.8,293.0L1110.0,293.0L1110.0,293.7L1111.2,293.7L1111.2,294.2L1112.5,294.2L1112.5,292.6L1113.8,292.6L1113.8,293.0L1115.0,293.0L1115.0,295.0L1116.2,295.0L1116.2,296.8L1117.5,296.8L1117.5,297.1L1118.8,297.1L1118.8,298.0L1120.0,298.0L1120.0,296.8L1121.2,296.8L1121.2,298.0L1122.2,298.0L1122.2,300.6L1123.1,300.6L1123.1,300.5L1124.4,270.5L1125.3,248.7L1126.2,230.0L1126.2,230.0L1126.2,233.0L1127.5,208.0L1128.0,215.0L1129.2,203.8L1130.5,230.0L1130.5,208.0L1131.2,228.0L1132.5,250.5L1133.8,250.5L1133.8,253.7L1135.0,253.7L1135.0,255.5L1135.0,263.0L1136.2,257.5L1137.5,257.5L1137.5,253.0L1137.5,268.0L1138.8,275.1L1140.0,283.0L1141.2,283.0L1141.2,285.2L1142.5,285.2L1142.5,285.5L1143.8,285.5L1143.8,281.0L1145.0,281.0L1145.0,278.0L1146.2,272.8L1147.5,265.5L1148.8,265.5L1148.8,262.9L1150.0,262.9L1150.0,263.0L1151.2,263.0L1151.2,267.2L1152.5,273.0L1153.8,281.6L1155.0,293.0L1156.2,293.0L1156.2,296.0L1157.5,296.0L1157.5,298.0L1158.8,298.0L1158.8,296.8L1160.0,296.8L1160.0,295.5L1161.2,295.5L1161.2,292.9L1162.5,292.9L1162.5,293.0L1163.8,293.0L1163.8,291.0L1165.0,291.0L1165.0,290.5L1165.9,290.5L1165.9,290.8L1166.9,290.8L1166.9,293.0" stroke="#0000c0" stroke-width="1.1" fill="none" stroke-linejoin="bevel"/>
</g>
<rect x="67.5" y="8.5" width="1121.0" height="299.0" fill="none" stroke="#646464" stroke-width="1"/>
<path d="M63.5 8V307.5" stroke="#808080" stroke-width="1"/>
<path d="M61 307.5H63.5M61 278.5H63.5M61 250.5H63.5M61 221.5H63.5M61 192.5H63.5M61 164.5H63.5M61 135.5H63.5M61 106.5H63.5M61 77.5H63.5M61 49.5H63.5M61 20.5H63.5" stroke="#808080" stroke-width="1"/>
<text x="49.6" y="311.5" class="tl" textLength="7.2" lengthAdjust="spacing">0</text>
<text x="41.4" y="282.8" class="tl" textLength="15.4" lengthAdjust="spacing">10</text>
<text x="41.4" y="254.1" class="tl" textLength="15.4" lengthAdjust="spacing">20</text>
<text x="41.4" y="225.4" class="tl" textLength="15.4" lengthAdjust="spacing">30</text>
<text x="41.4" y="196.7" class="tl" textLength="15.4" lengthAdjust="spacing">40</text>
<text x="41.4" y="168.0" class="tl" textLength="15.4" lengthAdjust="spacing">50</text>
<text x="41.4" y="139.3" class="tl" textLength="15.4" lengthAdjust="spacing">60</text>
<text x="41.4" y="110.6" class="tl" textLength="15.4" lengthAdjust="spacing">70</text>
<text x="41.4" y="81.9" class="tl" textLength="15.4" lengthAdjust="spacing">80</text>
<text x="41.4" y="53.2" class="tl" textLength="15.4" lengthAdjust="spacing">90</text>
<text x="34.4" y="24.5" class="tl" textLength="22.4" lengthAdjust="spacing">100</text>
<path d="M67 311.5H1189" stroke="#808080" stroke-width="1"/>
<path d="M83.80 311.5V314M128.92 311.5V314M174.04 311.5V314M219.16 311.5V314M264.28 311.5V314M309.40 311.5V314M354.52 311.5V314M399.64 311.5V314M444.76 311.5V314M489.88 311.5V314M535.00 311.5V314M580.12 311.5V314M625.24 311.5V314M670.36 311.5V314M715.48 311.5V314M760.60 311.5V314M805.72 311.5V314M850.84 311.5V314M895.96 311.5V314M941.08 311.5V314M986.20 311.5V314M1031.32 311.5V314M1076.44 311.5V314M1121.56 311.5V314M1166.68 311.5V314" stroke="#808080" stroke-width="1"/>
<text x="66.50" y="325.8" class="tx" textLength="35.2" lengthAdjust="spacing">00:00</text>
<text x="111.62" y="325.8" class="tx" textLength="35.2" lengthAdjust="spacing">01:00</text>
<text x="156.74" y="325.8" class="tx" textLength="35.2" lengthAdjust="spacing">02:00</text>
<text x="201.86" y="325.8" class="tx" textLength="35.2" lengthAdjust="spacing">03:00</text>
<text x="246.98" y="325.8" class="tx" textLength="35.2" lengthAdjust="spacing">04:00</text>
<text x="292.10" y="325.8" class="tx" textLength="35.2" lengthAdjust="spacing">05:00</text>
<text x="337.22" y="325.8" class="tx" textLength="35.2" lengthAdjust="spacing">06:00</text>
<text x="382.34" y="325.8" class="tx" textLength="35.2" lengthAdjust="spacing">07:00</text>
<text x="427.46" y="325.8" class="tx" textLength="35.2" lengthAdjust="spacing">08:00</text>
<text x="472.58" y="325.8" class="tx" textLength="35.2" lengthAdjust="spacing">09:00</text>
<text x="517.70" y="325.8" class="tx" textLength="35.2" lengthAdjust="spacing">10:00</text>
<text x="562.82" y="325.8" class="tx" textLength="35.2" lengthAdjust="spacing">11:00</text>
<text x="607.94" y="325.8" class="tx" textLength="35.2" lengthAdjust="spacing">12:00</text>
<text x="653.06" y="325.8" class="tx" textLength="35.2" lengthAdjust="spacing">13:00</text>
<text x="698.18" y="325.8" class="tx" textLength="35.2" lengthAdjust="spacing">14:00</text>
<text x="743.30" y="325.8" class="tx" textLength="35.2" lengthAdjust="spacing">15:00</text>
<text x="788.42" y="325.8" class="tx" textLength="35.2" lengthAdjust="spacing">16:00</text>
<text x="833.54" y="325.8" class="tx" textLength="35.2" lengthAdjust="spacing">17:00</text>
<text x="878.66" y="325.8" class="tx" textLength="35.2" lengthAdjust="spacing">18:00</text>
<text x="923.78" y="325.8" class="tx" textLength="35.2" lengthAdjust="spacing">19:00</text>
<text x="968.90" y="325.8" class="tx" textLength="35.2" lengthAdjust="spacing">20:00</text>
<text x="1014.02" y="325.8" class="tx" textLength="35.2" lengthAdjust="spacing">21:00</text>
<text x="1059.14" y="325.8" class="tx" textLength="35.2" lengthAdjust="spacing">22:00</text>
<text x="1104.26" y="325.8" class="tx" textLength="35.2" lengthAdjust="spacing">23:00</text>
<text x="1149.38" y="325.8" class="tx" textLength="35.2" lengthAdjust="spacing">00:00</text>
<text x="628" y="346" class="lab" text-anchor="middle">Time</text>
<text transform="translate(25.5,158) rotate(-90)" x="0" y="0" class="lab" text-anchor="middle">% util</text>
<rect x="1.5" y="357.5" width="1197" height="41" fill="none" stroke="#000000" stroke-width="1"/>
<path d="M5 368.5H20" stroke="#ff5555" stroke-width="1"/>
<text x="23.2" y="372.2" class="lg" textLength="97.6" lengthAdjust="spacing">sde (moving avg)</text>
<path d="M127 368.5H142" stroke="#5555ff" stroke-width="1"/>
<text x="144.9" y="372.2" class="lg" textLength="95.1" lengthAdjust="spacing">sdf (moving avg)</text>
<path d="M246 368.5H261" stroke="#55ff55" stroke-width="1"/>
<text x="263.8" y="372.2" class="lg" textLength="97.8" lengthAdjust="spacing">sdg (moving avg)</text>
<path d="M368 368.5H383" stroke="#ffff55" stroke-width="1"/>
<text x="386.0" y="372.2" class="lg" textLength="97.8" lengthAdjust="spacing">sdh (moving avg)</text>
<path d="M490 368.5H505" stroke="#ff55ff" stroke-width="1"/>
<text x="507.9" y="372.2" class="lg" textLength="94.5" lengthAdjust="spacing">sdj (moving avg)</text>
<path d="M609 368.5H624" stroke="#55ffff" stroke-width="1"/>
<text x="626.9" y="372.2" class="lg" textLength="98.0" lengthAdjust="spacing">sdk (moving avg)</text>
<path d="M731 368.5H746" stroke="#ffafaf" stroke-width="1"/>
<text x="748.7" y="372.2" class="lg" textLength="93.7" lengthAdjust="spacing">sdl (moving avg)</text>
<path d="M849 368.5H864" stroke="#808080" stroke-width="1"/>
<text x="866.9" y="372.2" class="lg" textLength="111.2" lengthAdjust="spacing">dm&#8211;0 (moving avg)</text>
<path d="M984 368.5H999" stroke="#c00000" stroke-width="1"/>
<text x="1002.0" y="372.2" class="lg" textLength="111.0" lengthAdjust="spacing">dm&#8211;1 (moving avg)</text>
<path d="M5 388.5H20" stroke="#0000c0" stroke-width="1"/>
<text x="23.2" y="392.2" class="lg" textLength="110.7" lengthAdjust="spacing">dm&#8211;2 (moving avg)</text>
</svg></body></html>
